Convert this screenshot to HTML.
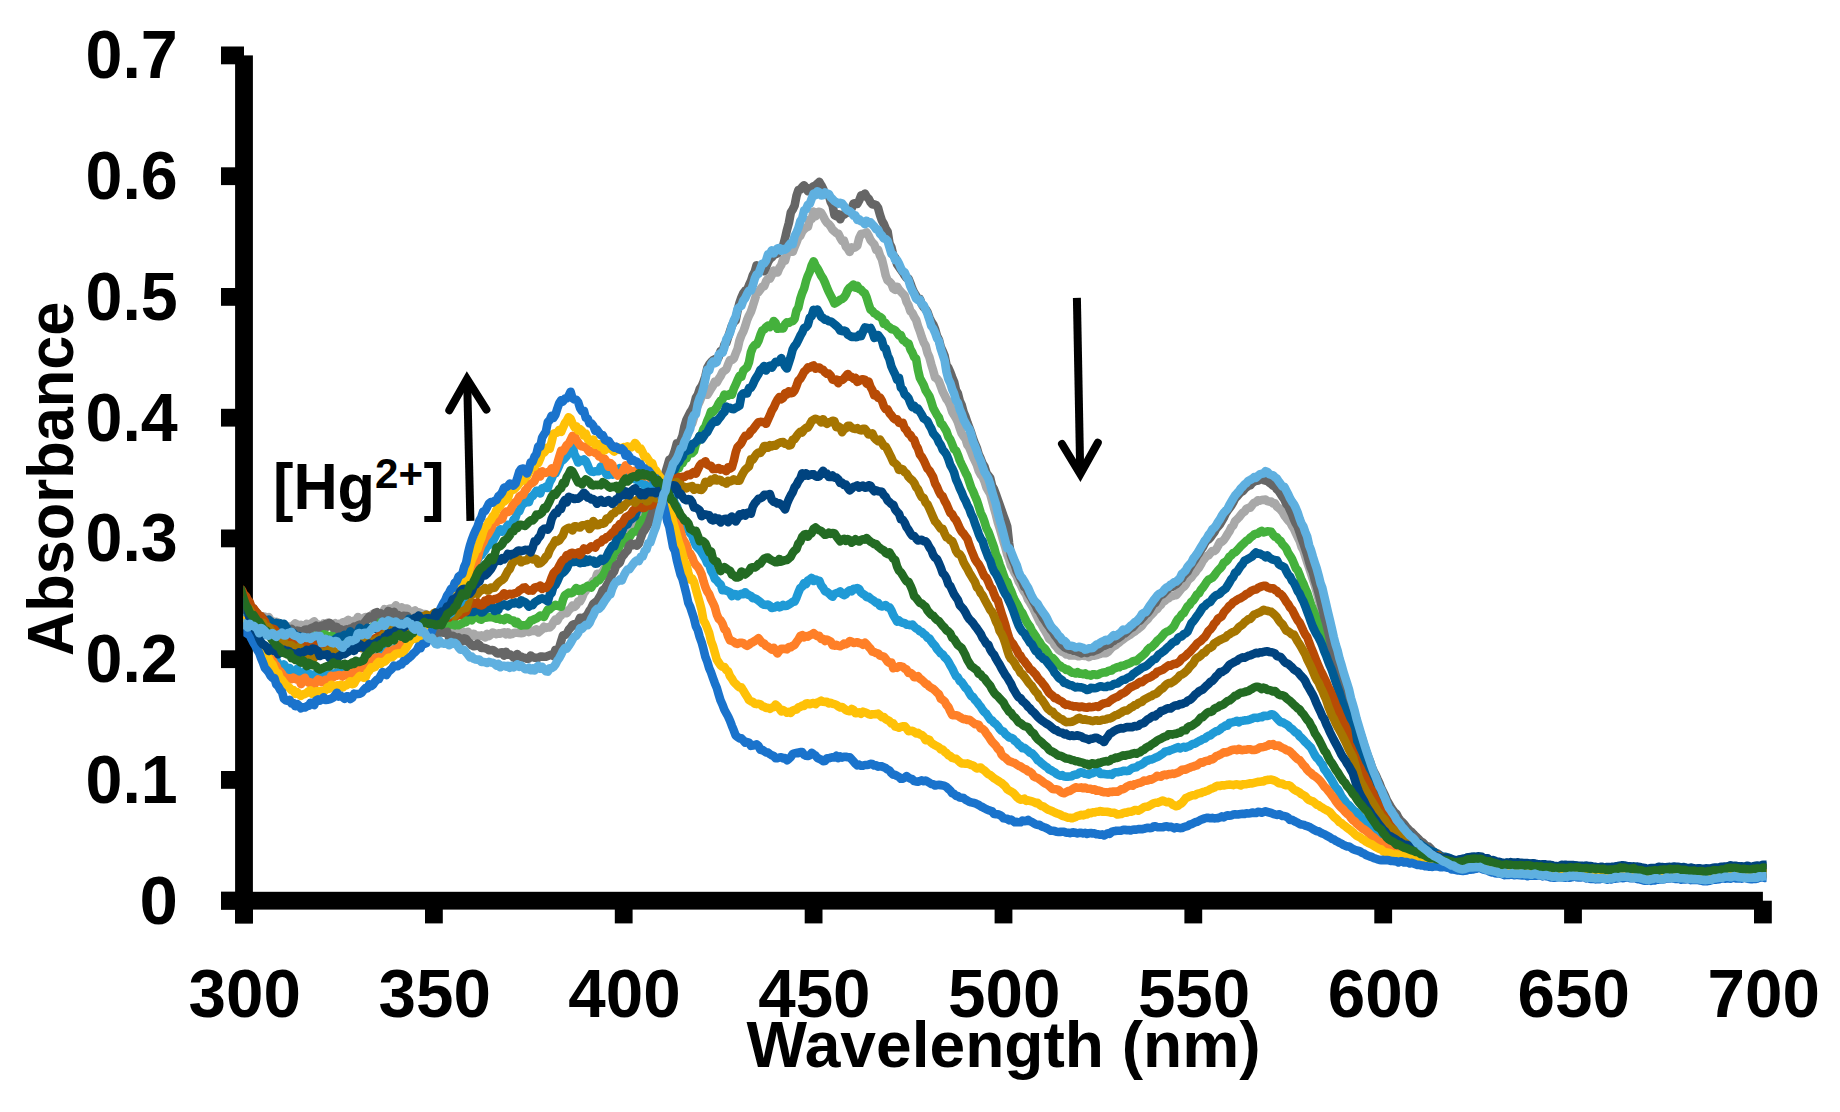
<!DOCTYPE html>
<html lang="en"><head><meta charset="utf-8"><title>UV-vis titration</title>
<style>html,body{margin:0;padding:0;background:#fff}svg{display:block}</style></head>
<body>
<svg width="1840" height="1112" viewBox="0 0 1840 1112">
<rect width="1840" height="1112" fill="#fff"/>
<g fill="#000">
<rect x="235.1" y="55.4" width="17.8" height="868.0"/>
<rect x="221.0" y="891.8" width="1541.9" height="17.8"/>
<rect x="221" y="891.8" width="23.0" height="17.8"/>
<rect x="221" y="771.0" width="23.0" height="17.8"/>
<rect x="221" y="650.3" width="23.0" height="17.8"/>
<rect x="221" y="529.5" width="23.0" height="17.8"/>
<rect x="221" y="408.8" width="23.0" height="17.8"/>
<rect x="221" y="288.0" width="23.0" height="17.8"/>
<rect x="221" y="167.3" width="23.0" height="17.8"/>
<rect x="221" y="46.5" width="23.0" height="17.8"/>
<rect x="235.1" y="900.7" width="17.8" height="22.7"/>
<rect x="425.0" y="900.7" width="17.8" height="22.7"/>
<rect x="614.8" y="900.7" width="17.8" height="22.7"/>
<rect x="804.7" y="900.7" width="17.8" height="22.7"/>
<rect x="994.6" y="900.7" width="17.8" height="22.7"/>
<rect x="1184.4" y="900.7" width="17.8" height="22.7"/>
<rect x="1374.3" y="900.7" width="17.8" height="22.7"/>
<rect x="1564.1" y="900.7" width="17.8" height="22.7"/>
<rect x="1754.0" y="900.7" width="17.8" height="22.7"/>
</g>
<clipPath id="plotclip"><rect x="243.3" y="0" width="1523.2" height="1112"/></clipPath>
<g clip-path="url(#plotclip)">
<polyline fill="none" stroke="#a8a8a8" stroke-width="8.6" stroke-linejoin="round" stroke-linecap="butt" points="240.2,614.8 242.1,614.4 244.0,620.3 245.9,617.7 247.8,616.7 249.7,617.0 251.6,615.9 253.5,615.5 255.4,617.6 257.3,616.9 259.2,619.2 261.1,618.6 263.0,616.4 264.9,616.8 266.8,618.1 268.7,617.1 270.6,620.2 272.5,621.1 274.4,623.6 276.3,621.8 278.2,622.5 280.1,624.5 282.0,626.1 283.9,624.5 285.8,628.7 287.7,626.4 289.6,628.2 291.5,626.2 293.4,625.2 295.3,623.4 297.2,624.5 299.1,628.5 301.0,624.8 302.9,626.7 304.8,626.7 306.7,623.7 308.6,624.9 310.5,625.4 312.4,622.5 314.2,621.3 316.1,624.2 318.0,624.4 319.9,627.6 321.8,626.4 323.7,623.5 325.6,624.3 327.5,622.8 329.4,625.4 331.3,626.1 333.2,624.5 335.1,623.3 337.0,625.7 338.9,623.9 340.8,625.6 342.7,622.3 344.6,622.1 346.5,621.2 348.4,619.9 350.3,625.1 352.2,624.7 354.1,620.6 356.0,621.3 357.9,617.0 359.8,620.3 361.7,620.6 363.6,618.1 365.5,617.1 367.4,617.2 369.3,617.2 371.2,615.5 373.1,613.9 375.0,613.9 376.9,613.2 378.8,614.6 380.7,613.4 382.6,612.8 384.5,609.2 386.4,609.6 388.3,609.3 390.2,608.5 392.1,608.5 394.0,607.7 395.9,605.4 397.8,608.6 399.7,609.4 401.6,607.2 403.5,609.6 405.4,608.6 407.3,608.6 409.2,610.9 411.1,614.4 413.0,612.9 414.9,610.4 416.8,612.7 418.7,612.3 420.6,613.0 422.5,615.7 424.4,614.1 426.3,614.3 428.2,615.8 430.1,621.1 432.0,621.7 433.9,621.4 435.8,621.9 437.7,624.8 439.6,627.3 441.5,625.6 443.4,627.3 445.3,631.7 447.2,630.6 449.1,629.2 451.0,630.2 452.8,630.5 454.7,631.9 456.6,632.2 458.5,631.4 460.4,632.0 462.3,633.2 464.2,632.2 466.1,633.3 468.0,631.8 469.9,634.9 471.8,636.6 473.7,633.7 475.6,635.7 477.5,635.6 479.4,635.7 481.3,635.4 483.2,636.4 485.1,637.3 487.0,633.9 488.9,636.0 490.8,634.5 492.7,632.5 494.6,633.2 496.5,634.2 498.4,633.3 500.3,633.7 502.2,632.8 504.1,632.3 506.0,634.4 507.9,632.2 509.8,634.4 511.7,634.1 513.6,633.1 515.5,632.8 517.4,632.7 519.3,633.0 521.2,633.1 523.1,633.0 525.0,630.3 526.9,629.1 528.8,632.0 530.7,631.2 532.6,630.8 534.5,631.0 536.4,629.4 538.3,632.5 540.2,630.9 542.1,629.4 544.0,626.8 545.9,628.0 547.8,627.3 549.7,627.4 551.6,625.8 553.5,622.1 555.4,619.4 557.3,620.8 559.2,617.0 561.1,615.4 563.0,613.5 564.9,613.3 566.8,613.1 568.7,610.1 570.6,608.6 572.5,605.5 574.4,606.9 576.3,605.3 578.2,601.2 580.1,601.4 582.0,597.9 583.9,593.2 585.8,590.6 587.7,587.4 589.5,585.3 591.4,583.8 593.3,580.9 595.2,580.2 597.1,573.9 599.0,573.7 600.9,573.5 602.8,571.5 604.7,568.2 606.6,562.1 608.5,557.1 610.4,555.5 612.3,556.8 614.2,551.8 616.1,546.0 618.0,540.2 619.9,538.8 621.8,535.8 623.7,534.5 625.6,531.9 627.5,526.5 629.4,527.2 631.3,527.7 633.2,523.7 635.1,519.7 637.0,516.7 638.9,513.9 640.8,516.9 642.7,515.0 644.6,509.8 646.5,509.6 648.4,504.3 650.3,501.7 652.2,498.7 654.1,496.7 656.0,494.7 657.9,491.8 659.8,488.1 661.7,485.6 663.6,484.6 665.5,483.1 667.4,479.5 669.3,473.0 671.2,469.5 673.1,465.6 675.0,462.9 676.9,456.7 678.8,454.3 680.7,450.1 682.6,443.4 684.5,436.1 686.4,432.6 688.3,430.5 690.2,424.7 692.1,423.8 694.0,417.5 695.9,410.0 697.8,405.3 699.7,401.3 701.6,396.7 703.5,390.9 705.4,391.1 707.3,394.8 709.2,391.9 711.1,388.6 713.0,385.6 714.9,381.5 716.8,382.4 718.7,378.9 720.6,376.1 722.5,372.1 724.4,370.8 726.3,369.4 728.1,364.4 730.0,360.1 731.9,360.0 733.8,358.6 735.7,353.4 737.6,348.9 739.5,340.4 741.4,335.2 743.3,331.6 745.2,326.2 747.1,319.9 749.0,315.6 750.9,311.8 752.8,306.1 754.7,299.9 756.6,293.5 758.5,292.0 760.4,289.4 762.3,286.7 764.2,286.3 766.1,281.2 768.0,278.7 769.9,278.8 771.8,275.1 773.7,270.6 775.6,271.1 777.5,272.5 779.4,267.9 781.3,265.0 783.2,259.1 785.1,260.7 787.0,253.7 788.9,251.8 790.8,250.3 792.7,251.8 794.6,247.0 796.5,242.3 798.4,237.3 800.3,235.8 802.2,231.5 804.1,229.2 806.0,227.6 807.9,226.8 809.8,219.5 811.7,219.2 813.6,211.6 815.5,216.3 817.4,212.3 819.3,211.7 821.2,212.8 823.1,216.1 825.0,219.8 826.9,222.7 828.8,224.1 830.7,226.5 832.6,229.8 834.5,231.4 836.4,233.1 838.3,233.6 840.2,237.6 842.1,241.0 844.0,240.7 845.9,246.6 847.8,248.8 849.7,251.9 851.6,247.3 853.5,247.8 855.4,247.3 857.3,245.7 859.2,238.0 861.1,234.0 863.0,233.6 864.9,233.2 866.7,232.4 868.6,235.6 870.5,240.0 872.4,242.4 874.3,244.4 876.2,249.7 878.1,249.7 880.0,255.6 881.9,259.3 883.8,267.1 885.7,275.5 887.6,280.4 889.5,281.8 891.4,283.7 893.3,288.6 895.2,289.7 897.1,286.7 899.0,289.6 900.9,291.8 902.8,293.7 904.7,295.7 906.6,302.0 908.5,305.4 910.4,311.2 912.3,312.9 914.2,316.9 916.1,319.8 918.0,326.2 919.9,331.3 921.8,337.3 923.7,342.3 925.6,345.6 927.5,353.0 929.4,357.3 931.3,364.4 933.2,370.6 935.1,377.5 937.0,378.6 938.9,381.3 940.8,386.3 942.7,391.6 944.6,395.2 946.5,399.2 948.4,401.6 950.3,405.7 952.2,411.8 954.1,415.1 956.0,418.2 957.9,422.3 959.8,428.3 961.7,433.4 963.6,436.3 965.5,438.8 967.4,445.0 969.3,447.5 971.2,452.1 973.1,456.9 975.0,460.9 976.9,465.0 978.8,471.0 980.7,474.5 982.6,476.9 984.5,481.3 986.4,487.3 988.3,490.7 990.2,493.8 992.1,500.8 994.0,508.0 995.9,514.7 997.8,522.2 999.7,528.3 1001.6,534.9 1003.5,541.6 1005.3,547.1 1007.2,554.4 1009.1,559.0 1011.0,565.8 1012.9,569.0 1014.8,573.2 1016.7,576.1 1018.6,581.4 1020.5,584.4 1022.4,588.5 1024.3,591.8 1026.2,594.6 1028.1,599.6 1030.0,602.5 1031.9,605.7 1033.8,609.4 1035.7,613.6 1037.6,617.4 1039.5,621.6 1041.4,624.2 1043.3,627.9 1045.2,631.0 1047.1,634.2 1049.0,638.5 1050.9,640.0 1052.8,641.5 1054.7,645.0 1056.6,646.9 1058.5,649.7 1060.4,651.0 1062.3,652.0 1064.2,652.7 1066.1,654.5 1068.0,654.1 1069.9,655.5 1071.8,655.2 1073.7,655.5 1075.6,655.3 1077.5,656.1 1079.4,656.2 1081.3,655.6 1083.2,655.7 1085.1,656.0 1087.0,655.8 1088.9,657.1 1090.8,656.2 1092.7,655.3 1094.6,655.7 1096.5,655.2 1098.4,654.5 1100.3,653.9 1102.2,652.6 1104.1,653.1 1106.0,653.3 1107.9,652.0 1109.8,649.9 1111.7,647.7 1113.6,646.3 1115.5,645.4 1117.4,643.8 1119.3,642.5 1121.2,640.7 1123.1,639.4 1125.0,637.9 1126.9,636.7 1128.8,635.4 1130.7,634.4 1132.6,632.7 1134.5,631.7 1136.4,630.0 1138.3,628.8 1140.2,627.2 1142.0,625.7 1143.9,622.9 1145.8,620.9 1147.7,619.1 1149.6,616.5 1151.5,614.7 1153.4,612.6 1155.3,610.0 1157.2,609.1 1159.1,606.4 1161.0,604.7 1162.9,601.6 1164.8,600.9 1166.7,599.1 1168.6,598.3 1170.5,596.2 1172.4,596.2 1174.3,595.3 1176.2,595.2 1178.1,593.0 1180.0,590.4 1181.9,588.1 1183.8,586.8 1185.7,584.7 1187.6,580.8 1189.5,578.8 1191.4,577.3 1193.3,574.6 1195.2,572.6 1197.1,569.6 1199.0,567.7 1200.9,564.4 1202.8,560.8 1204.7,558.5 1206.6,556.0 1208.5,555.4 1210.4,553.1 1212.3,551.0 1214.2,551.0 1216.1,549.5 1218.0,546.0 1219.9,542.1 1221.8,541.8 1223.7,540.1 1225.6,537.4 1227.5,534.2 1229.4,531.4 1231.3,527.3 1233.2,525.6 1235.1,521.1 1237.0,519.4 1238.9,517.4 1240.8,515.1 1242.7,512.7 1244.6,511.6 1246.5,508.7 1248.4,507.9 1250.3,507.7 1252.2,505.1 1254.1,502.8 1256.0,502.2 1257.9,500.2 1259.8,500.6 1261.7,500.0 1263.6,499.7 1265.5,499.6 1267.4,501.2 1269.3,501.7 1271.2,501.5 1273.1,503.4 1275.0,503.2 1276.9,506.7 1278.8,508.0 1280.6,509.7 1282.5,512.0 1284.4,515.5 1286.3,517.9 1288.2,520.5 1290.1,522.2 1292.0,525.8 1293.9,528.7 1295.8,532.9 1297.7,537.0 1299.6,540.8 1301.5,546.8 1303.4,550.2 1305.3,556.3 1307.2,562.1 1309.1,567.6 1311.0,573.3 1312.9,579.2 1314.8,585.1 1316.7,591.9 1318.6,599.0 1320.5,605.8 1322.4,612.4 1324.3,618.9 1326.2,629.4 1328.1,638.6 1330.0,649.3 1331.9,657.7 1333.8,661.5 1335.7,665.6 1337.6,668.5 1339.5,673.3 1341.4,677.4 1343.3,682.9 1345.2,685.9 1347.1,691.9 1349.0,698.2 1350.9,704.2 1352.8,712.9 1354.7,719.5 1356.6,725.8 1358.5,732.3 1360.4,737.3 1362.3,743.7 1364.2,749.8 1366.1,756.1 1368.0,761.3 1369.9,767.2 1371.8,771.2 1373.7,776.7 1375.6,781.0 1377.5,785.9 1379.4,790.6 1381.3,795.3 1383.2,799.0 1385.1,803.6 1387.0,807.0 1388.9,810.4 1390.8,813.1 1392.7,816.8 1394.6,819.0 1396.5,821.6 1398.4,824.7 1400.3,826.5 1402.2,829.1 1404.1,831.5 1406.0,832.9 1407.9,835.0 1409.8,837.0 1411.7,839.0 1413.6,840.4 1415.5,842.8 1417.4,844.2 1419.2,845.1 1421.1,846.6 1423.0,848.0 1424.9,848.6 1426.8,850.3 1428.7,852.0 1430.6,853.2 1432.5,853.7 1434.4,854.7 1436.3,856.1 1438.2,857.5 1440.1,858.9 1442.0,859.8 1443.9,861.1 1445.8,861.8 1447.7,863.5 1449.6,863.5 1451.5,863.6 1453.4,864.2 1455.3,864.3 1457.2,865.0 1459.1,865.2 1461.0,865.6 1462.9,865.9 1464.8,865.3 1466.7,865.2 1468.6,865.7 1470.5,865.9 1472.4,865.9 1474.3,865.7 1476.2,865.1 1478.1,865.2 1480.0,864.8 1481.9,865.5 1483.8,866.9 1485.7,867.8 1487.6,867.8 1489.5,868.5 1491.4,869.3 1493.3,869.0 1495.2,869.1 1497.1,869.7 1499.0,869.7 1500.9,871.1 1502.8,871.3 1504.7,871.3 1506.6,871.5 1508.5,871.7 1510.4,871.6 1512.3,871.2 1514.2,871.8 1516.1,871.7 1518.0,871.9 1519.9,871.7 1521.8,872.0 1523.7,871.5 1525.6,872.1 1527.5,872.1 1529.4,872.7 1531.3,872.2 1533.2,872.1 1535.1,872.7 1537.0,872.1 1538.9,873.0 1540.8,873.2 1542.7,873.2 1544.6,873.6 1546.5,873.7 1548.4,873.6 1550.3,874.3 1552.2,874.1 1554.1,874.5 1555.9,874.7 1557.8,874.4 1559.7,874.3 1561.6,874.5 1563.5,874.3 1565.4,874.8 1567.3,874.7 1569.2,874.2 1571.1,874.5 1573.0,873.3 1574.9,874.4 1576.8,873.8 1578.7,873.7 1580.6,874.7 1582.5,874.1 1584.4,874.3 1586.3,874.8 1588.2,874.2 1590.1,874.9 1592.0,875.6 1593.9,875.3 1595.8,876.1 1597.7,875.6 1599.6,876.4 1601.5,876.4 1603.4,876.4 1605.3,876.4 1607.2,876.1 1609.1,876.5 1611.0,875.6 1612.9,875.6 1614.8,875.7 1616.7,875.5 1618.6,875.3 1620.5,874.6 1622.4,874.1 1624.3,874.6 1626.2,874.7 1628.1,875.3 1630.0,874.4 1631.9,874.9 1633.8,875.4 1635.7,875.5 1637.6,875.3 1639.5,876.1 1641.4,876.9 1643.3,876.8 1645.2,876.9 1647.1,877.1 1649.0,876.9 1650.9,876.5 1652.8,878.0 1654.7,877.1 1656.6,877.3 1658.5,877.2 1660.4,876.5 1662.3,876.6 1664.2,877.0 1666.1,876.9 1668.0,876.6 1669.9,875.9 1671.8,875.6 1673.7,875.7 1675.6,876.2 1677.5,875.5 1679.4,876.1 1681.3,876.5 1683.2,876.7 1685.1,876.6 1687.0,876.5 1688.9,877.1 1690.8,877.0 1692.7,877.3 1694.5,877.2 1696.4,877.3 1698.3,877.4 1700.2,877.4 1702.1,878.2 1704.0,877.7 1705.9,878.0 1707.8,877.6 1709.7,877.6 1711.6,876.7 1713.5,876.8 1715.4,876.7 1717.3,877.0 1719.2,876.8 1721.1,876.3 1723.0,875.9 1724.9,875.7 1726.8,875.8 1728.7,875.8 1730.6,875.4 1732.5,875.4 1734.4,874.5 1736.3,875.2 1738.2,875.9 1740.1,875.5 1742.0,875.2 1743.9,875.9 1745.8,875.0 1747.7,875.9 1749.6,875.4 1751.5,875.7 1753.4,875.1 1755.3,875.7 1757.2,875.3 1759.1,874.8 1761.0,874.7 1762.9,875.0 1764.8,875.1 1766.7,874.5 1768.6,874.2 1770.5,874.8 1772.4,874.4"/>
<polyline fill="none" stroke="#44b13c" stroke-width="8.6" stroke-linejoin="round" stroke-linecap="butt" points="240.2,618.9 242.1,618.5 244.0,619.1 245.9,619.9 247.8,617.7 249.7,616.3 251.6,617.0 253.5,620.0 255.4,622.5 257.3,622.4 259.2,620.7 261.1,624.8 263.0,622.1 264.9,623.5 266.8,624.3 268.7,626.3 270.6,628.7 272.5,626.2 274.4,627.8 276.3,630.0 278.2,629.1 280.1,631.0 282.0,632.7 283.9,631.6 285.8,632.0 287.7,634.3 289.6,634.9 291.5,636.0 293.4,639.6 295.3,638.9 297.2,638.4 299.1,636.7 301.0,638.9 302.9,636.9 304.8,639.8 306.7,640.1 308.6,635.5 310.5,635.3 312.4,636.7 314.2,636.8 316.1,635.4 318.0,634.7 319.9,637.1 321.8,635.7 323.7,633.5 325.6,634.5 327.5,636.3 329.4,637.7 331.3,635.8 333.2,634.7 335.1,633.6 337.0,633.7 338.9,635.3 340.8,636.8 342.7,637.3 344.6,635.2 346.5,636.3 348.4,636.4 350.3,636.0 352.2,631.0 354.1,632.3 356.0,631.7 357.9,633.2 359.8,630.6 361.7,630.3 363.6,629.2 365.5,629.7 367.4,628.6 369.3,628.1 371.2,628.1 373.1,626.7 375.0,625.5 376.9,623.0 378.8,622.2 380.7,624.6 382.6,621.5 384.5,620.9 386.4,620.4 388.3,620.2 390.2,616.4 392.1,622.6 394.0,620.4 395.9,620.5 397.8,624.1 399.7,619.9 401.6,622.5 403.5,622.6 405.4,621.0 407.3,624.5 409.2,623.7 411.1,624.7 413.0,624.8 414.9,626.7 416.8,630.0 418.7,626.0 420.6,628.2 422.5,626.8 424.4,626.9 426.3,624.6 428.2,625.0 430.1,626.2 432.0,628.4 433.9,628.3 435.8,628.7 437.7,629.0 439.6,625.4 441.5,628.1 443.4,625.9 445.3,626.4 447.2,624.8 449.1,624.6 451.0,624.7 452.8,620.3 454.7,625.4 456.6,624.2 458.5,625.2 460.4,624.2 462.3,623.7 464.2,621.5 466.1,622.0 468.0,616.3 469.9,617.3 471.8,620.4 473.7,616.0 475.6,616.3 477.5,616.8 479.4,619.1 481.3,619.7 483.2,618.0 485.1,617.8 487.0,617.5 488.9,617.1 490.8,617.1 492.7,617.3 494.6,617.9 496.5,618.6 498.4,617.9 500.3,619.6 502.2,619.3 504.1,620.2 506.0,617.8 507.9,618.2 509.8,619.6 511.7,620.4 513.6,620.5 515.5,623.4 517.4,622.1 519.3,624.5 521.2,625.6 523.1,625.3 525.0,625.2 526.9,625.3 528.8,623.3 530.7,620.7 532.6,620.1 534.5,619.1 536.4,618.5 538.3,617.1 540.2,615.6 542.1,615.9 544.0,616.9 545.9,613.0 547.8,609.6 549.7,609.4 551.6,607.4 553.5,606.1 555.4,604.9 557.3,605.6 559.2,606.3 561.1,606.7 563.0,599.7 564.9,595.1 566.8,594.0 568.7,592.6 570.6,593.3 572.5,592.7 574.4,590.4 576.3,588.0 578.2,590.9 580.1,589.1 582.0,590.4 583.9,588.0 585.8,587.5 587.7,585.9 589.5,587.1 591.4,587.6 593.3,584.0 595.2,583.2 597.1,580.5 599.0,580.5 600.9,577.8 602.8,575.7 604.7,572.5 606.6,567.7 608.5,563.6 610.4,563.4 612.3,558.6 614.2,553.7 616.1,550.0 618.0,549.6 619.9,544.8 621.8,543.7 623.7,536.8 625.6,539.9 627.5,537.1 629.4,537.3 631.3,534.1 633.2,532.1 635.1,531.5 637.0,531.4 638.9,526.4 640.8,521.2 642.7,519.7 644.6,519.2 646.5,512.5 648.4,509.6 650.3,509.0 652.2,505.0 654.1,499.0 656.0,498.4 657.9,496.5 659.8,494.4 661.7,492.7 663.6,486.2 665.5,483.4 667.4,481.3 669.3,479.4 671.2,475.0 673.1,472.8 675.0,468.9 676.9,469.0 678.8,468.3 680.7,463.7 682.6,463.1 684.5,459.1 686.4,458.5 688.3,453.9 690.2,453.5 692.1,453.2 694.0,451.1 695.9,443.7 697.8,441.0 699.7,436.2 701.6,434.4 703.5,429.0 705.4,426.4 707.3,421.0 709.2,416.6 711.1,411.3 713.0,412.2 714.9,409.7 716.8,407.3 718.7,403.5 720.6,400.7 722.5,399.5 724.4,394.6 726.3,395.2 728.1,395.7 730.0,393.9 731.9,394.7 733.8,388.6 735.7,384.7 737.6,380.1 739.5,376.0 741.4,376.8 743.3,370.7 745.2,368.9 747.1,367.2 749.0,362.2 750.9,352.4 752.8,347.5 754.7,345.0 756.6,344.4 758.5,340.8 760.4,335.0 762.3,330.5 764.2,329.4 766.1,327.1 768.0,325.6 769.9,327.1 771.8,325.1 773.7,321.0 775.6,323.0 777.5,328.8 779.4,327.3 781.3,328.5 783.2,328.4 785.1,324.3 787.0,322.3 788.9,322.8 790.8,321.6 792.7,321.1 794.6,318.9 796.5,310.5 798.4,307.4 800.3,298.9 802.2,293.0 804.1,288.6 806.0,281.2 807.9,275.7 809.8,271.6 811.7,265.3 813.6,261.3 815.5,265.6 817.4,268.4 819.3,271.9 821.2,275.8 823.1,278.5 825.0,282.6 826.9,287.5 828.8,291.9 830.7,295.6 832.6,299.3 834.5,303.6 836.4,302.5 838.3,301.4 840.2,299.7 842.1,299.0 844.0,297.4 845.9,294.5 847.8,289.9 849.7,287.6 851.6,286.2 853.5,284.5 855.4,287.7 857.3,285.8 859.2,289.2 861.1,289.7 863.0,292.0 864.9,293.3 866.7,297.7 868.6,303.9 870.5,309.7 872.4,310.9 874.3,313.3 876.2,314.3 878.1,316.0 880.0,316.9 881.9,318.2 883.8,324.0 885.7,323.2 887.6,326.3 889.5,327.1 891.4,329.2 893.3,329.4 895.2,330.3 897.1,332.5 899.0,335.6 900.9,335.2 902.8,340.0 904.7,340.9 906.6,343.0 908.5,343.4 910.4,349.3 912.3,352.5 914.2,357.2 916.1,358.7 918.0,370.0 919.9,378.0 921.8,381.5 923.7,385.1 925.6,390.2 927.5,393.3 929.4,396.3 931.3,401.7 933.2,407.9 935.1,411.5 937.0,415.0 938.9,417.6 940.8,423.6 942.7,424.9 944.6,428.1 946.5,431.3 948.4,436.8 950.3,439.7 952.2,444.2 954.1,449.1 956.0,450.6 957.9,454.9 959.8,460.5 961.7,464.6 963.6,468.4 965.5,472.6 967.4,476.1 969.3,481.8 971.2,487.6 973.1,491.4 975.0,496.1 976.9,500.5 978.8,506.4 980.7,512.8 982.6,516.6 984.5,521.7 986.4,528.1 988.3,531.6 990.2,536.6 992.1,542.0 994.0,547.2 995.9,554.3 997.8,558.4 999.7,564.6 1001.6,569.3 1003.5,574.8 1005.3,579.7 1007.2,581.5 1009.1,586.8 1011.0,590.8 1012.9,595.8 1014.8,600.3 1016.7,603.4 1018.6,606.8 1020.5,610.8 1022.4,613.1 1024.3,617.2 1026.2,621.0 1028.1,624.2 1030.0,626.7 1031.9,630.7 1033.8,633.3 1035.7,636.1 1037.6,639.6 1039.5,641.9 1041.4,645.2 1043.3,647.3 1045.2,649.0 1047.1,651.9 1049.0,655.3 1050.9,657.4 1052.8,658.1 1054.7,660.2 1056.6,662.7 1058.5,664.7 1060.4,665.7 1062.3,667.6 1064.2,668.1 1066.1,669.9 1068.0,669.6 1069.9,671.1 1071.8,672.6 1073.7,672.8 1075.6,673.5 1077.5,672.1 1079.4,673.6 1081.3,673.6 1083.2,674.2 1085.1,673.4 1087.0,675.0 1088.9,674.7 1090.8,675.6 1092.7,674.4 1094.6,674.2 1096.5,675.0 1098.4,674.5 1100.3,673.3 1102.2,672.8 1104.1,672.4 1106.0,672.5 1107.9,671.2 1109.8,670.6 1111.7,670.4 1113.6,668.8 1115.5,668.0 1117.4,667.1 1119.3,667.3 1121.2,665.9 1123.1,665.8 1125.0,665.1 1126.9,664.2 1128.8,663.6 1130.7,662.8 1132.6,661.4 1134.5,660.9 1136.4,661.1 1138.3,659.1 1140.2,657.4 1142.0,656.1 1143.9,654.4 1145.8,652.5 1147.7,649.6 1149.6,647.9 1151.5,647.2 1153.4,645.3 1155.3,643.4 1157.2,640.9 1159.1,639.3 1161.0,637.6 1162.9,635.3 1164.8,633.0 1166.7,631.7 1168.6,631.0 1170.5,629.9 1172.4,628.0 1174.3,625.7 1176.2,621.8 1178.1,618.8 1180.0,617.3 1181.9,614.1 1183.8,613.0 1185.7,609.7 1187.6,606.3 1189.5,605.0 1191.4,601.8 1193.3,600.3 1195.2,597.5 1197.1,594.3 1199.0,593.4 1200.9,589.8 1202.8,587.6 1204.7,585.0 1206.6,582.0 1208.5,579.7 1210.4,578.8 1212.3,577.8 1214.2,575.7 1216.1,573.0 1218.0,570.5 1219.9,568.7 1221.8,566.4 1223.7,562.8 1225.6,561.7 1227.5,560.0 1229.4,556.8 1231.3,555.4 1233.2,553.0 1235.1,552.2 1237.0,550.5 1238.9,548.3 1240.8,546.2 1242.7,544.4 1244.6,542.6 1246.5,540.6 1248.4,539.8 1250.3,537.6 1252.2,536.3 1254.1,534.5 1256.0,533.7 1257.9,533.6 1259.8,531.8 1261.7,530.9 1263.6,532.4 1265.5,531.8 1267.4,531.3 1269.3,531.5 1271.2,531.8 1273.1,534.7 1275.0,536.7 1276.9,537.4 1278.8,539.9 1280.6,541.0 1282.5,544.3 1284.4,546.2 1286.3,548.6 1288.2,552.9 1290.1,555.8 1292.0,559.0 1293.9,563.4 1295.8,568.2 1297.7,570.2 1299.6,574.8 1301.5,579.9 1303.4,583.7 1305.3,588.5 1307.2,592.6 1309.1,598.5 1311.0,604.6 1312.9,609.4 1314.8,614.2 1316.7,619.0 1318.6,624.5 1320.5,627.4 1322.4,631.2 1324.3,633.4 1326.2,636.2 1328.1,639.8 1330.0,643.3 1331.9,647.7 1333.8,653.3 1335.7,658.6 1337.6,663.7 1339.5,669.3 1341.4,675.8 1343.3,682.0 1345.2,687.8 1347.1,694.1 1349.0,700.8 1350.9,706.8 1352.8,712.1 1354.7,719.0 1356.6,724.0 1358.5,730.5 1360.4,736.6 1362.3,743.3 1364.2,750.1 1366.1,756.6 1368.0,763.3 1369.9,767.8 1371.8,773.8 1373.7,778.3 1375.6,783.4 1377.5,788.4 1379.4,792.1 1381.3,796.1 1383.2,799.9 1385.1,804.4 1387.0,807.4 1388.9,810.5 1390.8,813.7 1392.7,816.3 1394.6,818.3 1396.5,820.5 1398.4,823.6 1400.3,826.3 1402.2,828.2 1404.1,830.8 1406.0,832.4 1407.9,834.3 1409.8,836.7 1411.7,837.0 1413.6,839.8 1415.5,842.0 1417.4,842.9 1419.2,845.2 1421.1,846.0 1423.0,848.4 1424.9,849.9 1426.8,850.8 1428.7,852.5 1430.6,853.9 1432.5,855.2 1434.4,856.2 1436.3,857.3 1438.2,858.9 1440.1,858.9 1442.0,860.7 1443.9,860.9 1445.8,861.6 1447.7,862.3 1449.6,862.8 1451.5,864.0 1453.4,864.3 1455.3,865.0 1457.2,865.2 1459.1,865.0 1461.0,865.4 1462.9,865.1 1464.8,864.8 1466.7,864.2 1468.6,863.8 1470.5,863.5 1472.4,862.9 1474.3,863.4 1476.2,863.1 1478.1,863.1 1480.0,862.8 1481.9,863.8 1483.8,864.7 1485.7,865.5 1487.6,865.9 1489.5,866.4 1491.4,866.5 1493.3,867.4 1495.2,867.3 1497.1,868.3 1499.0,868.6 1500.9,869.7 1502.8,869.4 1504.7,869.7 1506.6,869.6 1508.5,869.8 1510.4,869.9 1512.3,868.9 1514.2,869.0 1516.1,869.8 1518.0,869.7 1519.9,869.5 1521.8,869.7 1523.7,870.3 1525.6,870.3 1527.5,869.9 1529.4,870.2 1531.3,870.3 1533.2,870.2 1535.1,871.3 1537.0,870.9 1538.9,871.0 1540.8,871.4 1542.7,871.5 1544.6,872.0 1546.5,871.5 1548.4,872.0 1550.3,871.7 1552.2,871.9 1554.1,872.6 1555.9,872.8 1557.8,872.3 1559.7,872.7 1561.6,872.6 1563.5,871.9 1565.4,871.8 1567.3,872.5 1569.2,872.2 1571.1,872.5 1573.0,872.5 1574.9,871.7 1576.8,872.7 1578.7,872.5 1580.6,871.8 1582.5,872.1 1584.4,872.6 1586.3,872.8 1588.2,872.7 1590.1,874.0 1592.0,873.3 1593.9,873.9 1595.8,873.9 1597.7,874.3 1599.6,874.2 1601.5,873.9 1603.4,874.7 1605.3,874.8 1607.2,874.7 1609.1,874.4 1611.0,874.2 1612.9,874.1 1614.8,874.1 1616.7,874.2 1618.6,873.1 1620.5,872.2 1622.4,872.3 1624.3,872.4 1626.2,872.8 1628.1,872.9 1630.0,873.3 1631.9,873.5 1633.8,872.8 1635.7,873.4 1637.6,874.5 1639.5,874.2 1641.4,874.2 1643.3,874.5 1645.2,876.0 1647.1,875.6 1649.0,875.0 1650.9,874.8 1652.8,875.4 1654.7,874.4 1656.6,874.2 1658.5,874.4 1660.4,874.7 1662.3,874.4 1664.2,873.6 1666.1,875.0 1668.0,873.8 1669.9,873.9 1671.8,873.8 1673.7,873.8 1675.6,873.1 1677.5,873.2 1679.4,873.5 1681.3,874.0 1683.2,874.4 1685.1,874.6 1687.0,875.0 1688.9,874.6 1690.8,875.2 1692.7,874.6 1694.5,875.6 1696.4,875.7 1698.3,875.9 1700.2,876.1 1702.1,876.3 1704.0,876.6 1705.9,876.1 1707.8,875.9 1709.7,875.8 1711.6,874.7 1713.5,874.1 1715.4,874.3 1717.3,874.1 1719.2,874.1 1721.1,874.2 1723.0,873.5 1724.9,873.4 1726.8,873.5 1728.7,873.4 1730.6,872.8 1732.5,873.0 1734.4,872.9 1736.3,872.9 1738.2,873.6 1740.1,873.1 1742.0,872.5 1743.9,873.2 1745.8,873.6 1747.7,873.8 1749.6,873.5 1751.5,873.8 1753.4,873.7 1755.3,873.3 1757.2,873.2 1759.1,873.6 1761.0,872.9 1762.9,872.2 1764.8,872.1 1766.7,872.6 1768.6,872.4 1770.5,871.9 1772.4,872.7"/>
<polyline fill="none" stroke="#666666" stroke-width="8.6" stroke-linejoin="round" stroke-linecap="butt" points="240.2,598.6 242.1,602.0 244.0,600.9 245.9,606.4 247.8,611.7 249.7,610.3 251.6,609.7 253.5,608.7 255.4,612.5 257.3,613.3 259.2,616.9 261.1,616.4 263.0,621.4 264.9,624.7 266.8,621.3 268.7,623.9 270.6,626.3 272.5,626.7 274.4,626.8 276.3,626.8 278.2,627.7 280.1,628.2 282.0,627.4 283.9,627.8 285.8,629.6 287.7,632.1 289.6,630.7 291.5,628.9 293.4,630.7 295.3,633.3 297.2,630.6 299.1,631.0 301.0,631.2 302.9,632.3 304.8,629.8 306.7,629.5 308.6,630.5 310.5,628.6 312.4,627.6 314.2,627.1 316.1,625.8 318.0,628.0 319.9,626.5 321.8,625.5 323.7,625.8 325.6,624.1 327.5,626.6 329.4,622.8 331.3,624.2 333.2,627.9 335.1,626.5 337.0,627.1 338.9,630.5 340.8,629.3 342.7,630.9 344.6,630.2 346.5,629.3 348.4,632.0 350.3,628.5 352.2,628.8 354.1,626.5 356.0,628.5 357.9,625.5 359.8,624.6 361.7,625.2 363.6,624.0 365.5,621.4 367.4,619.1 369.3,616.6 371.2,618.3 373.1,618.8 375.0,613.0 376.9,612.2 378.8,614.2 380.7,613.3 382.6,615.1 384.5,616.1 386.4,614.2 388.3,611.0 390.2,612.1 392.1,614.8 394.0,611.9 395.9,616.1 397.8,614.9 399.7,616.2 401.6,616.6 403.5,615.9 405.4,616.1 407.3,616.1 409.2,618.6 411.1,620.0 413.0,621.0 414.9,619.1 416.8,617.3 418.7,619.4 420.6,619.9 422.5,624.4 424.4,628.0 426.3,626.1 428.2,623.5 430.1,623.6 432.0,626.4 433.9,628.6 435.8,629.3 437.7,633.8 439.6,632.0 441.5,629.9 443.4,632.8 445.3,632.7 447.2,631.7 449.1,637.8 451.0,635.6 452.8,635.8 454.7,636.9 456.6,638.3 458.5,637.3 460.4,641.6 462.3,641.4 464.2,638.4 466.1,638.9 468.0,641.7 469.9,643.3 471.8,645.4 473.7,646.2 475.6,645.9 477.5,643.6 479.4,644.8 481.3,648.0 483.2,647.8 485.1,648.2 487.0,648.8 488.9,650.1 490.8,650.3 492.7,650.0 494.6,651.2 496.5,653.0 498.4,653.5 500.3,652.5 502.2,652.3 504.1,655.6 506.0,651.9 507.9,654.7 509.8,654.3 511.7,655.6 513.6,657.6 515.5,655.7 517.4,654.0 519.3,656.7 521.2,656.6 523.1,657.9 525.0,657.9 526.9,658.7 528.8,658.6 530.7,655.5 532.6,657.1 534.5,657.7 536.4,657.7 538.3,657.7 540.2,656.6 542.1,656.6 544.0,656.7 545.9,656.7 547.8,656.0 549.7,655.3 551.6,654.6 553.5,656.0 555.4,649.9 557.3,650.9 559.2,647.6 561.1,641.2 563.0,635.3 564.9,635.1 566.8,633.6 568.7,629.8 570.6,627.8 572.5,624.8 574.4,624.2 576.3,625.8 578.2,621.8 580.1,617.7 582.0,618.8 583.9,617.4 585.8,616.7 587.7,614.2 589.5,610.6 591.4,607.9 593.3,603.9 595.2,602.4 597.1,601.1 599.0,597.8 600.9,594.6 602.8,590.0 604.7,589.0 606.6,585.7 608.5,582.3 610.4,578.7 612.3,573.8 614.2,571.3 616.1,565.4 618.0,564.3 619.9,562.4 621.8,557.0 623.7,554.9 625.6,552.3 627.5,550.5 629.4,545.3 631.3,543.7 633.2,545.2 635.1,544.0 637.0,545.7 638.9,543.6 640.8,537.6 642.7,532.6 644.6,530.1 646.5,527.0 648.4,523.4 650.3,518.1 652.2,512.7 654.1,508.9 656.0,503.3 657.9,496.8 659.8,494.2 661.7,487.6 663.6,481.7 665.5,472.5 667.4,466.3 669.3,459.6 671.2,458.8 673.1,455.7 675.0,450.2 676.9,443.2 678.8,443.3 680.7,440.5 682.6,435.6 684.5,426.2 686.4,419.9 688.3,416.2 690.2,412.4 692.1,409.5 694.0,405.2 695.9,397.8 697.8,394.8 699.7,389.0 701.6,386.3 703.5,381.8 705.4,376.3 707.3,367.9 709.2,364.5 711.1,362.1 713.0,360.2 714.9,359.1 716.8,360.3 718.7,357.0 720.6,351.0 722.5,351.7 724.4,344.7 726.3,342.9 728.1,337.2 730.0,331.3 731.9,325.7 733.8,322.1 735.7,320.3 737.6,310.6 739.5,302.9 741.4,297.5 743.3,293.3 745.2,290.7 747.1,290.1 749.0,285.2 750.9,281.2 752.8,275.3 754.7,271.9 756.6,265.3 758.5,267.3 760.4,267.4 762.3,269.6 764.2,271.2 766.1,266.9 768.0,262.1 769.9,259.0 771.8,257.5 773.7,255.3 775.6,254.3 777.5,253.2 779.4,248.4 781.3,249.0 783.2,245.3 785.1,238.1 787.0,229.8 788.9,222.9 790.8,212.6 792.7,209.5 794.6,205.6 796.5,195.9 798.4,190.0 800.3,189.6 802.2,187.0 804.1,185.3 806.0,188.2 807.9,191.2 809.8,189.0 811.7,187.7 813.6,186.2 815.5,185.5 817.4,183.6 819.3,181.9 821.2,185.1 823.1,188.7 825.0,194.0 826.9,193.7 828.8,195.1 830.7,201.8 832.6,205.5 834.5,215.1 836.4,216.1 838.3,214.3 840.2,219.2 842.1,214.8 844.0,214.6 845.9,213.3 847.8,212.4 849.7,210.8 851.6,208.5 853.5,203.6 855.4,203.0 857.3,203.9 859.2,200.5 861.1,195.4 863.0,196.4 864.9,193.6 866.7,196.9 868.6,198.6 870.5,202.2 872.4,204.4 874.3,204.3 876.2,205.2 878.1,208.0 880.0,214.8 881.9,220.5 883.8,223.9 885.7,228.6 887.6,231.5 889.5,243.4 891.4,247.1 893.3,255.3 895.2,257.7 897.1,264.3 899.0,267.0 900.9,269.8 902.8,272.4 904.7,275.6 906.6,277.9 908.5,278.5 910.4,283.3 912.3,288.6 914.2,292.7 916.1,295.6 918.0,299.4 919.9,298.9 921.8,304.2 923.7,307.4 925.6,309.1 927.5,312.1 929.4,317.5 931.3,321.5 933.2,324.5 935.1,329.1 937.0,335.8 938.9,339.6 940.8,347.0 942.7,351.0 944.6,355.9 946.5,365.0 948.4,367.9 950.3,372.2 952.2,377.3 954.1,381.8 956.0,390.3 957.9,393.5 959.8,401.0 961.7,405.1 963.6,412.2 965.5,416.7 967.4,422.6 969.3,427.6 971.2,432.8 973.1,438.7 975.0,443.7 976.9,448.2 978.8,454.7 980.7,458.7 982.6,463.6 984.5,466.6 986.4,472.8 988.3,475.6 990.2,477.9 992.1,485.8 994.0,489.2 995.9,494.3 997.8,499.7 999.7,504.9 1001.6,510.4 1003.5,515.9 1005.3,520.8 1007.2,526.3 1009.1,543.3 1011.0,555.3 1012.9,560.5 1014.8,564.7 1016.7,570.9 1018.6,574.4 1020.5,578.6 1022.4,582.0 1024.3,587.1 1026.2,587.9 1028.1,592.3 1030.0,595.7 1031.9,598.5 1033.8,602.4 1035.7,605.6 1037.6,609.5 1039.5,611.5 1041.4,615.2 1043.3,618.5 1045.2,621.1 1047.1,624.1 1049.0,626.6 1050.9,629.7 1052.8,631.8 1054.7,635.3 1056.6,637.6 1058.5,640.3 1060.4,643.3 1062.3,645.2 1064.2,647.0 1066.1,648.2 1068.0,648.6 1069.9,649.6 1071.8,649.4 1073.7,650.8 1075.6,650.7 1077.5,651.7 1079.4,652.3 1081.3,653.3 1083.2,652.1 1085.1,652.3 1087.0,653.0 1088.9,652.0 1090.8,651.0 1092.7,651.5 1094.6,650.6 1096.5,650.1 1098.4,649.3 1100.3,648.0 1102.2,646.0 1104.1,646.0 1106.0,645.0 1107.9,644.1 1109.8,643.8 1111.7,641.7 1113.6,641.0 1115.5,639.3 1117.4,638.6 1119.3,637.4 1121.2,636.0 1123.1,632.9 1125.0,633.5 1126.9,631.7 1128.8,629.9 1130.7,628.2 1132.6,627.4 1134.5,625.3 1136.4,623.0 1138.3,621.2 1140.2,620.6 1142.0,618.4 1143.9,616.5 1145.8,614.0 1147.7,612.8 1149.6,610.2 1151.5,607.1 1153.4,604.0 1155.3,603.0 1157.2,599.4 1159.1,596.6 1161.0,594.9 1162.9,594.2 1164.8,592.1 1166.7,590.0 1168.6,588.5 1170.5,587.2 1172.4,586.8 1174.3,585.4 1176.2,584.3 1178.1,582.3 1180.0,579.1 1181.9,578.5 1183.8,575.2 1185.7,573.5 1187.6,571.7 1189.5,567.8 1191.4,565.0 1193.3,562.0 1195.2,559.3 1197.1,555.7 1199.0,553.1 1200.9,549.9 1202.8,547.3 1204.7,543.4 1206.6,540.4 1208.5,539.6 1210.4,537.6 1212.3,534.8 1214.2,532.4 1216.1,528.8 1218.0,526.5 1219.9,524.4 1221.8,521.1 1223.7,517.9 1225.6,513.7 1227.5,510.8 1229.4,508.2 1231.3,505.7 1233.2,502.4 1235.1,498.4 1237.0,496.5 1238.9,494.2 1240.8,492.3 1242.7,491.3 1244.6,489.0 1246.5,487.2 1248.4,485.8 1250.3,485.4 1252.2,482.9 1254.1,481.6 1256.0,480.8 1257.9,480.8 1259.8,479.8 1261.7,479.0 1263.6,480.1 1265.5,480.6 1267.4,480.8 1269.3,482.6 1271.2,483.9 1273.1,485.8 1275.0,486.8 1276.9,489.4 1278.8,491.1 1280.6,493.9 1282.5,496.8 1284.4,499.6 1286.3,503.9 1288.2,506.0 1290.1,510.1 1292.0,514.3 1293.9,519.2 1295.8,523.4 1297.7,526.6 1299.6,532.2 1301.5,538.0 1303.4,543.2 1305.3,548.9 1307.2,554.7 1309.1,561.7 1311.0,567.9 1312.9,572.3 1314.8,579.9 1316.7,586.0 1318.6,593.1 1320.5,600.8 1322.4,608.6 1324.3,616.7 1326.2,623.0 1328.1,630.9 1330.0,639.4 1331.9,648.7 1333.8,656.9 1335.7,662.1 1337.6,667.1 1339.5,672.1 1341.4,676.7 1343.3,681.1 1345.2,685.4 1347.1,690.8 1349.0,697.4 1350.9,703.7 1352.8,710.3 1354.7,716.2 1356.6,722.1 1358.5,728.4 1360.4,733.3 1362.3,739.4 1364.2,745.5 1366.1,751.2 1368.0,756.3 1369.9,761.0 1371.8,766.9 1373.7,771.3 1375.6,774.8 1377.5,779.1 1379.4,783.1 1381.3,788.3 1383.2,792.0 1385.1,795.9 1387.0,800.4 1388.9,803.7 1390.8,807.0 1392.7,809.8 1394.6,812.3 1396.5,813.8 1398.4,817.6 1400.3,820.3 1402.2,822.1 1404.1,824.0 1406.0,826.6 1407.9,828.8 1409.8,830.8 1411.7,832.1 1413.6,834.2 1415.5,836.0 1417.4,837.9 1419.2,839.6 1421.1,841.6 1423.0,842.6 1424.9,844.7 1426.8,846.1 1428.7,846.7 1430.6,848.4 1432.5,850.7 1434.4,852.2 1436.3,853.1 1438.2,853.8 1440.1,855.6 1442.0,856.8 1443.9,857.6 1445.8,858.0 1447.7,859.1 1449.6,859.8 1451.5,860.0 1453.4,861.4 1455.3,862.5 1457.2,863.1 1459.1,862.9 1461.0,864.2 1462.9,864.2 1464.8,864.6 1466.7,864.4 1468.6,864.3 1470.5,864.8 1472.4,864.9 1474.3,864.8 1476.2,864.7 1478.1,863.9 1480.0,864.7 1481.9,864.4 1483.8,865.2 1485.7,866.0 1487.6,866.2 1489.5,867.4 1491.4,866.4 1493.3,867.9 1495.2,868.6 1497.1,869.5 1499.0,869.5 1500.9,870.3 1502.8,870.0 1504.7,870.7 1506.6,871.0 1508.5,870.6 1510.4,870.1 1512.3,870.7 1514.2,870.8 1516.1,870.3 1518.0,870.9 1519.9,871.1 1521.8,870.7 1523.7,871.0 1525.6,871.5 1527.5,871.8 1529.4,871.8 1531.3,871.9 1533.2,871.9 1535.1,871.3 1537.0,871.9 1538.9,871.8 1540.8,871.7 1542.7,871.6 1544.6,871.7 1546.5,872.4 1548.4,873.1 1550.3,873.7 1552.2,873.3 1554.1,873.6 1555.9,873.9 1557.8,873.8 1559.7,873.4 1561.6,873.5 1563.5,874.0 1565.4,873.3 1567.3,873.2 1569.2,873.2 1571.1,872.5 1573.0,872.4 1574.9,872.7 1576.8,872.7 1578.7,873.3 1580.6,873.1 1582.5,872.9 1584.4,873.0 1586.3,873.5 1588.2,874.1 1590.1,873.9 1592.0,874.6 1593.9,874.4 1595.8,874.6 1597.7,875.0 1599.6,875.3 1601.5,875.0 1603.4,875.2 1605.3,874.5 1607.2,875.3 1609.1,875.2 1611.0,875.0 1612.9,874.4 1614.8,875.2 1616.7,874.6 1618.6,873.6 1620.5,872.8 1622.4,872.5 1624.3,873.9 1626.2,873.4 1628.1,873.5 1630.0,874.2 1631.9,874.8 1633.8,874.5 1635.7,874.6 1637.6,874.9 1639.5,875.3 1641.4,875.6 1643.3,876.6 1645.2,876.8 1647.1,876.6 1649.0,875.8 1650.9,876.2 1652.8,876.2 1654.7,875.6 1656.6,876.3 1658.5,875.3 1660.4,875.3 1662.3,875.5 1664.2,875.6 1666.1,875.4 1668.0,875.5 1669.9,875.1 1671.8,875.1 1673.7,875.2 1675.6,875.2 1677.5,875.0 1679.4,874.9 1681.3,875.5 1683.2,875.4 1685.1,875.8 1687.0,876.1 1688.9,876.3 1690.8,875.6 1692.7,876.1 1694.5,876.5 1696.4,875.9 1698.3,876.2 1700.2,876.3 1702.1,876.8 1704.0,877.9 1705.9,877.0 1707.8,877.1 1709.7,876.9 1711.6,876.0 1713.5,875.9 1715.4,876.0 1717.3,875.3 1719.2,874.7 1721.1,875.6 1723.0,875.1 1724.9,874.8 1726.8,874.6 1728.7,874.0 1730.6,874.5 1732.5,874.3 1734.4,874.4 1736.3,873.6 1738.2,874.4 1740.1,873.7 1742.0,874.4 1743.9,873.6 1745.8,875.2 1747.7,873.8 1749.6,874.6 1751.5,875.2 1753.4,874.7 1755.3,874.1 1757.2,874.0 1759.1,873.6 1761.0,874.1 1762.9,873.4 1764.8,873.9 1766.7,873.4 1768.6,873.4 1770.5,872.6 1772.4,872.6"/>
<polyline fill="none" stroke="#005b94" stroke-width="8.6" stroke-linejoin="round" stroke-linecap="butt" points="240.2,600.5 242.1,601.5 244.0,606.4 245.9,606.4 247.8,609.4 249.7,613.8 251.6,615.3 253.5,615.7 255.4,614.9 257.3,614.9 259.2,618.1 261.1,620.6 263.0,618.2 264.9,620.5 266.8,620.8 268.7,619.7 270.6,621.4 272.5,623.0 274.4,624.0 276.3,622.9 278.2,623.7 280.1,623.4 282.0,625.2 283.9,623.7 285.8,626.5 287.7,629.7 289.6,631.5 291.5,632.6 293.4,632.8 295.3,636.1 297.2,636.8 299.1,636.2 301.0,638.5 302.9,638.9 304.8,637.7 306.7,640.7 308.6,645.0 310.5,642.6 312.4,645.1 314.2,644.4 316.1,644.2 318.0,643.7 319.9,642.0 321.8,643.0 323.7,642.0 325.6,642.3 327.5,639.9 329.4,641.9 331.3,640.8 333.2,640.0 335.1,639.8 337.0,637.8 338.9,636.8 340.8,637.0 342.7,636.2 344.6,634.8 346.5,635.9 348.4,635.1 350.3,631.4 352.2,635.9 354.1,635.0 356.0,633.7 357.9,632.0 359.8,627.8 361.7,631.1 363.6,631.3 365.5,629.9 367.4,628.0 369.3,629.4 371.2,628.5 373.1,629.0 375.0,629.0 376.9,627.0 378.8,627.6 380.7,626.4 382.6,626.4 384.5,625.0 386.4,625.0 388.3,625.7 390.2,626.4 392.1,625.2 394.0,626.3 395.9,627.5 397.8,625.3 399.7,625.8 401.6,623.4 403.5,625.5 405.4,625.2 407.3,623.5 409.2,618.7 411.1,621.8 413.0,622.1 414.9,622.2 416.8,620.8 418.7,621.9 420.6,621.6 422.5,621.9 424.4,619.5 426.3,622.7 428.2,620.0 430.1,618.9 432.0,619.8 433.9,619.1 435.8,619.9 437.7,620.5 439.6,618.4 441.5,616.6 443.4,617.6 445.3,614.5 447.2,615.1 449.1,614.7 451.0,613.8 452.8,613.4 454.7,611.7 456.6,611.7 458.5,611.5 460.4,612.4 462.3,612.6 464.2,610.1 466.1,608.1 468.0,612.2 469.9,611.7 471.8,611.9 473.7,611.9 475.6,609.9 477.5,609.7 479.4,610.2 481.3,612.5 483.2,612.0 485.1,609.8 487.0,608.8 488.9,608.0 490.8,607.1 492.7,606.7 494.6,611.0 496.5,608.6 498.4,609.9 500.3,604.3 502.2,605.6 504.1,604.4 506.0,605.0 507.9,606.3 509.8,604.4 511.7,603.4 513.6,603.5 515.5,602.3 517.4,603.2 519.3,604.2 521.2,600.3 523.1,601.4 525.0,602.0 526.9,603.9 528.8,606.5 530.7,605.3 532.6,605.1 534.5,602.5 536.4,601.2 538.3,600.2 540.2,598.8 542.1,598.3 544.0,599.2 545.9,599.9 547.8,601.5 549.7,594.9 551.6,593.0 553.5,586.1 555.4,585.1 557.3,581.4 559.2,576.8 561.1,573.6 563.0,572.8 564.9,570.9 566.8,568.4 568.7,564.2 570.6,560.6 572.5,561.1 574.4,562.0 576.3,560.4 578.2,561.9 580.1,563.2 582.0,562.6 583.9,562.8 585.8,559.4 587.7,561.9 589.5,559.8 591.4,561.3 593.3,560.6 595.2,563.7 597.1,563.5 599.0,560.9 600.9,559.1 602.8,560.7 604.7,559.1 606.6,556.5 608.5,552.3 610.4,549.1 612.3,545.9 614.2,546.2 616.1,540.9 618.0,536.3 619.9,535.8 621.8,531.7 623.7,527.0 625.6,525.0 627.5,524.4 629.4,520.5 631.3,519.3 633.2,517.9 635.1,516.2 637.0,510.3 638.9,508.5 640.8,507.6 642.7,507.9 644.6,505.2 646.5,503.3 648.4,501.6 650.3,500.9 652.2,495.1 654.1,495.4 656.0,494.4 657.9,495.9 659.8,491.1 661.7,488.1 663.6,485.8 665.5,484.6 667.4,483.6 669.3,478.4 671.2,474.9 673.1,471.9 675.0,468.6 676.9,463.7 678.8,462.3 680.7,458.5 682.6,456.7 684.5,450.8 686.4,451.3 688.3,450.0 690.2,449.5 692.1,444.0 694.0,443.6 695.9,441.8 697.8,439.9 699.7,436.0 701.6,439.5 703.5,436.6 705.4,433.6 707.3,432.1 709.2,428.3 711.1,424.9 713.0,422.6 714.9,420.9 716.8,421.6 718.7,419.0 720.6,416.8 722.5,413.8 724.4,412.0 726.3,406.6 728.1,407.5 730.0,407.7 731.9,409.0 733.8,409.1 735.7,407.7 737.6,406.9 739.5,405.7 741.4,395.5 743.3,393.2 745.2,393.4 747.1,393.4 749.0,388.1 750.9,387.9 752.8,384.6 754.7,380.2 756.6,377.0 758.5,374.0 760.4,369.9 762.3,368.4 764.2,366.0 766.1,370.5 768.0,366.4 769.9,365.6 771.8,367.6 773.7,364.6 775.6,361.9 777.5,362.3 779.4,361.1 781.3,358.1 783.2,362.6 785.1,366.4 787.0,368.5 788.9,362.7 790.8,356.6 792.7,349.3 794.6,346.0 796.5,343.7 798.4,339.8 800.3,335.8 802.2,332.6 804.1,327.9 806.0,327.4 807.9,324.7 809.8,317.6 811.7,316.1 813.6,309.8 815.5,311.1 817.4,309.5 819.3,313.0 821.2,316.8 823.1,318.0 825.0,319.7 826.9,319.9 828.8,321.3 830.7,321.5 832.6,322.7 834.5,324.3 836.4,325.9 838.3,327.7 840.2,330.6 842.1,331.1 844.0,330.5 845.9,331.2 847.8,334.7 849.7,335.7 851.6,337.0 853.5,336.8 855.4,337.1 857.3,336.9 859.2,334.7 861.1,336.1 863.0,331.6 864.9,327.4 866.7,327.7 868.6,328.6 870.5,328.0 872.4,331.8 874.3,337.8 876.2,337.3 878.1,335.0 880.0,337.6 881.9,340.3 883.8,347.5 885.7,348.4 887.6,355.2 889.5,359.3 891.4,366.6 893.3,370.8 895.2,374.5 897.1,379.8 899.0,377.7 900.9,387.6 902.8,389.5 904.7,394.5 906.6,395.9 908.5,398.2 910.4,403.1 912.3,407.1 914.2,405.7 916.1,409.3 918.0,408.6 919.9,411.8 921.8,414.8 923.7,418.4 925.6,419.6 927.5,421.3 929.4,425.4 931.3,428.7 933.2,433.3 935.1,435.7 937.0,437.8 938.9,442.4 940.8,445.0 942.7,449.7 944.6,451.9 946.5,454.7 948.4,459.2 950.3,465.0 952.2,468.3 954.1,472.5 956.0,479.4 957.9,483.5 959.8,488.3 961.7,492.3 963.6,497.2 965.5,500.7 967.4,505.2 969.3,508.8 971.2,514.2 973.1,517.9 975.0,523.6 976.9,528.6 978.8,534.2 980.7,538.5 982.6,541.1 984.5,547.3 986.4,552.3 988.3,557.3 990.2,560.8 992.1,566.9 994.0,571.4 995.9,574.0 997.8,577.5 999.7,581.7 1001.6,586.2 1003.5,590.6 1005.3,594.1 1007.2,596.8 1009.1,601.2 1011.0,605.2 1012.9,609.9 1014.8,615.2 1016.7,620.7 1018.6,625.4 1020.5,629.0 1022.4,631.7 1024.3,633.1 1026.2,636.9 1028.1,639.6 1030.0,642.7 1031.9,644.1 1033.8,647.8 1035.7,651.1 1037.6,652.0 1039.5,655.5 1041.4,656.8 1043.3,659.0 1045.2,659.7 1047.1,662.2 1049.0,664.6 1050.9,666.8 1052.8,669.3 1054.7,672.9 1056.6,674.9 1058.5,677.5 1060.4,679.0 1062.3,680.3 1064.2,683.0 1066.1,683.1 1068.0,684.3 1069.9,685.1 1071.8,685.2 1073.7,686.5 1075.6,687.5 1077.5,686.9 1079.4,687.2 1081.3,687.4 1083.2,687.9 1085.1,688.9 1087.0,690.0 1088.9,689.6 1090.8,687.9 1092.7,688.0 1094.6,688.2 1096.5,688.0 1098.4,687.0 1100.3,686.3 1102.2,686.6 1104.1,687.0 1106.0,687.0 1107.9,685.8 1109.8,686.3 1111.7,685.6 1113.6,684.2 1115.5,683.7 1117.4,683.5 1119.3,682.0 1121.2,680.8 1123.1,679.7 1125.0,679.6 1126.9,678.3 1128.8,677.3 1130.7,676.7 1132.6,674.4 1134.5,673.1 1136.4,671.7 1138.3,670.5 1140.2,669.2 1142.0,667.7 1143.9,667.0 1145.8,666.2 1147.7,664.9 1149.6,663.0 1151.5,661.4 1153.4,659.4 1155.3,659.1 1157.2,656.7 1159.1,654.2 1161.0,653.2 1162.9,651.7 1164.8,650.3 1166.7,648.2 1168.6,646.6 1170.5,644.9 1172.4,642.7 1174.3,641.7 1176.2,641.1 1178.1,637.9 1180.0,636.9 1181.9,636.3 1183.8,634.0 1185.7,633.4 1187.6,631.6 1189.5,627.5 1191.4,623.3 1193.3,621.3 1195.2,618.7 1197.1,615.8 1199.0,613.4 1200.9,610.4 1202.8,607.4 1204.7,606.2 1206.6,604.0 1208.5,602.6 1210.4,601.9 1212.3,599.0 1214.2,596.9 1216.1,595.3 1218.0,594.6 1219.9,593.6 1221.8,591.4 1223.7,590.0 1225.6,588.6 1227.5,585.6 1229.4,582.6 1231.3,579.2 1233.2,577.1 1235.1,572.7 1237.0,571.8 1238.9,568.9 1240.8,566.0 1242.7,564.0 1244.6,560.5 1246.5,559.9 1248.4,558.7 1250.3,557.6 1252.2,556.5 1254.1,554.2 1256.0,552.5 1257.9,553.8 1259.8,553.5 1261.7,554.8 1263.6,555.3 1265.5,557.2 1267.4,555.5 1269.3,557.5 1271.2,558.9 1273.1,559.6 1275.0,560.2 1276.9,560.2 1278.8,564.2 1280.6,565.4 1282.5,566.2 1284.4,567.2 1286.3,571.3 1288.2,574.8 1290.1,576.6 1292.0,580.6 1293.9,582.8 1295.8,586.7 1297.7,591.2 1299.6,593.7 1301.5,598.2 1303.4,601.5 1305.3,606.3 1307.2,611.5 1309.1,616.6 1311.0,622.0 1312.9,627.0 1314.8,630.9 1316.7,634.5 1318.6,637.5 1320.5,641.4 1322.4,645.8 1324.3,651.4 1326.2,655.8 1328.1,661.1 1330.0,665.9 1331.9,670.4 1333.8,676.1 1335.7,681.8 1337.6,687.3 1339.5,692.5 1341.4,699.3 1343.3,704.4 1345.2,709.9 1347.1,713.7 1349.0,718.5 1350.9,724.0 1352.8,730.0 1354.7,737.2 1356.6,744.5 1358.5,747.9 1360.4,752.1 1362.3,757.2 1364.2,761.2 1366.1,764.8 1368.0,768.9 1369.9,772.0 1371.8,776.4 1373.7,781.8 1375.6,784.7 1377.5,788.4 1379.4,790.9 1381.3,794.2 1383.2,798.9 1385.1,802.0 1387.0,804.8 1388.9,808.2 1390.8,811.5 1392.7,814.3 1394.6,817.0 1396.5,820.1 1398.4,822.9 1400.3,824.6 1402.2,826.4 1404.1,829.4 1406.0,831.6 1407.9,833.5 1409.8,834.8 1411.7,837.2 1413.6,839.2 1415.5,841.3 1417.4,842.8 1419.2,843.2 1421.1,844.8 1423.0,846.1 1424.9,847.2 1426.8,848.8 1428.7,849.9 1430.6,850.7 1432.5,851.7 1434.4,852.2 1436.3,853.7 1438.2,855.0 1440.1,855.4 1442.0,856.6 1443.9,856.9 1445.8,856.9 1447.7,857.4 1449.6,858.0 1451.5,859.2 1453.4,859.8 1455.3,860.6 1457.2,860.9 1459.1,860.0 1461.0,859.8 1462.9,859.1 1464.8,858.5 1466.7,857.9 1468.6,858.3 1470.5,857.5 1472.4,857.0 1474.3,856.9 1476.2,857.5 1478.1,857.6 1480.0,857.7 1481.9,858.1 1483.8,858.6 1485.7,859.5 1487.6,859.7 1489.5,859.7 1491.4,860.8 1493.3,861.4 1495.2,862.2 1497.1,862.5 1499.0,862.5 1500.9,863.0 1502.8,863.9 1504.7,863.7 1506.6,862.7 1508.5,863.4 1510.4,863.2 1512.3,863.4 1514.2,863.3 1516.1,864.2 1518.0,864.0 1519.9,864.8 1521.8,863.6 1523.7,864.1 1525.6,865.0 1527.5,863.9 1529.4,863.7 1531.3,864.1 1533.2,864.2 1535.1,864.5 1537.0,864.3 1538.9,865.6 1540.8,865.6 1542.7,865.6 1544.6,865.3 1546.5,866.2 1548.4,865.6 1550.3,865.7 1552.2,865.9 1554.1,866.4 1555.9,866.8 1557.8,866.8 1559.7,867.3 1561.6,866.8 1563.5,866.4 1565.4,866.0 1567.3,866.3 1569.2,866.1 1571.1,865.7 1573.0,865.4 1574.9,865.7 1576.8,866.0 1578.7,866.3 1580.6,866.4 1582.5,866.6 1584.4,866.8 1586.3,867.1 1588.2,867.1 1590.1,867.6 1592.0,867.7 1593.9,867.4 1595.8,867.9 1597.7,868.2 1599.6,868.4 1601.5,868.4 1603.4,868.3 1605.3,868.3 1607.2,869.6 1609.1,868.7 1611.0,868.3 1612.9,868.2 1614.8,867.8 1616.7,866.9 1618.6,866.0 1620.5,866.3 1622.4,866.2 1624.3,866.3 1626.2,867.5 1628.1,866.9 1630.0,866.9 1631.9,866.9 1633.8,868.4 1635.7,867.7 1637.6,868.1 1639.5,868.0 1641.4,868.1 1643.3,869.2 1645.2,869.5 1647.1,869.7 1649.0,869.0 1650.9,868.8 1652.8,868.7 1654.7,868.9 1656.6,868.7 1658.5,868.6 1660.4,868.2 1662.3,868.2 1664.2,867.6 1666.1,867.8 1668.0,867.4 1669.9,867.4 1671.8,868.0 1673.7,867.9 1675.6,867.9 1677.5,867.5 1679.4,867.9 1681.3,867.9 1683.2,867.7 1685.1,868.6 1687.0,869.4 1688.9,869.3 1690.8,869.3 1692.7,869.0 1694.5,869.1 1696.4,869.5 1698.3,869.6 1700.2,869.8 1702.1,869.9 1704.0,870.5 1705.9,870.1 1707.8,869.1 1709.7,869.3 1711.6,869.9 1713.5,870.1 1715.4,869.4 1717.3,868.1 1719.2,868.0 1721.1,867.9 1723.0,868.6 1724.9,867.9 1726.8,868.6 1728.7,867.7 1730.6,867.0 1732.5,866.6 1734.4,867.0 1736.3,866.4 1738.2,866.6 1740.1,866.9 1742.0,867.8 1743.9,868.0 1745.8,867.5 1747.7,867.8 1749.6,867.3 1751.5,867.9 1753.4,866.6 1755.3,866.9 1757.2,866.8 1759.1,867.0 1761.0,866.9 1762.9,867.0 1764.8,866.1 1766.7,866.0 1768.6,866.1 1770.5,866.4 1772.4,866.6"/>
<polyline fill="none" stroke="#b84b05" stroke-width="8.6" stroke-linejoin="round" stroke-linecap="butt" points="240.2,588.0 242.1,590.3 244.0,594.4 245.9,596.0 247.8,599.9 249.7,602.1 251.6,607.2 253.5,608.3 255.4,611.0 257.3,613.1 259.2,615.6 261.1,616.3 263.0,618.8 264.9,621.4 266.8,626.8 268.7,627.3 270.6,628.8 272.5,628.6 274.4,629.1 276.3,632.1 278.2,633.4 280.1,635.0 282.0,639.0 283.9,641.1 285.8,642.1 287.7,643.7 289.6,641.1 291.5,644.4 293.4,643.8 295.3,644.2 297.2,644.3 299.1,645.5 301.0,649.0 302.9,646.5 304.8,645.1 306.7,645.9 308.6,643.4 310.5,645.1 312.4,642.2 314.2,646.4 316.1,648.2 318.0,648.4 319.9,648.1 321.8,648.9 323.7,647.8 325.6,650.1 327.5,649.2 329.4,655.3 331.3,652.3 333.2,653.7 335.1,652.5 337.0,652.6 338.9,651.4 340.8,651.3 342.7,652.6 344.6,651.0 346.5,648.9 348.4,648.6 350.3,647.0 352.2,647.5 354.1,647.0 356.0,646.8 357.9,643.7 359.8,639.1 361.7,642.2 363.6,641.7 365.5,639.4 367.4,637.0 369.3,638.4 371.2,641.2 373.1,640.4 375.0,638.3 376.9,637.6 378.8,636.0 380.7,634.5 382.6,632.3 384.5,635.6 386.4,631.1 388.3,629.7 390.2,631.3 392.1,630.3 394.0,631.0 395.9,628.0 397.8,630.5 399.7,627.4 401.6,629.8 403.5,629.0 405.4,628.3 407.3,628.1 409.2,626.3 411.1,627.3 413.0,627.6 414.9,624.8 416.8,620.2 418.7,621.9 420.6,620.8 422.5,618.6 424.4,618.3 426.3,618.5 428.2,620.3 430.1,617.4 432.0,618.2 433.9,615.6 435.8,617.3 437.7,617.3 439.6,618.4 441.5,615.1 443.4,616.0 445.3,613.3 447.2,615.0 449.1,617.5 451.0,614.3 452.8,613.2 454.7,613.4 456.6,616.0 458.5,615.4 460.4,614.8 462.3,613.2 464.2,612.2 466.1,611.6 468.0,606.9 469.9,603.7 471.8,603.9 473.7,602.6 475.6,603.5 477.5,602.3 479.4,604.8 481.3,605.4 483.2,604.7 485.1,600.6 487.0,601.9 488.9,598.6 490.8,599.7 492.7,600.0 494.6,599.1 496.5,598.8 498.4,598.0 500.3,596.9 502.2,595.7 504.1,593.2 506.0,595.7 507.9,594.5 509.8,593.8 511.7,594.6 513.6,593.7 515.5,593.1 517.4,592.5 519.3,590.5 521.2,589.3 523.1,587.8 525.0,587.4 526.9,589.4 528.8,590.6 530.7,590.3 532.6,590.6 534.5,587.7 536.4,587.1 538.3,587.1 540.2,585.6 542.1,589.0 544.0,587.2 545.9,588.0 547.8,585.9 549.7,583.2 551.6,577.6 553.5,573.2 555.4,571.2 557.3,569.7 559.2,566.0 561.1,562.4 563.0,559.8 564.9,558.7 566.8,555.1 568.7,556.3 570.6,553.1 572.5,552.7 574.4,554.2 576.3,553.6 578.2,552.5 580.1,555.1 582.0,552.2 583.9,548.4 585.8,549.2 587.7,549.8 589.5,548.0 591.4,546.3 593.3,546.8 595.2,547.7 597.1,543.6 599.0,542.8 600.9,542.3 602.8,539.4 604.7,539.6 606.6,537.0 608.5,536.9 610.4,534.6 612.3,532.6 614.2,531.4 616.1,527.8 618.0,527.2 619.9,524.0 621.8,523.9 623.7,520.6 625.6,517.3 627.5,516.4 629.4,515.3 631.3,513.7 633.2,510.3 635.1,509.1 637.0,506.5 638.9,506.9 640.8,507.3 642.7,507.9 644.6,507.9 646.5,505.9 648.4,504.1 650.3,505.7 652.2,504.9 654.1,502.5 656.0,497.9 657.9,496.9 659.8,495.0 661.7,493.1 663.6,486.1 665.5,486.9 667.4,484.9 669.3,484.7 671.2,485.1 673.1,482.1 675.0,478.6 676.9,479.9 678.8,477.0 680.7,478.9 682.6,476.7 684.5,476.9 686.4,475.7 688.3,474.5 690.2,475.2 692.1,473.2 694.0,472.0 695.9,473.7 697.8,469.5 699.7,465.6 701.6,463.5 703.5,463.3 705.4,461.2 707.3,464.7 709.2,465.6 711.1,465.8 713.0,469.1 714.9,468.7 716.8,468.9 718.7,468.0 720.6,469.6 722.5,469.3 724.4,469.8 726.3,471.1 728.1,467.3 730.0,468.6 731.9,467.4 733.8,460.7 735.7,452.4 737.6,447.0 739.5,445.2 741.4,442.9 743.3,439.0 745.2,435.9 747.1,435.7 749.0,434.3 750.9,431.0 752.8,429.7 754.7,426.9 756.6,424.6 758.5,422.2 760.4,421.9 762.3,422.0 764.2,422.3 766.1,423.8 768.0,419.5 769.9,415.3 771.8,410.6 773.7,407.7 775.6,403.3 777.5,399.6 779.4,397.1 781.3,399.3 783.2,398.0 785.1,393.1 787.0,394.4 788.9,391.2 790.8,393.2 792.7,392.8 794.6,390.5 796.5,385.8 798.4,380.6 800.3,378.7 802.2,375.5 804.1,371.8 806.0,370.1 807.9,367.4 809.8,367.7 811.7,366.2 813.6,365.4 815.5,368.5 817.4,367.6 819.3,367.5 821.2,369.2 823.1,369.9 825.0,372.4 826.9,373.8 828.8,373.6 830.7,375.7 832.6,379.6 834.5,380.1 836.4,379.6 838.3,383.2 840.2,380.3 842.1,380.0 844.0,378.5 845.9,376.1 847.8,374.0 849.7,376.7 851.6,376.9 853.5,378.9 855.4,377.7 857.3,381.9 859.2,380.9 861.1,379.7 863.0,379.2 864.9,379.9 866.7,383.8 868.6,381.5 870.5,386.9 872.4,390.2 874.3,395.4 876.2,394.0 878.1,397.9 880.0,397.6 881.9,400.7 883.8,406.2 885.7,409.3 887.6,409.3 889.5,413.2 891.4,415.2 893.3,417.9 895.2,419.5 897.1,419.2 899.0,422.9 900.9,423.3 902.8,422.9 904.7,428.4 906.6,430.2 908.5,433.9 910.4,435.0 912.3,438.3 914.2,439.9 916.1,445.3 918.0,448.7 919.9,454.6 921.8,457.0 923.7,460.3 925.6,464.5 927.5,468.7 929.4,470.5 931.3,473.8 933.2,477.2 935.1,483.5 937.0,486.8 938.9,491.5 940.8,494.9 942.7,496.3 944.6,500.8 946.5,504.2 948.4,508.7 950.3,513.0 952.2,514.2 954.1,517.9 956.0,520.0 957.9,523.8 959.8,528.3 961.7,531.7 963.6,533.6 965.5,536.4 967.4,538.8 969.3,544.7 971.2,549.8 973.1,554.4 975.0,559.2 976.9,562.1 978.8,564.5 980.7,568.0 982.6,572.3 984.5,576.3 986.4,577.9 988.3,581.9 990.2,586.7 992.1,588.7 994.0,593.9 995.9,598.5 997.8,600.5 999.7,607.2 1001.6,613.4 1003.5,619.2 1005.3,624.9 1007.2,631.9 1009.1,637.9 1011.0,641.6 1012.9,643.6 1014.8,647.0 1016.7,649.9 1018.6,653.9 1020.5,655.7 1022.4,659.2 1024.3,661.0 1026.2,663.8 1028.1,666.1 1030.0,669.3 1031.9,670.3 1033.8,672.6 1035.7,674.4 1037.6,677.4 1039.5,679.7 1041.4,681.6 1043.3,684.3 1045.2,686.6 1047.1,689.6 1049.0,692.8 1050.9,694.4 1052.8,695.7 1054.7,698.3 1056.6,698.0 1058.5,699.9 1060.4,700.7 1062.3,701.7 1064.2,703.9 1066.1,704.9 1068.0,704.5 1069.9,705.5 1071.8,705.8 1073.7,706.6 1075.6,706.3 1077.5,706.5 1079.4,707.3 1081.3,706.5 1083.2,707.0 1085.1,707.5 1087.0,707.8 1088.9,706.7 1090.8,707.3 1092.7,707.0 1094.6,706.6 1096.5,706.2 1098.4,707.0 1100.3,705.4 1102.2,704.1 1104.1,703.4 1106.0,703.1 1107.9,702.8 1109.8,701.1 1111.7,699.7 1113.6,698.5 1115.5,697.5 1117.4,696.9 1119.3,695.7 1121.2,693.9 1123.1,693.3 1125.0,692.2 1126.9,690.6 1128.8,688.7 1130.7,687.3 1132.6,686.5 1134.5,685.5 1136.4,684.7 1138.3,683.1 1140.2,681.8 1142.0,682.1 1143.9,680.5 1145.8,679.0 1147.7,678.1 1149.6,677.6 1151.5,676.5 1153.4,675.0 1155.3,674.2 1157.2,671.7 1159.1,671.3 1161.0,670.3 1162.9,669.7 1164.8,668.1 1166.7,666.8 1168.6,665.4 1170.5,665.7 1172.4,664.6 1174.3,663.9 1176.2,663.9 1178.1,662.5 1180.0,661.0 1181.9,658.4 1183.8,657.4 1185.7,655.9 1187.6,653.8 1189.5,652.4 1191.4,650.2 1193.3,648.0 1195.2,646.1 1197.1,643.5 1199.0,642.1 1200.9,640.9 1202.8,638.7 1204.7,637.1 1206.6,634.3 1208.5,631.0 1210.4,629.4 1212.3,627.1 1214.2,623.6 1216.1,621.9 1218.0,618.6 1219.9,617.6 1221.8,616.4 1223.7,612.7 1225.6,610.3 1227.5,608.5 1229.4,605.8 1231.3,604.6 1233.2,602.2 1235.1,601.2 1237.0,599.9 1238.9,598.8 1240.8,598.1 1242.7,596.7 1244.6,595.7 1246.5,593.9 1248.4,593.4 1250.3,591.7 1252.2,590.5 1254.1,589.8 1256.0,589.5 1257.9,588.0 1259.8,587.1 1261.7,586.4 1263.6,585.8 1265.5,585.7 1267.4,587.4 1269.3,588.0 1271.2,588.5 1273.1,588.2 1275.0,590.0 1276.9,590.9 1278.8,593.3 1280.6,594.0 1282.5,595.8 1284.4,598.6 1286.3,601.8 1288.2,604.2 1290.1,607.6 1292.0,609.6 1293.9,613.2 1295.8,617.0 1297.7,620.4 1299.6,622.6 1301.5,626.6 1303.4,630.8 1305.3,634.6 1307.2,637.1 1309.1,642.4 1311.0,647.3 1312.9,651.8 1314.8,656.8 1316.7,661.7 1318.6,666.2 1320.5,670.5 1322.4,674.0 1324.3,678.0 1326.2,681.9 1328.1,686.7 1330.0,690.3 1331.9,694.9 1333.8,699.6 1335.7,704.8 1337.6,708.9 1339.5,713.7 1341.4,718.1 1343.3,722.7 1345.2,725.6 1347.1,730.3 1349.0,743.7 1350.9,747.1 1352.8,751.6 1354.7,755.6 1356.6,760.6 1358.5,764.8 1360.4,768.1 1362.3,772.5 1364.2,775.6 1366.1,779.8 1368.0,782.9 1369.9,787.8 1371.8,790.2 1373.7,794.6 1375.6,798.9 1377.5,802.9 1379.4,806.5 1381.3,809.1 1383.2,811.5 1385.1,814.4 1387.0,817.9 1388.9,819.6 1390.8,822.2 1392.7,823.8 1394.6,825.7 1396.5,828.5 1398.4,830.1 1400.3,831.7 1402.2,833.6 1404.1,835.7 1406.0,836.9 1407.9,839.0 1409.8,841.3 1411.7,843.0 1413.6,843.5 1415.5,845.3 1417.4,847.2 1419.2,848.2 1421.1,849.8 1423.0,850.7 1424.9,850.9 1426.8,852.5 1428.7,852.6 1430.6,853.7 1432.5,854.8 1434.4,855.8 1436.3,855.7 1438.2,855.4 1440.1,857.0 1442.0,858.0 1443.9,858.4 1445.8,858.3 1447.7,859.3 1449.6,860.2 1451.5,860.7 1453.4,860.8 1455.3,861.9 1457.2,862.2 1459.1,861.3 1461.0,861.6 1462.9,861.7 1464.8,861.5 1466.7,860.4 1468.6,859.3 1470.5,859.7 1472.4,859.1 1474.3,859.3 1476.2,859.4 1478.1,859.8 1480.0,859.7 1481.9,860.0 1483.8,860.9 1485.7,861.5 1487.6,861.9 1489.5,862.1 1491.4,862.9 1493.3,863.4 1495.2,864.0 1497.1,863.7 1499.0,864.5 1500.9,865.1 1502.8,865.2 1504.7,865.7 1506.6,865.3 1508.5,865.1 1510.4,865.6 1512.3,865.3 1514.2,865.3 1516.1,865.7 1518.0,866.1 1519.9,866.6 1521.8,865.8 1523.7,866.2 1525.6,865.7 1527.5,866.6 1529.4,866.4 1531.3,866.4 1533.2,866.2 1535.1,866.8 1537.0,866.3 1538.9,866.8 1540.8,867.1 1542.7,867.2 1544.6,867.3 1546.5,867.2 1548.4,867.6 1550.3,867.8 1552.2,868.3 1554.1,868.5 1555.9,869.0 1557.8,868.4 1559.7,868.3 1561.6,867.9 1563.5,868.2 1565.4,868.1 1567.3,868.9 1569.2,868.0 1571.1,867.7 1573.0,867.3 1574.9,868.0 1576.8,868.6 1578.7,868.7 1580.6,868.1 1582.5,868.1 1584.4,869.4 1586.3,869.5 1588.2,869.7 1590.1,868.9 1592.0,869.8 1593.9,869.1 1595.8,870.0 1597.7,870.6 1599.6,870.5 1601.5,870.1 1603.4,870.1 1605.3,870.1 1607.2,870.2 1609.1,869.9 1611.0,869.8 1612.9,869.0 1614.8,869.3 1616.7,869.1 1618.6,869.4 1620.5,869.9 1622.4,868.9 1624.3,869.5 1626.2,868.7 1628.1,869.1 1630.0,868.7 1631.9,868.3 1633.8,869.3 1635.7,869.5 1637.6,869.6 1639.5,869.8 1641.4,870.6 1643.3,870.1 1645.2,871.1 1647.1,871.7 1649.0,871.6 1650.9,871.1 1652.8,871.1 1654.7,871.1 1656.6,870.7 1658.5,870.9 1660.4,871.3 1662.3,870.5 1664.2,870.2 1666.1,870.3 1668.0,870.0 1669.9,870.0 1671.8,870.2 1673.7,869.7 1675.6,869.5 1677.5,870.0 1679.4,870.0 1681.3,870.0 1683.2,870.4 1685.1,870.8 1687.0,871.2 1688.9,871.4 1690.8,871.3 1692.7,871.2 1694.5,872.5 1696.4,871.4 1698.3,871.3 1700.2,871.3 1702.1,871.2 1704.0,871.8 1705.9,871.7 1707.8,871.9 1709.7,871.1 1711.6,870.6 1713.5,871.0 1715.4,870.8 1717.3,870.6 1719.2,870.8 1721.1,870.1 1723.0,869.9 1724.9,869.6 1726.8,869.8 1728.7,870.2 1730.6,869.6 1732.5,869.2 1734.4,868.8 1736.3,868.5 1738.2,868.7 1740.1,869.3 1742.0,869.2 1743.9,869.2 1745.8,869.5 1747.7,869.4 1749.6,869.4 1751.5,869.9 1753.4,869.9 1755.3,869.0 1757.2,868.2 1759.1,868.1 1761.0,868.6 1762.9,869.0 1764.8,869.2 1766.7,868.4 1768.6,868.3 1770.5,868.0 1772.4,868.4"/>
<polyline fill="none" stroke="#a67500" stroke-width="8.6" stroke-linejoin="round" stroke-linecap="butt" points="240.2,604.1 242.1,608.2 244.0,613.1 245.9,611.6 247.8,614.6 249.7,609.1 251.6,613.7 253.5,617.4 255.4,619.6 257.3,620.8 259.2,624.1 261.1,624.0 263.0,622.7 264.9,627.2 266.8,627.5 268.7,627.0 270.6,629.9 272.5,632.3 274.4,635.4 276.3,636.0 278.2,637.4 280.1,639.6 282.0,642.0 283.9,641.8 285.8,648.0 287.7,645.1 289.6,645.2 291.5,645.3 293.4,647.3 295.3,648.6 297.2,648.3 299.1,647.0 301.0,648.8 302.9,651.1 304.8,651.8 306.7,655.2 308.6,657.2 310.5,658.4 312.4,657.0 314.2,657.7 316.1,654.0 318.0,654.2 319.9,654.3 321.8,652.0 323.7,652.7 325.6,652.0 327.5,650.8 329.4,651.4 331.3,649.4 333.2,650.8 335.1,653.6 337.0,654.4 338.9,652.4 340.8,651.4 342.7,651.1 344.6,648.5 346.5,650.9 348.4,650.5 350.3,647.4 352.2,648.6 354.1,646.2 356.0,646.7 357.9,646.0 359.8,646.6 361.7,648.2 363.6,642.2 365.5,641.2 367.4,642.1 369.3,643.1 371.2,643.0 373.1,641.5 375.0,642.0 376.9,639.3 378.8,639.9 380.7,638.7 382.6,635.8 384.5,634.0 386.4,633.8 388.3,630.3 390.2,631.9 392.1,627.6 394.0,629.7 395.9,628.2 397.8,629.5 399.7,627.4 401.6,625.9 403.5,625.8 405.4,624.7 407.3,626.5 409.2,625.0 411.1,624.8 413.0,623.4 414.9,620.0 416.8,618.9 418.7,621.2 420.6,618.0 422.5,616.3 424.4,616.2 426.3,614.9 428.2,615.4 430.1,616.4 432.0,615.8 433.9,613.1 435.8,612.3 437.7,613.2 439.6,612.0 441.5,612.5 443.4,616.8 445.3,616.4 447.2,614.7 449.1,612.6 451.0,614.6 452.8,612.7 454.7,616.1 456.6,613.8 458.5,612.3 460.4,607.9 462.3,608.9 464.2,608.2 466.1,608.0 468.0,602.6 469.9,596.1 471.8,593.8 473.7,593.7 475.6,593.0 477.5,594.0 479.4,591.4 481.3,590.4 483.2,589.6 485.1,588.0 487.0,590.5 488.9,590.1 490.8,587.6 492.7,587.9 494.6,587.8 496.5,584.7 498.4,582.8 500.3,581.1 502.2,580.0 504.1,578.3 506.0,574.6 507.9,571.0 509.8,569.0 511.7,564.1 513.6,561.9 515.5,558.2 517.4,559.2 519.3,559.4 521.2,562.3 523.1,561.0 525.0,560.5 526.9,560.2 528.8,557.9 530.7,556.9 532.6,559.4 534.5,558.7 536.4,559.2 538.3,563.6 540.2,563.2 542.1,561.6 544.0,559.9 545.9,556.7 547.8,555.3 549.7,550.1 551.6,546.9 553.5,544.0 555.4,540.4 557.3,541.4 559.2,540.4 561.1,537.8 563.0,535.3 564.9,530.1 566.8,528.8 568.7,527.8 570.6,528.2 572.5,530.5 574.4,526.4 576.3,526.3 578.2,527.2 580.1,527.5 582.0,525.2 583.9,525.2 585.8,525.1 587.7,524.1 589.5,529.0 591.4,526.9 593.3,521.0 595.2,523.2 597.1,525.1 599.0,524.9 600.9,523.2 602.8,523.6 604.7,522.9 606.6,518.5 608.5,519.3 610.4,516.4 612.3,514.0 614.2,513.3 616.1,510.8 618.0,510.4 619.9,509.9 621.8,505.6 623.7,507.0 625.6,504.3 627.5,502.6 629.4,500.8 631.3,500.1 633.2,501.7 635.1,502.7 637.0,500.2 638.9,498.4 640.8,498.6 642.7,496.8 644.6,499.4 646.5,501.4 648.4,500.8 650.3,497.6 652.2,495.8 654.1,497.3 656.0,498.3 657.9,495.5 659.8,494.0 661.7,492.8 663.6,489.8 665.5,489.4 667.4,486.5 669.3,485.1 671.2,484.8 673.1,486.1 675.0,482.7 676.9,482.2 678.8,484.3 680.7,484.3 682.6,489.3 684.5,486.7 686.4,488.3 688.3,487.1 690.2,486.8 692.1,486.2 694.0,489.8 695.9,488.0 697.8,488.1 699.7,489.8 701.6,489.9 703.5,487.5 705.4,481.8 707.3,482.6 709.2,482.8 711.1,479.7 713.0,480.4 714.9,478.4 716.8,480.5 718.7,479.7 720.6,480.2 722.5,481.9 724.4,482.2 726.3,483.6 728.1,480.8 730.0,481.4 731.9,480.7 733.8,479.3 735.7,480.2 737.6,480.8 739.5,480.7 741.4,476.1 743.3,472.6 745.2,469.7 747.1,468.0 749.0,466.4 750.9,459.4 752.8,459.6 754.7,456.6 756.6,453.9 758.5,452.5 760.4,453.0 762.3,450.5 764.2,446.0 766.1,446.0 768.0,447.8 769.9,445.2 771.8,446.4 773.7,445.0 775.6,445.7 777.5,443.8 779.4,442.8 781.3,442.2 783.2,442.0 785.1,443.8 787.0,444.1 788.9,445.5 790.8,445.1 792.7,439.7 794.6,439.2 796.5,436.3 798.4,433.7 800.3,431.8 802.2,432.5 804.1,429.6 806.0,428.0 807.9,427.5 809.8,424.4 811.7,421.0 813.6,419.6 815.5,418.8 817.4,419.5 819.3,420.1 821.2,422.4 823.1,419.2 825.0,422.5 826.9,423.8 828.8,422.3 830.7,422.2 832.6,420.7 834.5,421.2 836.4,427.2 838.3,426.4 840.2,427.6 842.1,432.2 844.0,429.4 845.9,428.3 847.8,425.7 849.7,425.9 851.6,427.7 853.5,428.6 855.4,428.9 857.3,428.2 859.2,429.9 861.1,430.4 863.0,428.8 864.9,428.9 866.7,431.2 868.6,434.5 870.5,434.5 872.4,433.4 874.3,437.8 876.2,439.8 878.1,441.1 880.0,439.6 881.9,442.8 883.8,445.9 885.7,446.5 887.6,450.0 889.5,453.8 891.4,457.7 893.3,462.0 895.2,463.4 897.1,465.1 899.0,469.9 900.9,468.6 902.8,469.5 904.7,472.2 906.6,473.5 908.5,476.9 910.4,478.9 912.3,480.4 914.2,482.8 916.1,487.1 918.0,489.3 919.9,493.7 921.8,497.3 923.7,497.9 925.6,502.6 927.5,504.4 929.4,508.5 931.3,512.9 933.2,517.2 935.1,521.4 937.0,523.4 938.9,526.1 940.8,528.7 942.7,528.9 944.6,533.5 946.5,537.3 948.4,538.2 950.3,540.3 952.2,541.0 954.1,545.4 956.0,550.7 957.9,553.8 959.8,554.2 961.7,557.2 963.6,562.2 965.5,565.7 967.4,568.9 969.3,572.7 971.2,575.8 973.1,578.9 975.0,582.0 976.9,587.4 978.8,589.0 980.7,593.1 982.6,595.3 984.5,599.2 986.4,602.7 988.3,606.1 990.2,609.9 992.1,612.0 994.0,616.1 995.9,621.4 997.8,624.8 999.7,631.2 1001.6,634.0 1003.5,638.1 1005.3,643.4 1007.2,649.9 1009.1,655.8 1011.0,658.9 1012.9,660.6 1014.8,663.4 1016.7,667.1 1018.6,669.1 1020.5,672.9 1022.4,674.1 1024.3,676.7 1026.2,679.1 1028.1,681.9 1030.0,684.2 1031.9,686.1 1033.8,689.4 1035.7,691.9 1037.6,693.6 1039.5,697.7 1041.4,699.1 1043.3,701.9 1045.2,704.6 1047.1,708.0 1049.0,709.7 1050.9,711.5 1052.8,711.8 1054.7,714.6 1056.6,715.8 1058.5,717.4 1060.4,718.7 1062.3,719.4 1064.2,721.0 1066.1,722.1 1068.0,722.0 1069.9,722.0 1071.8,721.8 1073.7,721.0 1075.6,720.0 1077.5,718.5 1079.4,717.9 1081.3,719.1 1083.2,719.8 1085.1,719.2 1087.0,720.0 1088.9,720.2 1090.8,720.7 1092.7,721.1 1094.6,720.6 1096.5,720.3 1098.4,720.7 1100.3,720.7 1102.2,719.8 1104.1,719.8 1106.0,719.4 1107.9,718.5 1109.8,718.4 1111.7,717.7 1113.6,716.4 1115.5,715.3 1117.4,714.9 1119.3,713.6 1121.2,712.7 1123.1,711.3 1125.0,710.6 1126.9,710.5 1128.8,709.4 1130.7,707.7 1132.6,706.9 1134.5,705.3 1136.4,704.9 1138.3,703.2 1140.2,702.3 1142.0,701.8 1143.9,699.7 1145.8,698.7 1147.7,697.7 1149.6,696.7 1151.5,696.2 1153.4,694.7 1155.3,694.2 1157.2,693.0 1159.1,691.0 1161.0,689.3 1162.9,688.2 1164.8,685.9 1166.7,684.2 1168.6,683.1 1170.5,683.2 1172.4,682.1 1174.3,680.9 1176.2,679.3 1178.1,677.6 1180.0,675.2 1181.9,674.5 1183.8,673.4 1185.7,671.6 1187.6,669.9 1189.5,667.3 1191.4,665.1 1193.3,663.3 1195.2,659.7 1197.1,657.9 1199.0,657.0 1200.9,655.4 1202.8,653.2 1204.7,652.6 1206.6,650.4 1208.5,648.4 1210.4,647.8 1212.3,646.5 1214.2,643.3 1216.1,642.4 1218.0,641.1 1219.9,640.0 1221.8,639.1 1223.7,638.3 1225.6,637.5 1227.5,635.2 1229.4,634.4 1231.3,632.9 1233.2,632.0 1235.1,631.3 1237.0,629.6 1238.9,627.1 1240.8,625.9 1242.7,624.5 1244.6,622.3 1246.5,620.9 1248.4,619.2 1250.3,618.9 1252.2,616.8 1254.1,614.6 1256.0,614.0 1257.9,613.0 1259.8,612.3 1261.7,611.1 1263.6,609.8 1265.5,610.5 1267.4,610.8 1269.3,611.4 1271.2,611.8 1273.1,613.3 1275.0,615.1 1276.9,617.2 1278.8,620.3 1280.6,622.6 1282.5,624.2 1284.4,627.6 1286.3,630.7 1288.2,631.4 1290.1,632.8 1292.0,634.5 1293.9,634.5 1295.8,638.2 1297.7,641.5 1299.6,644.4 1301.5,647.7 1303.4,651.0 1305.3,654.4 1307.2,659.3 1309.1,663.0 1311.0,666.9 1312.9,671.3 1314.8,676.0 1316.7,679.8 1318.6,682.6 1320.5,687.2 1322.4,690.9 1324.3,695.5 1326.2,699.9 1328.1,705.8 1330.0,710.6 1331.9,715.6 1333.8,718.7 1335.7,723.0 1337.6,726.8 1339.5,730.2 1341.4,733.7 1343.3,737.5 1345.2,741.3 1347.1,745.4 1349.0,749.7 1350.9,753.1 1352.8,756.6 1354.7,762.9 1356.6,769.7 1358.5,776.2 1360.4,781.3 1362.3,784.5 1364.2,787.8 1366.1,791.6 1368.0,794.7 1369.9,798.2 1371.8,801.2 1373.7,804.4 1375.6,807.6 1377.5,811.1 1379.4,813.1 1381.3,816.5 1383.2,818.1 1385.1,820.2 1387.0,823.8 1388.9,826.4 1390.8,828.0 1392.7,829.3 1394.6,830.7 1396.5,831.7 1398.4,834.1 1400.3,835.1 1402.2,837.0 1404.1,838.5 1406.0,839.7 1407.9,841.2 1409.8,842.0 1411.7,842.7 1413.6,844.7 1415.5,846.4 1417.4,847.2 1419.2,847.6 1421.1,848.5 1423.0,850.0 1424.9,851.7 1426.8,852.1 1428.7,852.8 1430.6,854.3 1432.5,855.0 1434.4,856.1 1436.3,856.2 1438.2,855.9 1440.1,857.0 1442.0,857.5 1443.9,857.9 1445.8,858.3 1447.7,859.1 1449.6,859.6 1451.5,860.9 1453.4,861.1 1455.3,862.0 1457.2,862.3 1459.1,861.9 1461.0,861.3 1462.9,861.8 1464.8,861.1 1466.7,860.8 1468.6,861.6 1470.5,860.8 1472.4,861.1 1474.3,860.7 1476.2,859.2 1478.1,859.7 1480.0,860.7 1481.9,861.1 1483.8,861.4 1485.7,862.2 1487.6,862.6 1489.5,863.8 1491.4,863.4 1493.3,863.5 1495.2,864.4 1497.1,865.2 1499.0,865.7 1500.9,866.0 1502.8,866.6 1504.7,865.6 1506.6,866.4 1508.5,866.1 1510.4,866.1 1512.3,866.5 1514.2,866.6 1516.1,866.4 1518.0,866.6 1519.9,866.7 1521.8,867.2 1523.7,866.8 1525.6,867.4 1527.5,867.2 1529.4,867.3 1531.3,867.9 1533.2,868.0 1535.1,867.4 1537.0,868.3 1538.9,868.0 1540.8,868.5 1542.7,868.4 1544.6,868.3 1546.5,867.8 1548.4,868.2 1550.3,869.5 1552.2,869.7 1554.1,869.8 1555.9,868.9 1557.8,869.8 1559.7,869.6 1561.6,869.3 1563.5,869.7 1565.4,869.3 1567.3,869.1 1569.2,869.1 1571.1,869.5 1573.0,868.9 1574.9,869.4 1576.8,868.7 1578.7,869.3 1580.6,869.6 1582.5,869.1 1584.4,869.6 1586.3,869.7 1588.2,870.0 1590.1,869.8 1592.0,869.7 1593.9,870.2 1595.8,870.3 1597.7,870.7 1599.6,870.7 1601.5,870.9 1603.4,870.9 1605.3,871.7 1607.2,871.3 1609.1,871.2 1611.0,870.9 1612.9,870.8 1614.8,869.8 1616.7,870.5 1618.6,870.0 1620.5,869.5 1622.4,869.1 1624.3,869.3 1626.2,869.5 1628.1,869.4 1630.0,870.4 1631.9,870.7 1633.8,870.7 1635.7,870.6 1637.6,870.9 1639.5,871.2 1641.4,872.0 1643.3,872.5 1645.2,872.2 1647.1,872.1 1649.0,871.4 1650.9,872.3 1652.8,872.4 1654.7,872.1 1656.6,871.5 1658.5,871.6 1660.4,871.6 1662.3,872.2 1664.2,871.7 1666.1,871.3 1668.0,870.6 1669.9,871.6 1671.8,871.5 1673.7,870.7 1675.6,870.0 1677.5,870.4 1679.4,871.0 1681.3,870.6 1683.2,871.7 1685.1,870.8 1687.0,871.6 1688.9,872.0 1690.8,871.8 1692.7,871.9 1694.5,872.3 1696.4,871.8 1698.3,872.5 1700.2,873.0 1702.1,873.0 1704.0,873.3 1705.9,873.0 1707.8,872.3 1709.7,871.4 1711.6,871.7 1713.5,872.0 1715.4,872.6 1717.3,871.8 1719.2,871.0 1721.1,871.3 1723.0,872.0 1724.9,871.2 1726.8,870.5 1728.7,870.2 1730.6,869.6 1732.5,869.2 1734.4,869.4 1736.3,870.0 1738.2,870.0 1740.1,870.2 1742.0,870.1 1743.9,870.4 1745.8,870.7 1747.7,871.0 1749.6,871.1 1751.5,870.3 1753.4,870.1 1755.3,869.9 1757.2,870.4 1759.1,870.4 1761.0,869.6 1762.9,869.4 1764.8,869.4 1766.7,869.5 1768.6,870.1 1770.5,869.2 1772.4,868.8"/>
<polyline fill="none" stroke="#1f9ad6" stroke-width="8.6" stroke-linejoin="round" stroke-linecap="butt" points="240.2,614.2 242.1,622.1 244.0,625.6 245.9,624.1 247.8,626.9 249.7,625.6 251.6,632.3 253.5,634.4 255.4,637.2 257.3,642.6 259.2,641.2 261.1,644.6 263.0,644.3 264.9,646.9 266.8,651.4 268.7,648.5 270.6,651.2 272.5,657.0 274.4,659.4 276.3,659.7 278.2,663.5 280.1,665.6 282.0,665.6 283.9,664.4 285.8,667.4 287.7,670.0 289.6,668.1 291.5,672.2 293.4,672.4 295.3,673.2 297.2,668.7 299.1,673.3 301.0,674.0 302.9,674.7 304.8,671.6 306.7,672.7 308.6,673.1 310.5,675.1 312.4,679.6 314.2,674.3 316.1,677.4 318.0,676.3 319.9,676.2 321.8,677.3 323.7,675.0 325.6,673.7 327.5,674.5 329.4,673.8 331.3,673.4 333.2,673.9 335.1,673.1 337.0,672.8 338.9,672.1 340.8,672.9 342.7,673.2 344.6,670.4 346.5,668.6 348.4,667.4 350.3,668.2 352.2,668.5 354.1,666.2 356.0,664.3 357.9,663.1 359.8,662.0 361.7,661.5 363.6,660.0 365.5,660.8 367.4,660.6 369.3,659.9 371.2,656.9 373.1,659.9 375.0,659.2 376.9,656.7 378.8,656.7 380.7,656.3 382.6,654.4 384.5,650.4 386.4,650.4 388.3,650.4 390.2,651.9 392.1,652.0 394.0,650.5 395.9,647.8 397.8,648.2 399.7,645.9 401.6,647.6 403.5,645.5 405.4,643.4 407.3,641.5 409.2,641.1 411.1,640.2 413.0,636.0 414.9,638.8 416.8,638.9 418.7,635.8 420.6,636.0 422.5,632.3 424.4,630.9 426.3,629.4 428.2,627.7 430.1,626.0 432.0,626.0 433.9,624.3 435.8,623.9 437.7,622.1 439.6,621.6 441.5,618.8 443.4,617.1 445.3,613.8 447.2,615.7 449.1,614.4 451.0,613.2 452.8,608.3 454.7,605.8 456.6,605.2 458.5,602.2 460.4,602.8 462.3,597.9 464.2,597.4 466.1,594.0 468.0,582.3 469.9,577.0 471.8,573.7 473.7,568.1 475.6,565.0 477.5,560.2 479.4,556.6 481.3,555.3 483.2,552.3 485.1,550.2 487.0,546.4 488.9,545.2 490.8,541.5 492.7,541.5 494.6,537.9 496.5,534.1 498.4,531.1 500.3,529.2 502.2,531.8 504.1,529.7 506.0,528.2 507.9,524.7 509.8,526.1 511.7,524.6 513.6,519.6 515.5,517.8 517.4,511.9 519.3,511.3 521.2,506.6 523.1,503.6 525.0,502.9 526.9,500.7 528.8,502.3 530.7,497.0 532.6,496.1 534.5,493.6 536.4,490.9 538.3,490.7 540.2,493.4 542.1,488.3 544.0,488.0 545.9,486.6 547.8,488.0 549.7,482.2 551.6,478.8 553.5,474.2 555.4,473.4 557.3,469.8 559.2,465.5 561.1,460.8 563.0,460.3 564.9,458.1 566.8,455.9 568.7,451.6 570.6,449.0 572.5,445.7 574.4,454.2 576.3,457.9 578.2,462.5 580.1,459.9 582.0,460.8 583.9,459.4 585.8,461.2 587.7,465.2 589.5,469.8 591.4,471.5 593.3,471.9 595.2,471.2 597.1,471.3 599.0,471.1 600.9,466.4 602.8,468.9 604.7,470.8 606.6,474.7 608.5,474.9 610.4,474.2 612.3,474.6 614.2,473.9 616.1,473.0 618.0,472.7 619.9,468.1 621.8,468.8 623.7,472.5 625.6,470.7 627.5,473.3 629.4,474.1 631.3,474.9 633.2,478.0 635.1,479.5 637.0,479.1 638.9,482.0 640.8,483.3 642.7,482.7 644.6,486.1 646.5,485.1 648.4,486.4 650.3,485.0 652.2,483.7 654.1,486.2 656.0,486.0 657.9,488.3 659.8,488.4 661.7,486.0 663.6,483.9 665.5,482.2 667.4,488.1 669.3,492.5 671.2,495.7 673.1,497.3 675.0,504.1 676.9,506.0 678.8,512.9 680.7,518.7 682.6,522.5 684.5,524.2 686.4,525.8 688.3,529.6 690.2,533.3 692.1,535.3 694.0,540.8 695.9,545.5 697.8,547.8 699.7,549.7 701.6,552.4 703.5,555.7 705.4,558.9 707.3,563.3 709.2,564.4 711.1,570.8 713.0,574.0 714.9,578.9 716.8,580.5 718.7,583.0 720.6,584.4 722.5,590.2 724.4,589.9 726.3,590.6 728.1,591.4 730.0,592.3 731.9,596.2 733.8,594.1 735.7,594.3 737.6,596.1 739.5,594.5 741.4,593.9 743.3,594.2 745.2,592.2 747.1,594.1 749.0,595.1 750.9,595.9 752.8,598.1 754.7,598.3 756.6,599.2 758.5,600.6 760.4,602.1 762.3,603.9 764.2,604.8 766.1,604.9 768.0,604.6 769.9,605.9 771.8,608.0 773.7,607.6 775.6,606.9 777.5,605.7 779.4,607.4 781.3,606.5 783.2,604.9 785.1,606.0 787.0,605.7 788.9,604.5 790.8,603.3 792.7,601.8 794.6,601.7 796.5,597.6 798.4,592.5 800.3,588.0 802.2,586.7 804.1,583.1 806.0,584.3 807.9,580.5 809.8,579.4 811.7,577.9 813.6,581.0 815.5,579.5 817.4,580.4 819.3,580.7 821.2,585.5 823.1,587.8 825.0,591.3 826.9,591.8 828.8,593.4 830.7,595.4 832.6,596.7 834.5,593.9 836.4,593.1 838.3,592.6 840.2,591.4 842.1,594.0 844.0,595.1 845.9,594.1 847.8,591.7 849.7,590.3 851.6,591.3 853.5,588.8 855.4,589.1 857.3,588.1 859.2,589.1 861.1,592.6 863.0,594.0 864.9,595.2 866.7,597.2 868.6,596.7 870.5,598.6 872.4,599.8 874.3,601.1 876.2,602.8 878.1,602.9 880.0,605.9 881.9,606.5 883.8,605.7 885.7,605.0 887.6,607.3 889.5,607.3 891.4,610.5 893.3,615.0 895.2,618.2 897.1,621.6 899.0,620.5 900.9,622.2 902.8,622.8 904.7,623.2 906.6,624.7 908.5,624.8 910.4,625.2 912.3,624.5 914.2,626.6 916.1,628.5 918.0,629.2 919.9,631.4 921.8,631.9 923.7,634.0 925.6,635.1 927.5,637.8 929.4,638.4 931.3,641.4 933.2,643.9 935.1,645.8 937.0,649.0 938.9,651.1 940.8,653.4 942.7,654.3 944.6,657.3 946.5,658.9 948.4,661.6 950.3,665.3 952.2,668.4 954.1,672.4 956.0,676.1 957.9,677.4 959.8,681.0 961.7,682.2 963.6,685.0 965.5,687.8 967.4,689.5 969.3,693.0 971.2,696.1 973.1,697.0 975.0,700.0 976.9,701.8 978.8,704.5 980.7,706.7 982.6,709.9 984.5,712.1 986.4,713.8 988.3,716.6 990.2,719.5 992.1,720.4 994.0,722.8 995.9,724.1 997.8,726.1 999.7,729.0 1001.6,730.8 1003.5,731.5 1005.3,734.0 1007.2,735.5 1009.1,737.4 1011.0,737.7 1012.9,738.6 1014.8,740.9 1016.7,742.3 1018.6,744.6 1020.5,745.9 1022.4,748.1 1024.3,747.8 1026.2,749.4 1028.1,750.8 1030.0,752.8 1031.9,753.2 1033.8,755.2 1035.7,757.3 1037.6,760.3 1039.5,761.2 1041.4,763.2 1043.3,764.7 1045.2,766.2 1047.1,767.2 1049.0,769.4 1050.9,770.1 1052.8,771.4 1054.7,772.3 1056.6,774.0 1058.5,775.0 1060.4,775.7 1062.3,775.1 1064.2,776.5 1066.1,776.6 1068.0,776.6 1069.9,776.5 1071.8,776.2 1073.7,774.9 1075.6,774.6 1077.5,774.4 1079.4,772.7 1081.3,772.3 1083.2,772.9 1085.1,773.8 1087.0,774.1 1088.9,774.6 1090.8,773.5 1092.7,773.2 1094.6,772.3 1096.5,771.6 1098.4,771.1 1100.3,774.0 1102.2,773.8 1104.1,773.9 1106.0,774.2 1107.9,774.5 1109.8,774.1 1111.7,774.8 1113.6,773.0 1115.5,772.3 1117.4,772.3 1119.3,771.8 1121.2,771.7 1123.1,770.8 1125.0,770.7 1126.9,771.1 1128.8,770.8 1130.7,769.1 1132.6,768.0 1134.5,767.6 1136.4,767.3 1138.3,765.7 1140.2,765.1 1142.0,764.3 1143.9,763.0 1145.8,761.0 1147.7,760.5 1149.6,759.6 1151.5,759.5 1153.4,758.8 1155.3,757.8 1157.2,757.0 1159.1,756.1 1161.0,754.7 1162.9,753.6 1164.8,751.9 1166.7,751.2 1168.6,751.0 1170.5,750.1 1172.4,749.5 1174.3,748.8 1176.2,748.0 1178.1,747.2 1180.0,748.5 1181.9,747.5 1183.8,746.9 1185.7,747.6 1187.6,746.7 1189.5,746.1 1191.4,744.8 1193.3,743.7 1195.2,743.6 1197.1,742.2 1199.0,741.1 1200.9,740.4 1202.8,739.2 1204.7,738.7 1206.6,737.0 1208.5,735.8 1210.4,735.5 1212.3,733.6 1214.2,732.5 1216.1,731.2 1218.0,730.9 1219.9,729.7 1221.8,727.7 1223.7,726.8 1225.6,725.4 1227.5,725.7 1229.4,722.7 1231.3,722.7 1233.2,722.2 1235.1,721.6 1237.0,720.9 1238.9,722.4 1240.8,721.0 1242.7,720.8 1244.6,720.4 1246.5,720.2 1248.4,719.9 1250.3,719.3 1252.2,718.6 1254.1,717.8 1256.0,717.8 1257.9,717.9 1259.8,717.1 1261.7,717.3 1263.6,715.8 1265.5,715.9 1267.4,716.0 1269.3,715.4 1271.2,714.2 1273.1,714.7 1275.0,716.2 1276.9,718.3 1278.8,720.4 1280.6,722.1 1282.5,722.2 1284.4,723.4 1286.3,724.3 1288.2,725.6 1290.1,727.8 1292.0,728.9 1293.9,730.8 1295.8,732.6 1297.7,733.4 1299.6,736.3 1301.5,737.8 1303.4,739.9 1305.3,742.1 1307.2,743.8 1309.1,745.9 1311.0,747.7 1312.9,751.4 1314.8,755.0 1316.7,757.8 1318.6,759.5 1320.5,762.6 1322.4,764.6 1324.3,769.3 1326.2,771.7 1328.1,774.6 1330.0,777.5 1331.9,780.4 1333.8,784.0 1335.7,787.3 1337.6,789.1 1339.5,792.2 1341.4,796.3 1343.3,798.9 1345.2,801.2 1347.1,804.3 1349.0,805.2 1350.9,807.4 1352.8,809.4 1354.7,811.4 1356.6,812.4 1358.5,814.7 1360.4,816.9 1362.3,818.9 1364.2,821.6 1366.1,823.0 1368.0,825.1 1369.9,826.0 1371.8,828.3 1373.7,829.7 1375.6,831.8 1377.5,834.2 1379.4,836.2 1381.3,837.4 1383.2,839.5 1385.1,840.6 1387.0,842.7 1388.9,843.8 1390.8,844.0 1392.7,845.3 1394.6,846.2 1396.5,847.2 1398.4,848.0 1400.3,849.2 1402.2,850.0 1404.1,849.9 1406.0,851.4 1407.9,851.9 1409.8,852.7 1411.7,853.1 1413.6,853.3 1415.5,853.8 1417.4,854.5 1419.2,854.7 1421.1,854.8 1423.0,855.3 1424.9,856.3 1426.8,856.8 1428.7,857.2 1430.6,857.8 1432.5,857.9 1434.4,858.0 1436.3,858.3 1438.2,859.2 1440.1,859.7 1442.0,859.5 1443.9,860.6 1445.8,860.1 1447.7,860.5 1449.6,861.1 1451.5,860.8 1453.4,861.2 1455.3,861.8 1457.2,862.7 1459.1,863.3 1461.0,862.1 1462.9,862.4 1464.8,862.6 1466.7,862.1 1468.6,862.6 1470.5,862.4 1472.4,862.0 1474.3,861.6 1476.2,862.4 1478.1,862.9 1480.0,862.8 1481.9,863.2 1483.8,864.0 1485.7,864.7 1487.6,864.8 1489.5,865.8 1491.4,866.1 1493.3,866.4 1495.2,867.4 1497.1,867.4 1499.0,868.1 1500.9,868.2 1502.8,868.2 1504.7,868.1 1506.6,868.2 1508.5,868.3 1510.4,868.1 1512.3,868.1 1514.2,868.4 1516.1,867.7 1518.0,868.3 1519.9,869.2 1521.8,869.7 1523.7,869.2 1525.6,869.5 1527.5,868.9 1529.4,869.1 1531.3,869.6 1533.2,869.6 1535.1,869.4 1537.0,869.7 1538.9,870.0 1540.8,870.1 1542.7,869.7 1544.6,869.8 1546.5,871.0 1548.4,870.5 1550.3,870.8 1552.2,871.2 1554.1,872.0 1555.9,871.6 1557.8,871.8 1559.7,871.7 1561.6,871.5 1563.5,871.5 1565.4,871.3 1567.3,871.5 1569.2,871.6 1571.1,871.3 1573.0,871.3 1574.9,871.0 1576.8,871.7 1578.7,871.2 1580.6,871.2 1582.5,871.3 1584.4,871.9 1586.3,872.2 1588.2,872.8 1590.1,872.4 1592.0,872.6 1593.9,872.7 1595.8,872.7 1597.7,872.8 1599.6,873.0 1601.5,872.8 1603.4,873.4 1605.3,873.6 1607.2,873.3 1609.1,872.4 1611.0,872.4 1612.9,872.9 1614.8,873.1 1616.7,872.8 1618.6,872.0 1620.5,871.9 1622.4,872.2 1624.3,872.1 1626.2,872.2 1628.1,872.4 1630.0,871.0 1631.9,871.9 1633.8,872.6 1635.7,872.6 1637.6,872.6 1639.5,872.6 1641.4,873.2 1643.3,873.6 1645.2,874.2 1647.1,875.2 1649.0,874.7 1650.9,874.3 1652.8,873.8 1654.7,873.5 1656.6,873.2 1658.5,873.3 1660.4,873.3 1662.3,873.4 1664.2,873.3 1666.1,873.4 1668.0,873.6 1669.9,873.2 1671.8,872.9 1673.7,873.0 1675.6,873.2 1677.5,872.7 1679.4,872.6 1681.3,873.4 1683.2,873.5 1685.1,874.3 1687.0,874.4 1688.9,873.8 1690.8,873.9 1692.7,874.9 1694.5,874.2 1696.4,874.1 1698.3,875.4 1700.2,875.0 1702.1,874.5 1704.0,875.1 1705.9,875.1 1707.8,875.0 1709.7,874.4 1711.6,874.6 1713.5,874.0 1715.4,873.8 1717.3,873.5 1719.2,873.7 1721.1,873.3 1723.0,873.2 1724.9,872.9 1726.8,872.3 1728.7,872.4 1730.6,872.2 1732.5,871.9 1734.4,871.9 1736.3,872.6 1738.2,872.1 1740.1,871.8 1742.0,872.1 1743.9,872.3 1745.8,872.5 1747.7,873.1 1749.6,872.1 1751.5,872.2 1753.4,872.5 1755.3,872.4 1757.2,872.1 1759.1,872.1 1761.0,871.7 1762.9,871.2 1764.8,871.4 1766.7,871.2 1768.6,871.0 1770.5,871.3 1772.4,871.0"/>
<polyline fill="none" stroke="#ff7f27" stroke-width="8.6" stroke-linejoin="round" stroke-linecap="butt" points="240.2,618.2 242.1,620.5 244.0,622.9 245.9,624.8 247.8,628.3 249.7,631.0 251.6,635.0 253.5,634.6 255.4,641.5 257.3,636.5 259.2,641.5 261.1,645.8 263.0,647.1 264.9,648.3 266.8,652.0 268.7,656.4 270.6,660.6 272.5,659.8 274.4,663.9 276.3,665.7 278.2,670.6 280.1,671.3 282.0,673.7 283.9,677.1 285.8,677.4 287.7,678.8 289.6,678.2 291.5,679.2 293.4,677.6 295.3,678.7 297.2,679.7 299.1,679.8 301.0,684.1 302.9,679.1 304.8,677.8 306.7,681.2 308.6,682.7 310.5,682.3 312.4,683.5 314.2,685.1 316.1,681.7 318.0,679.3 319.9,680.2 321.8,682.2 323.7,681.4 325.6,679.8 327.5,679.6 329.4,679.1 331.3,675.7 333.2,677.4 335.1,675.7 337.0,675.6 338.9,675.0 340.8,675.4 342.7,676.5 344.6,674.9 346.5,674.7 348.4,675.5 350.3,674.8 352.2,672.1 354.1,672.4 356.0,669.8 357.9,668.3 359.8,667.6 361.7,668.4 363.6,664.2 365.5,662.7 367.4,662.7 369.3,660.7 371.2,661.0 373.1,662.3 375.0,657.5 376.9,658.3 378.8,656.9 380.7,659.9 382.6,657.8 384.5,656.4 386.4,654.1 388.3,651.2 390.2,651.2 392.1,650.8 394.0,649.5 395.9,650.9 397.8,649.0 399.7,645.1 401.6,643.9 403.5,643.8 405.4,640.7 407.3,640.5 409.2,638.9 411.1,638.5 413.0,637.2 414.9,634.6 416.8,635.7 418.7,632.1 420.6,631.9 422.5,628.1 424.4,625.8 426.3,624.2 428.2,622.8 430.1,622.9 432.0,618.0 433.9,620.2 435.8,615.0 437.7,616.3 439.6,613.2 441.5,609.7 443.4,609.3 445.3,605.6 447.2,603.8 449.1,601.9 451.0,604.4 452.8,597.6 454.7,598.8 456.6,594.3 458.5,590.9 460.4,588.9 462.3,589.7 464.2,586.3 466.1,582.8 468.0,580.5 469.9,576.3 471.8,572.7 473.7,564.6 475.6,563.0 477.5,558.6 479.4,550.6 481.3,545.4 483.2,542.5 485.1,537.9 487.0,535.6 488.9,532.6 490.8,529.4 492.7,524.9 494.6,520.6 496.5,522.0 498.4,518.4 500.3,519.8 502.2,518.9 504.1,513.8 506.0,511.5 507.9,512.0 509.8,511.1 511.7,507.3 513.6,504.0 515.5,502.0 517.4,500.5 519.3,496.6 521.2,495.3 523.1,495.0 525.0,490.6 526.9,488.7 528.8,485.1 530.7,483.7 532.6,482.8 534.5,481.2 536.4,476.7 538.3,471.7 540.2,476.5 542.1,471.4 544.0,473.1 545.9,472.8 547.8,472.1 549.7,471.6 551.6,468.4 553.5,473.0 555.4,469.1 557.3,463.5 559.2,457.0 561.1,450.9 563.0,451.4 564.9,448.6 566.8,445.0 568.7,443.7 570.6,440.1 572.5,435.9 574.4,436.0 576.3,439.7 578.2,442.8 580.1,445.4 582.0,446.4 583.9,446.8 585.8,446.7 587.7,449.8 589.5,452.0 591.4,451.2 593.3,451.2 595.2,453.0 597.1,453.4 599.0,456.4 600.9,455.8 602.8,459.0 604.7,458.8 606.6,461.8 608.5,466.7 610.4,463.0 612.3,464.8 614.2,470.9 616.1,473.4 618.0,475.6 619.9,475.3 621.8,472.7 623.7,469.1 625.6,465.4 627.5,468.2 629.4,469.6 631.3,473.2 633.2,473.3 635.1,470.7 637.0,473.5 638.9,471.9 640.8,475.7 642.7,473.6 644.6,476.3 646.5,476.2 648.4,475.4 650.3,478.0 652.2,476.9 654.1,473.3 656.0,477.2 657.9,476.9 659.8,478.2 661.7,480.2 663.6,482.2 665.5,486.8 667.4,490.4 669.3,496.0 671.2,501.0 673.1,507.9 675.0,513.3 676.9,521.1 678.8,525.2 680.7,532.1 682.6,538.4 684.5,541.6 686.4,545.0 688.3,551.4 690.2,553.6 692.1,557.1 694.0,562.3 695.9,565.0 697.8,567.0 699.7,570.1 701.6,574.2 703.5,581.3 705.4,587.2 707.3,591.5 709.2,594.2 711.1,599.3 713.0,602.9 714.9,607.3 716.8,614.5 718.7,618.9 720.6,620.4 722.5,623.6 724.4,629.2 726.3,630.8 728.1,636.4 730.0,640.3 731.9,640.9 733.8,641.8 735.7,643.3 737.6,643.9 739.5,642.8 741.4,642.8 743.3,643.2 745.2,644.8 747.1,645.9 749.0,644.7 750.9,643.0 752.8,642.2 754.7,641.0 756.6,639.6 758.5,638.2 760.4,640.6 762.3,642.9 764.2,643.6 766.1,645.9 768.0,646.5 769.9,648.0 771.8,649.5 773.7,647.7 775.6,651.1 777.5,653.4 779.4,650.7 781.3,648.7 783.2,648.7 785.1,649.0 787.0,649.4 788.9,647.0 790.8,647.3 792.7,645.9 794.6,644.9 796.5,642.0 798.4,639.5 800.3,636.0 802.2,635.2 804.1,637.3 806.0,636.1 807.9,636.6 809.8,635.2 811.7,634.5 813.6,633.1 815.5,634.9 817.4,636.2 819.3,635.9 821.2,639.0 823.1,638.7 825.0,640.9 826.9,639.6 828.8,640.6 830.7,641.6 832.6,645.2 834.5,645.6 836.4,644.9 838.3,645.9 840.2,646.3 842.1,645.3 844.0,643.5 845.9,644.2 847.8,643.2 849.7,641.0 851.6,641.8 853.5,642.9 855.4,642.7 857.3,642.2 859.2,643.1 861.1,643.4 863.0,644.7 864.9,642.6 866.7,644.3 868.6,646.7 870.5,648.7 872.4,651.7 874.3,652.2 876.2,653.1 878.1,653.4 880.0,655.6 881.9,656.1 883.8,656.6 885.7,658.8 887.6,661.7 889.5,663.0 891.4,662.7 893.3,668.3 895.2,667.0 897.1,667.8 899.0,666.2 900.9,666.4 902.8,666.9 904.7,668.6 906.6,669.5 908.5,672.9 910.4,672.7 912.3,674.1 914.2,677.3 916.1,677.1 918.0,676.2 919.9,678.6 921.8,679.9 923.7,681.6 925.6,683.8 927.5,684.4 929.4,686.7 931.3,687.9 933.2,688.8 935.1,690.6 937.0,692.6 938.9,694.3 940.8,698.7 942.7,699.8 944.6,701.3 946.5,704.9 948.4,707.1 950.3,711.4 952.2,715.1 954.1,715.1 956.0,715.3 957.9,715.7 959.8,717.0 961.7,718.2 963.6,719.2 965.5,719.1 967.4,720.0 969.3,719.7 971.2,721.2 973.1,722.7 975.0,724.2 976.9,724.3 978.8,724.9 980.7,728.3 982.6,728.9 984.5,730.7 986.4,733.6 988.3,736.0 990.2,739.0 992.1,741.8 994.0,743.8 995.9,745.8 997.8,748.8 999.7,750.0 1001.6,754.6 1003.5,756.6 1005.3,757.5 1007.2,759.5 1009.1,761.1 1011.0,761.8 1012.9,762.5 1014.8,763.1 1016.7,764.5 1018.6,765.8 1020.5,766.4 1022.4,767.7 1024.3,769.0 1026.2,769.5 1028.1,771.5 1030.0,771.8 1031.9,773.3 1033.8,776.4 1035.7,777.4 1037.6,778.0 1039.5,779.4 1041.4,780.6 1043.3,782.2 1045.2,783.6 1047.1,784.4 1049.0,785.8 1050.9,787.5 1052.8,789.0 1054.7,789.3 1056.6,789.3 1058.5,789.8 1060.4,791.6 1062.3,792.8 1064.2,793.2 1066.1,792.2 1068.0,791.1 1069.9,790.9 1071.8,789.7 1073.7,788.5 1075.6,787.3 1077.5,787.7 1079.4,787.8 1081.3,787.4 1083.2,788.3 1085.1,787.5 1087.0,788.6 1088.9,788.8 1090.8,788.9 1092.7,789.7 1094.6,789.3 1096.5,790.7 1098.4,790.6 1100.3,790.9 1102.2,791.8 1104.1,792.2 1106.0,792.2 1107.9,792.7 1109.8,791.9 1111.7,792.0 1113.6,791.5 1115.5,791.6 1117.4,791.8 1119.3,790.7 1121.2,789.4 1123.1,789.2 1125.0,788.2 1126.9,786.7 1128.8,785.8 1130.7,785.0 1132.6,785.7 1134.5,784.3 1136.4,783.9 1138.3,783.1 1140.2,782.7 1142.0,782.0 1143.9,780.5 1145.8,780.7 1147.7,780.5 1149.6,779.4 1151.5,779.6 1153.4,778.5 1155.3,777.5 1157.2,775.8 1159.1,776.5 1161.0,776.6 1162.9,775.1 1164.8,774.5 1166.7,775.1 1168.6,774.0 1170.5,774.1 1172.4,773.6 1174.3,773.9 1176.2,773.1 1178.1,772.5 1180.0,771.4 1181.9,769.8 1183.8,769.6 1185.7,769.7 1187.6,768.5 1189.5,767.8 1191.4,766.9 1193.3,766.5 1195.2,765.7 1197.1,765.3 1199.0,763.6 1200.9,762.2 1202.8,762.6 1204.7,761.4 1206.6,760.8 1208.5,760.8 1210.4,759.3 1212.3,759.4 1214.2,758.1 1216.1,756.1 1218.0,755.6 1219.9,754.7 1221.8,753.6 1223.7,752.4 1225.6,752.5 1227.5,752.0 1229.4,751.3 1231.3,750.2 1233.2,749.8 1235.1,749.6 1237.0,750.2 1238.9,748.9 1240.8,749.9 1242.7,750.1 1244.6,749.8 1246.5,749.7 1248.4,749.2 1250.3,749.3 1252.2,750.0 1254.1,749.9 1256.0,749.7 1257.9,748.8 1259.8,747.5 1261.7,747.2 1263.6,746.9 1265.5,746.5 1267.4,745.8 1269.3,744.3 1271.2,744.8 1273.1,744.1 1275.0,745.9 1276.9,745.5 1278.8,745.5 1280.6,747.0 1282.5,747.9 1284.4,748.7 1286.3,750.2 1288.2,750.5 1290.1,751.7 1292.0,753.5 1293.9,755.5 1295.8,757.4 1297.7,759.3 1299.6,760.0 1301.5,762.5 1303.4,765.1 1305.3,766.9 1307.2,769.8 1309.1,771.7 1311.0,773.0 1312.9,775.1 1314.8,776.1 1316.7,777.6 1318.6,779.3 1320.5,781.2 1322.4,783.8 1324.3,786.5 1326.2,788.2 1328.1,790.7 1330.0,792.9 1331.9,795.6 1333.8,797.9 1335.7,801.1 1337.6,803.5 1339.5,806.0 1341.4,807.8 1343.3,809.5 1345.2,811.9 1347.1,813.7 1349.0,815.1 1350.9,817.8 1352.8,820.2 1354.7,821.3 1356.6,823.6 1358.5,825.0 1360.4,826.7 1362.3,828.5 1364.2,829.4 1366.1,830.7 1368.0,832.4 1369.9,834.3 1371.8,836.1 1373.7,837.2 1375.6,838.9 1377.5,841.1 1379.4,842.0 1381.3,842.3 1383.2,844.0 1385.1,844.6 1387.0,845.8 1388.9,846.8 1390.8,848.2 1392.7,849.6 1394.6,850.2 1396.5,850.9 1398.4,850.9 1400.3,852.1 1402.2,852.8 1404.1,852.5 1406.0,853.9 1407.9,854.1 1409.8,854.4 1411.7,855.1 1413.6,856.0 1415.5,855.9 1417.4,856.6 1419.2,857.4 1421.1,857.3 1423.0,858.2 1424.9,858.3 1426.8,858.5 1428.7,858.9 1430.6,859.4 1432.5,860.1 1434.4,860.6 1436.3,860.7 1438.2,860.7 1440.1,860.9 1442.0,861.1 1443.9,860.7 1445.8,861.7 1447.7,862.6 1449.6,862.2 1451.5,862.7 1453.4,863.0 1455.3,863.3 1457.2,863.1 1459.1,862.8 1461.0,863.4 1462.9,863.6 1464.8,863.2 1466.7,863.7 1468.6,863.5 1470.5,863.6 1472.4,863.4 1474.3,864.0 1476.2,863.8 1478.1,863.6 1480.0,863.0 1481.9,864.6 1483.8,865.1 1485.7,866.0 1487.6,865.6 1489.5,866.2 1491.4,866.7 1493.3,867.0 1495.2,867.7 1497.1,868.2 1499.0,869.0 1500.9,869.5 1502.8,869.1 1504.7,869.7 1506.6,869.5 1508.5,870.1 1510.4,870.1 1512.3,870.2 1514.2,869.6 1516.1,869.8 1518.0,870.4 1519.9,870.1 1521.8,870.5 1523.7,869.8 1525.6,869.8 1527.5,870.2 1529.4,870.2 1531.3,870.0 1533.2,870.7 1535.1,870.6 1537.0,870.9 1538.9,871.0 1540.8,871.6 1542.7,870.8 1544.6,870.7 1546.5,871.7 1548.4,872.4 1550.3,872.4 1552.2,872.6 1554.1,872.6 1555.9,873.2 1557.8,873.0 1559.7,872.5 1561.6,873.1 1563.5,872.4 1565.4,871.8 1567.3,872.6 1569.2,872.3 1571.1,872.2 1573.0,871.6 1574.9,872.0 1576.8,872.2 1578.7,872.3 1580.6,873.0 1582.5,872.8 1584.4,873.2 1586.3,872.8 1588.2,873.0 1590.1,873.0 1592.0,873.5 1593.9,873.9 1595.8,874.0 1597.7,873.9 1599.6,873.5 1601.5,873.9 1603.4,874.9 1605.3,874.8 1607.2,874.8 1609.1,875.0 1611.0,874.1 1612.9,873.7 1614.8,873.6 1616.7,873.7 1618.6,873.7 1620.5,873.2 1622.4,872.6 1624.3,872.8 1626.2,873.0 1628.1,873.5 1630.0,872.8 1631.9,873.3 1633.8,873.5 1635.7,874.0 1637.6,874.1 1639.5,874.8 1641.4,874.8 1643.3,875.1 1645.2,876.3 1647.1,875.6 1649.0,876.2 1650.9,875.7 1652.8,875.1 1654.7,875.4 1656.6,874.8 1658.5,874.7 1660.4,874.3 1662.3,874.6 1664.2,873.9 1666.1,873.9 1668.0,873.7 1669.9,874.2 1671.8,874.4 1673.7,874.3 1675.6,873.6 1677.5,873.5 1679.4,873.4 1681.3,874.0 1683.2,874.0 1685.1,874.4 1687.0,874.2 1688.9,874.8 1690.8,875.7 1692.7,875.4 1694.5,875.4 1696.4,875.2 1698.3,875.3 1700.2,875.7 1702.1,875.4 1704.0,875.6 1705.9,876.1 1707.8,874.9 1709.7,875.3 1711.6,874.6 1713.5,874.6 1715.4,874.7 1717.3,874.2 1719.2,874.5 1721.1,873.7 1723.0,873.8 1724.9,874.6 1726.8,873.8 1728.7,873.1 1730.6,873.2 1732.5,873.1 1734.4,872.7 1736.3,873.0 1738.2,872.9 1740.1,873.1 1742.0,873.3 1743.9,872.8 1745.8,873.3 1747.7,873.5 1749.6,874.3 1751.5,873.8 1753.4,873.1 1755.3,873.4 1757.2,873.7 1759.1,873.7 1761.0,872.3 1762.9,873.2 1764.8,872.5 1766.7,871.8 1768.6,872.6 1770.5,872.4 1772.4,871.9"/>
<polyline fill="none" stroke="#ffc107" stroke-width="8.6" stroke-linejoin="round" stroke-linecap="butt" points="240.2,618.4 242.1,621.2 244.0,624.6 245.9,625.1 247.8,626.3 249.7,629.2 251.6,628.6 253.5,635.8 255.4,639.1 257.3,641.6 259.2,644.1 261.1,648.4 263.0,652.1 264.9,654.2 266.8,655.7 268.7,658.5 270.6,662.3 272.5,664.2 274.4,669.1 276.3,673.3 278.2,673.3 280.1,678.7 282.0,679.9 283.9,682.6 285.8,685.1 287.7,686.4 289.6,687.9 291.5,690.3 293.4,690.1 295.3,693.9 297.2,692.1 299.1,694.3 301.0,695.9 302.9,694.5 304.8,694.0 306.7,693.0 308.6,691.3 310.5,690.3 312.4,694.0 314.2,694.0 316.1,691.3 318.0,691.2 319.9,691.1 321.8,691.0 323.7,690.9 325.6,690.0 327.5,687.1 329.4,688.7 331.3,684.7 333.2,687.1 335.1,686.3 337.0,685.4 338.9,687.4 340.8,684.8 342.7,687.5 344.6,685.4 346.5,685.4 348.4,683.3 350.3,681.3 352.2,684.2 354.1,683.6 356.0,679.8 357.9,678.0 359.8,675.9 361.7,677.0 363.6,677.6 365.5,677.4 367.4,672.8 369.3,670.8 371.2,667.3 373.1,667.6 375.0,667.0 376.9,663.7 378.8,661.7 380.7,664.0 382.6,661.7 384.5,661.7 386.4,660.0 388.3,657.7 390.2,657.5 392.1,657.3 394.0,655.6 395.9,653.7 397.8,653.4 399.7,653.5 401.6,652.8 403.5,652.5 405.4,648.8 407.3,646.3 409.2,642.7 411.1,639.7 413.0,637.5 414.9,638.3 416.8,638.8 418.7,638.5 420.6,633.2 422.5,629.9 424.4,627.5 426.3,625.9 428.2,624.6 430.1,622.2 432.0,618.5 433.9,619.5 435.8,617.4 437.7,613.8 439.6,615.1 441.5,610.3 443.4,610.0 445.3,604.7 447.2,603.3 449.1,597.3 451.0,597.1 452.8,594.4 454.7,591.5 456.6,590.8 458.5,589.0 460.4,583.3 462.3,582.3 464.2,581.1 466.1,577.3 468.0,574.9 469.9,566.0 471.8,559.8 473.7,555.7 475.6,550.7 477.5,549.1 479.4,542.6 481.3,538.2 483.2,531.6 485.1,526.8 487.0,525.8 488.9,521.5 490.8,520.0 492.7,516.4 494.6,514.6 496.5,510.0 498.4,507.1 500.3,505.6 502.2,502.3 504.1,501.5 506.0,500.1 507.9,498.1 509.8,492.1 511.7,489.4 513.6,489.6 515.5,488.0 517.4,485.7 519.3,483.3 521.2,479.0 523.1,480.7 525.0,477.6 526.9,476.3 528.8,472.4 530.7,469.4 532.6,466.9 534.5,466.7 536.4,462.7 538.3,462.9 540.2,458.6 542.1,452.9 544.0,452.9 545.9,450.2 547.8,447.4 549.7,448.7 551.6,442.1 553.5,433.7 555.4,433.2 557.3,432.7 559.2,429.9 561.1,431.9 563.0,427.6 564.9,423.3 566.8,420.6 568.7,417.2 570.6,418.8 572.5,423.4 574.4,427.1 576.3,426.2 578.2,430.4 580.1,429.2 582.0,430.9 583.9,435.6 585.8,433.6 587.7,439.0 589.5,440.6 591.4,442.0 593.3,439.5 595.2,444.7 597.1,444.6 599.0,444.1 600.9,447.1 602.8,447.4 604.7,450.4 606.6,448.3 608.5,448.4 610.4,448.1 612.3,449.9 614.2,451.6 616.1,447.4 618.0,447.3 619.9,450.0 621.8,448.5 623.7,447.1 625.6,449.0 627.5,446.4 629.4,447.3 631.3,447.3 633.2,445.8 635.1,443.0 637.0,445.4 638.9,449.2 640.8,448.6 642.7,452.4 644.6,457.2 646.5,456.7 648.4,459.7 650.3,462.6 652.2,463.2 654.1,469.0 656.0,470.4 657.9,474.0 659.8,476.9 661.7,479.0 663.6,483.8 665.5,491.6 667.4,498.8 669.3,505.9 671.2,512.8 673.1,521.8 675.0,528.5 676.9,535.5 678.8,542.1 680.7,547.4 682.6,554.8 684.5,561.6 686.4,564.9 688.3,572.6 690.2,579.6 692.1,578.5 694.0,582.0 695.9,589.4 697.8,596.2 699.7,602.6 701.6,609.9 703.5,620.4 705.4,623.7 707.3,628.2 709.2,633.1 711.1,641.3 713.0,646.1 714.9,652.9 716.8,659.7 718.7,662.5 720.6,665.3 722.5,666.8 724.4,667.0 726.3,670.1 728.1,671.2 730.0,676.1 731.9,678.6 733.8,682.0 735.7,683.8 737.6,685.8 739.5,687.3 741.4,687.3 743.3,690.6 745.2,693.7 747.1,696.7 749.0,700.0 750.9,701.3 752.8,701.9 754.7,703.8 756.6,704.1 758.5,703.8 760.4,704.4 762.3,706.3 764.2,706.7 766.1,708.0 768.0,707.8 769.9,708.8 771.8,707.6 773.7,707.1 775.6,704.6 777.5,706.2 779.4,708.6 781.3,711.3 783.2,710.1 785.1,711.3 787.0,712.7 788.9,711.9 790.8,712.9 792.7,710.5 794.6,709.9 796.5,709.5 798.4,707.4 800.3,706.8 802.2,705.6 804.1,705.9 806.0,703.5 807.9,703.4 809.8,704.3 811.7,703.5 813.6,703.0 815.5,704.2 817.4,702.5 819.3,701.8 821.2,700.7 823.1,701.8 825.0,701.9 826.9,701.9 828.8,703.5 830.7,702.7 832.6,703.7 834.5,704.1 836.4,704.9 838.3,706.4 840.2,707.4 842.1,707.0 844.0,708.4 845.9,710.2 847.8,710.8 849.7,711.2 851.6,709.0 853.5,709.9 855.4,713.2 857.3,712.9 859.2,712.3 861.1,713.8 863.0,711.6 864.9,712.4 866.7,713.0 868.6,714.1 870.5,714.7 872.4,714.3 874.3,714.3 876.2,714.1 878.1,713.6 880.0,715.3 881.9,717.1 883.8,717.0 885.7,719.1 887.6,720.1 889.5,721.1 891.4,723.5 893.3,723.3 895.2,726.6 897.1,726.9 899.0,727.7 900.9,726.9 902.8,726.3 904.7,726.2 906.6,728.3 908.5,731.1 910.4,731.0 912.3,730.9 914.2,731.9 916.1,733.4 918.0,732.9 919.9,734.4 921.8,735.0 923.7,736.7 925.6,740.2 927.5,739.1 929.4,740.0 931.3,742.8 933.2,744.1 935.1,745.2 937.0,746.2 938.9,747.2 940.8,749.4 942.7,749.6 944.6,751.8 946.5,753.0 948.4,755.2 950.3,756.0 952.2,757.9 954.1,758.4 956.0,758.7 957.9,760.4 959.8,762.1 961.7,763.4 963.6,763.5 965.5,763.7 967.4,763.4 969.3,764.2 971.2,765.1 973.1,765.4 975.0,767.2 976.9,768.5 978.8,767.8 980.7,767.5 982.6,769.4 984.5,770.5 986.4,772.4 988.3,774.3 990.2,775.0 992.1,776.6 994.0,778.3 995.9,779.4 997.8,780.6 999.7,781.9 1001.6,783.0 1003.5,784.7 1005.3,786.3 1007.2,789.2 1009.1,790.5 1011.0,791.5 1012.9,792.6 1014.8,794.5 1016.7,796.9 1018.6,798.5 1020.5,799.7 1022.4,799.5 1024.3,798.7 1026.2,800.8 1028.1,800.3 1030.0,800.8 1031.9,801.4 1033.8,802.0 1035.7,803.1 1037.6,802.9 1039.5,804.7 1041.4,806.0 1043.3,806.4 1045.2,807.7 1047.1,809.1 1049.0,810.0 1050.9,810.6 1052.8,811.5 1054.7,812.5 1056.6,813.3 1058.5,813.8 1060.4,814.7 1062.3,815.8 1064.2,816.3 1066.1,817.0 1068.0,817.7 1069.9,817.7 1071.8,818.3 1073.7,817.7 1075.6,817.0 1077.5,815.9 1079.4,815.6 1081.3,814.9 1083.2,815.4 1085.1,814.5 1087.0,814.5 1088.9,812.9 1090.8,813.2 1092.7,812.4 1094.6,812.5 1096.5,811.8 1098.4,811.8 1100.3,811.0 1102.2,811.6 1104.1,811.8 1106.0,811.8 1107.9,811.9 1109.8,812.3 1111.7,812.8 1113.6,812.7 1115.5,813.3 1117.4,814.5 1119.3,814.2 1121.2,814.0 1123.1,813.1 1125.0,812.5 1126.9,812.6 1128.8,811.7 1130.7,811.8 1132.6,811.2 1134.5,810.1 1136.4,810.1 1138.3,810.8 1140.2,809.8 1142.0,808.5 1143.9,807.2 1145.8,806.8 1147.7,806.6 1149.6,805.6 1151.5,804.5 1153.4,803.3 1155.3,802.8 1157.2,802.8 1159.1,802.2 1161.0,801.3 1162.9,800.5 1164.8,801.5 1166.7,802.2 1168.6,801.9 1170.5,802.7 1172.4,804.5 1174.3,805.4 1176.2,806.3 1178.1,805.6 1180.0,804.1 1181.9,803.1 1183.8,800.8 1185.7,798.2 1187.6,797.3 1189.5,796.4 1191.4,795.7 1193.3,795.2 1195.2,795.1 1197.1,793.9 1199.0,793.4 1200.9,793.0 1202.8,792.1 1204.7,791.8 1206.6,790.8 1208.5,790.3 1210.4,789.0 1212.3,788.4 1214.2,787.6 1216.1,786.3 1218.0,785.7 1219.9,785.9 1221.8,785.2 1223.7,785.5 1225.6,785.1 1227.5,784.7 1229.4,784.6 1231.3,784.8 1233.2,785.1 1235.1,784.5 1237.0,784.4 1238.9,784.8 1240.8,785.4 1242.7,784.4 1244.6,784.2 1246.5,784.2 1248.4,783.7 1250.3,783.3 1252.2,783.4 1254.1,782.9 1256.0,782.4 1257.9,781.9 1259.8,781.7 1261.7,781.4 1263.6,781.4 1265.5,780.2 1267.4,779.9 1269.3,779.7 1271.2,779.5 1273.1,780.1 1275.0,780.8 1276.9,781.9 1278.8,783.2 1280.6,783.4 1282.5,783.8 1284.4,784.9 1286.3,785.3 1288.2,785.2 1290.1,785.8 1292.0,787.7 1293.9,789.5 1295.8,790.5 1297.7,791.4 1299.6,792.5 1301.5,794.2 1303.4,795.1 1305.3,796.2 1307.2,798.5 1309.1,800.0 1311.0,800.8 1312.9,801.4 1314.8,802.9 1316.7,804.7 1318.6,805.1 1320.5,806.8 1322.4,807.7 1324.3,809.0 1326.2,810.0 1328.1,810.9 1330.0,812.3 1331.9,814.6 1333.8,816.8 1335.7,818.2 1337.6,819.9 1339.5,822.2 1341.4,823.1 1343.3,824.9 1345.2,826.1 1347.1,827.8 1349.0,829.1 1350.9,830.5 1352.8,832.0 1354.7,834.0 1356.6,835.6 1358.5,836.6 1360.4,837.5 1362.3,839.1 1364.2,840.1 1366.1,841.8 1368.0,842.8 1369.9,843.7 1371.8,844.4 1373.7,845.7 1375.6,847.0 1377.5,848.0 1379.4,849.0 1381.3,849.3 1383.2,851.4 1385.1,852.1 1387.0,852.6 1388.9,852.8 1390.8,853.4 1392.7,854.3 1394.6,854.6 1396.5,854.4 1398.4,854.7 1400.3,855.2 1402.2,856.1 1404.1,856.5 1406.0,856.4 1407.9,856.7 1409.8,856.9 1411.7,857.9 1413.6,857.7 1415.5,858.7 1417.4,858.7 1419.2,858.8 1421.1,860.3 1423.0,860.4 1424.9,860.8 1426.8,860.6 1428.7,860.0 1430.6,860.7 1432.5,861.0 1434.4,861.6 1436.3,861.8 1438.2,861.6 1440.1,862.2 1442.0,862.7 1443.9,863.0 1445.8,862.6 1447.7,863.2 1449.6,863.9 1451.5,864.1 1453.4,864.2 1455.3,863.8 1457.2,864.7 1459.1,864.6 1461.0,863.7 1462.9,863.8 1464.8,864.4 1466.7,865.0 1468.6,864.3 1470.5,864.4 1472.4,864.9 1474.3,864.4 1476.2,865.0 1478.1,864.8 1480.0,864.5 1481.9,865.2 1483.8,865.4 1485.7,866.4 1487.6,866.7 1489.5,866.8 1491.4,867.4 1493.3,867.9 1495.2,867.8 1497.1,868.9 1499.0,868.8 1500.9,870.1 1502.8,870.8 1504.7,870.4 1506.6,870.6 1508.5,871.5 1510.4,870.9 1512.3,871.2 1514.2,871.3 1516.1,871.6 1518.0,870.9 1519.9,871.1 1521.8,871.7 1523.7,871.6 1525.6,871.6 1527.5,871.5 1529.4,871.5 1531.3,872.1 1533.2,871.9 1535.1,872.1 1537.0,872.2 1538.9,871.9 1540.8,871.6 1542.7,872.4 1544.6,872.6 1546.5,873.2 1548.4,873.2 1550.3,873.5 1552.2,873.3 1554.1,874.0 1555.9,873.7 1557.8,873.3 1559.7,873.5 1561.6,873.8 1563.5,873.5 1565.4,873.4 1567.3,873.4 1569.2,873.1 1571.1,873.5 1573.0,872.3 1574.9,872.4 1576.8,872.8 1578.7,873.2 1580.6,873.4 1582.5,872.9 1584.4,873.6 1586.3,873.3 1588.2,874.1 1590.1,874.1 1592.0,874.2 1593.9,873.7 1595.8,874.3 1597.7,874.2 1599.6,874.9 1601.5,875.5 1603.4,876.0 1605.3,875.9 1607.2,875.6 1609.1,875.3 1611.0,875.6 1612.9,875.8 1614.8,874.2 1616.7,873.5 1618.6,874.1 1620.5,873.9 1622.4,874.0 1624.3,874.4 1626.2,874.2 1628.1,874.4 1630.0,873.8 1631.9,874.1 1633.8,873.7 1635.7,874.8 1637.6,875.2 1639.5,875.7 1641.4,875.2 1643.3,875.8 1645.2,876.7 1647.1,876.7 1649.0,877.0 1650.9,876.1 1652.8,876.2 1654.7,875.8 1656.6,875.2 1658.5,875.3 1660.4,875.8 1662.3,874.9 1664.2,875.1 1666.1,874.8 1668.0,874.9 1669.9,874.9 1671.8,874.8 1673.7,874.8 1675.6,874.3 1677.5,874.6 1679.4,874.7 1681.3,874.9 1683.2,874.9 1685.1,874.8 1687.0,875.9 1688.9,876.4 1690.8,875.3 1692.7,876.2 1694.5,876.5 1696.4,877.3 1698.3,876.9 1700.2,876.8 1702.1,876.6 1704.0,877.8 1705.9,877.5 1707.8,876.6 1709.7,876.6 1711.6,876.3 1713.5,876.1 1715.4,876.1 1717.3,875.8 1719.2,875.6 1721.1,874.6 1723.0,874.6 1724.9,874.4 1726.8,874.4 1728.7,874.4 1730.6,873.5 1732.5,874.1 1734.4,874.0 1736.3,873.7 1738.2,873.9 1740.1,873.9 1742.0,873.9 1743.9,874.1 1745.8,874.3 1747.7,874.6 1749.6,874.7 1751.5,874.4 1753.4,874.3 1755.3,874.1 1757.2,874.0 1759.1,874.5 1761.0,874.2 1762.9,873.7 1764.8,873.7 1766.7,873.2 1768.6,873.7 1770.5,873.7 1772.4,873.4"/>
<polyline fill="none" stroke="#1a73cc" stroke-width="8.6" stroke-linejoin="round" stroke-linecap="butt" points="240.2,623.1 242.1,629.8 244.0,631.3 245.9,632.9 247.8,634.0 249.7,635.2 251.6,639.1 253.5,642.7 255.4,645.9 257.3,649.9 259.2,652.9 261.1,658.3 263.0,662.7 264.9,668.0 266.8,670.0 268.7,672.4 270.6,675.8 272.5,677.9 274.4,678.1 276.3,684.4 278.2,686.3 280.1,689.8 282.0,691.9 283.9,698.9 285.8,700.3 287.7,700.8 289.6,699.8 291.5,703.4 293.4,703.0 295.3,706.2 297.2,704.0 299.1,705.9 301.0,708.4 302.9,707.3 304.8,707.5 306.7,706.3 308.6,705.9 310.5,702.8 312.4,703.2 314.2,705.1 316.1,700.3 318.0,699.4 319.9,700.6 321.8,699.1 323.7,697.2 325.6,700.0 327.5,699.7 329.4,699.3 331.3,698.7 333.2,697.5 335.1,695.2 337.0,692.7 338.9,696.5 340.8,695.7 342.7,697.3 344.6,698.7 346.5,696.4 348.4,696.4 350.3,699.0 352.2,697.9 354.1,693.7 356.0,694.1 357.9,694.0 359.8,693.7 361.7,692.7 363.6,690.2 365.5,688.1 367.4,688.4 369.3,684.4 371.2,686.1 373.1,684.6 375.0,681.7 376.9,679.7 378.8,679.2 380.7,675.5 382.6,672.0 384.5,673.9 386.4,675.0 388.3,671.9 390.2,670.2 392.1,668.5 394.0,665.5 395.9,666.1 397.8,666.2 399.7,664.4 401.6,664.5 403.5,661.0 405.4,661.2 407.3,659.1 409.2,657.7 411.1,656.2 413.0,653.8 414.9,652.2 416.8,650.3 418.7,646.4 420.6,648.2 422.5,643.7 424.4,643.8 426.3,643.2 428.2,638.8 430.1,635.5 432.0,630.9 433.9,625.0 435.8,622.7 437.7,617.1 439.6,610.6 441.5,606.7 443.4,603.1 445.3,600.2 447.2,595.4 449.1,592.7 451.0,588.8 452.8,588.3 454.7,582.8 456.6,581.5 458.5,576.8 460.4,575.1 462.3,574.0 464.2,566.8 466.1,562.8 468.0,553.4 469.9,545.7 471.8,539.7 473.7,534.8 475.6,530.4 477.5,526.7 479.4,520.7 481.3,517.3 483.2,511.4 485.1,511.1 487.0,507.5 488.9,503.5 490.8,502.0 492.7,502.7 494.6,500.9 496.5,500.1 498.4,496.4 500.3,494.8 502.2,492.2 504.1,487.7 506.0,487.2 507.9,486.1 509.8,483.6 511.7,484.3 513.6,485.6 515.5,483.6 517.4,477.7 519.3,471.5 521.2,468.9 523.1,468.6 525.0,470.6 526.9,473.5 528.8,469.2 530.7,462.2 532.6,461.9 534.5,456.6 536.4,454.1 538.3,446.3 540.2,446.8 542.1,437.6 544.0,434.4 545.9,431.7 547.8,422.0 549.7,420.1 551.6,415.7 553.5,417.9 555.4,414.7 557.3,408.6 559.2,403.3 561.1,400.2 563.0,401.4 564.9,398.5 566.8,398.5 568.7,395.6 570.6,391.7 572.5,398.2 574.4,399.5 576.3,399.7 578.2,402.3 580.1,408.2 582.0,411.2 583.9,410.7 585.8,417.8 587.7,418.6 589.5,423.4 591.4,423.2 593.3,425.8 595.2,430.8 597.1,429.8 599.0,432.7 600.9,435.2 602.8,435.1 604.7,439.7 606.6,440.8 608.5,440.7 610.4,443.6 612.3,446.1 614.2,447.6 616.1,446.6 618.0,448.8 619.9,449.7 621.8,448.5 623.7,450.3 625.6,455.7 627.5,454.0 629.4,456.7 631.3,460.7 633.2,459.8 635.1,461.3 637.0,461.7 638.9,465.0 640.8,464.4 642.7,468.1 644.6,468.3 646.5,471.4 648.4,470.6 650.3,472.9 652.2,478.3 654.1,480.9 656.0,478.3 657.9,488.1 659.8,490.5 661.7,496.9 663.6,504.8 665.5,512.8 667.4,521.5 669.3,526.7 671.2,536.9 673.1,547.3 675.0,551.0 676.9,560.5 678.8,567.8 680.7,575.1 682.6,579.3 684.5,586.6 686.4,594.1 688.3,602.9 690.2,606.9 692.1,612.7 694.0,618.4 695.9,626.3 697.8,630.0 699.7,637.0 701.6,642.2 703.5,649.2 705.4,656.9 707.3,661.8 709.2,668.3 711.1,672.6 713.0,678.1 714.9,683.3 716.8,687.9 718.7,694.5 720.6,700.6 722.5,704.8 724.4,709.8 726.3,713.3 728.1,716.5 730.0,720.7 731.9,725.8 733.8,730.4 735.7,735.6 737.6,737.0 739.5,738.4 741.4,738.3 743.3,740.4 745.2,742.6 747.1,742.1 749.0,742.6 750.9,745.9 752.8,745.5 754.7,745.0 756.6,744.4 758.5,745.9 760.4,749.9 762.3,749.8 764.2,751.2 766.1,752.4 768.0,752.6 769.9,754.1 771.8,755.2 773.7,756.0 775.6,758.3 777.5,758.1 779.4,757.5 781.3,757.2 783.2,758.5 785.1,758.0 787.0,760.3 788.9,758.8 790.8,757.1 792.7,754.0 794.6,753.3 796.5,752.8 798.4,753.2 800.3,752.0 802.2,752.1 804.1,754.9 806.0,755.7 807.9,756.0 809.8,755.2 811.7,752.8 813.6,754.4 815.5,755.5 817.4,758.0 819.3,758.8 821.2,759.7 823.1,761.1 825.0,760.9 826.9,758.3 828.8,758.3 830.7,757.7 832.6,757.3 834.5,757.5 836.4,755.9 838.3,758.0 840.2,756.5 842.1,757.6 844.0,756.8 845.9,756.8 847.8,757.2 849.7,757.2 851.6,759.2 853.5,761.4 855.4,763.6 857.3,765.4 859.2,764.6 861.1,765.7 863.0,765.6 864.9,765.0 866.7,765.0 868.6,764.7 870.5,763.8 872.4,764.0 874.3,765.5 876.2,765.4 878.1,766.7 880.0,766.2 881.9,766.4 883.8,767.3 885.7,768.0 887.6,769.5 889.5,770.5 891.4,773.1 893.3,774.8 895.2,774.8 897.1,776.0 899.0,777.0 900.9,778.8 902.8,778.6 904.7,777.7 906.6,776.2 908.5,777.7 910.4,778.6 912.3,779.2 914.2,781.1 916.1,781.4 918.0,781.7 919.9,781.0 921.8,780.4 923.7,781.2 925.6,780.6 927.5,781.6 929.4,782.7 931.3,784.0 933.2,784.3 935.1,785.5 937.0,785.0 938.9,784.9 940.8,785.1 942.7,785.4 944.6,785.9 946.5,787.0 948.4,788.9 950.3,790.5 952.2,793.2 954.1,793.9 956.0,795.9 957.9,796.0 959.8,797.5 961.7,797.8 963.6,798.1 965.5,799.6 967.4,800.6 969.3,801.7 971.2,802.4 973.1,802.8 975.0,803.2 976.9,804.1 978.8,805.0 980.7,806.4 982.6,807.1 984.5,808.3 986.4,809.3 988.3,810.1 990.2,810.7 992.1,811.4 994.0,814.0 995.9,814.1 997.8,814.2 999.7,815.0 1001.6,816.2 1003.5,818.3 1005.3,818.6 1007.2,818.7 1009.1,820.4 1011.0,819.6 1012.9,820.9 1014.8,822.3 1016.7,821.8 1018.6,822.3 1020.5,822.3 1022.4,820.5 1024.3,821.3 1026.2,821.0 1028.1,819.8 1030.0,821.3 1031.9,822.0 1033.8,823.3 1035.7,824.4 1037.6,824.9 1039.5,824.9 1041.4,826.2 1043.3,827.0 1045.2,827.6 1047.1,828.5 1049.0,829.6 1050.9,830.8 1052.8,830.8 1054.7,831.1 1056.6,831.8 1058.5,832.0 1060.4,831.9 1062.3,831.8 1064.2,831.7 1066.1,832.7 1068.0,832.7 1069.9,833.2 1071.8,832.6 1073.7,832.4 1075.6,832.8 1077.5,833.4 1079.4,832.9 1081.3,832.8 1083.2,833.4 1085.1,832.9 1087.0,833.9 1088.9,833.3 1090.8,833.0 1092.7,833.5 1094.6,833.4 1096.5,834.2 1098.4,834.3 1100.3,834.8 1102.2,834.4 1104.1,835.4 1106.0,834.4 1107.9,833.2 1109.8,833.8 1111.7,831.9 1113.6,831.2 1115.5,830.9 1117.4,830.7 1119.3,830.8 1121.2,830.7 1123.1,829.7 1125.0,829.9 1126.9,830.1 1128.8,830.0 1130.7,830.5 1132.6,829.8 1134.5,829.6 1136.4,829.6 1138.3,829.1 1140.2,829.0 1142.0,829.2 1143.9,828.8 1145.8,828.2 1147.7,827.8 1149.6,828.1 1151.5,828.0 1153.4,826.6 1155.3,826.3 1157.2,827.1 1159.1,827.2 1161.0,827.2 1162.9,827.3 1164.8,826.5 1166.7,826.3 1168.6,827.1 1170.5,826.7 1172.4,827.3 1174.3,828.4 1176.2,827.3 1178.1,827.7 1180.0,828.1 1181.9,828.0 1183.8,827.1 1185.7,826.5 1187.6,826.1 1189.5,824.7 1191.4,824.2 1193.3,823.2 1195.2,822.2 1197.1,821.8 1199.0,820.9 1200.9,819.8 1202.8,819.1 1204.7,818.4 1206.6,817.9 1208.5,817.8 1210.4,818.3 1212.3,817.9 1214.2,818.4 1216.1,818.3 1218.0,818.1 1219.9,817.5 1221.8,816.4 1223.7,817.3 1225.6,816.1 1227.5,815.4 1229.4,815.6 1231.3,815.5 1233.2,814.5 1235.1,814.3 1237.0,814.5 1238.9,814.4 1240.8,814.0 1242.7,813.8 1244.6,814.0 1246.5,813.3 1248.4,813.5 1250.3,813.2 1252.2,812.5 1254.1,813.0 1256.0,813.0 1257.9,811.8 1259.8,812.0 1261.7,812.7 1263.6,812.0 1265.5,811.3 1267.4,812.0 1269.3,812.5 1271.2,813.0 1273.1,813.8 1275.0,814.4 1276.9,814.9 1278.8,814.2 1280.6,814.8 1282.5,816.0 1284.4,816.0 1286.3,816.6 1288.2,817.9 1290.1,820.0 1292.0,819.8 1293.9,820.9 1295.8,821.9 1297.7,822.7 1299.6,824.0 1301.5,824.5 1303.4,824.7 1305.3,825.6 1307.2,826.2 1309.1,826.8 1311.0,827.9 1312.9,829.1 1314.8,830.1 1316.7,831.1 1318.6,831.3 1320.5,832.6 1322.4,833.5 1324.3,834.2 1326.2,835.4 1328.1,836.4 1330.0,837.4 1331.9,838.8 1333.8,839.3 1335.7,840.8 1337.6,841.7 1339.5,842.8 1341.4,843.6 1343.3,844.8 1345.2,845.7 1347.1,846.4 1349.0,846.5 1350.9,847.6 1352.8,849.0 1354.7,849.8 1356.6,850.3 1358.5,850.9 1360.4,851.6 1362.3,853.0 1364.2,853.6 1366.1,855.0 1368.0,855.8 1369.9,856.5 1371.8,857.0 1373.7,858.1 1375.6,858.6 1377.5,859.4 1379.4,859.9 1381.3,860.1 1383.2,859.9 1385.1,860.3 1387.0,860.0 1388.9,860.3 1390.8,860.9 1392.7,861.0 1394.6,861.2 1396.5,861.4 1398.4,862.4 1400.3,861.4 1402.2,861.4 1404.1,862.5 1406.0,862.0 1407.9,862.5 1409.8,863.5 1411.7,862.8 1413.6,863.5 1415.5,864.3 1417.4,865.0 1419.2,864.8 1421.1,865.4 1423.0,865.5 1424.9,866.1 1426.8,866.2 1428.7,866.6 1430.6,866.8 1432.5,866.9 1434.4,866.4 1436.3,866.2 1438.2,866.6 1440.1,867.1 1442.0,867.3 1443.9,866.9 1445.8,867.3 1447.7,867.7 1449.6,867.9 1451.5,869.5 1453.4,869.5 1455.3,869.9 1457.2,870.4 1459.1,870.3 1461.0,870.8 1462.9,871.0 1464.8,870.6 1466.7,870.4 1468.6,869.1 1470.5,869.7 1472.4,869.5 1474.3,869.0 1476.2,868.7 1478.1,867.9 1480.0,868.0 1481.9,868.9 1483.8,869.6 1485.7,870.1 1487.6,870.5 1489.5,871.6 1491.4,872.4 1493.3,871.9 1495.2,873.2 1497.1,873.5 1499.0,873.2 1500.9,873.9 1502.8,874.4 1504.7,875.1 1506.6,874.6 1508.5,875.0 1510.4,874.5 1512.3,874.6 1514.2,875.2 1516.1,874.8 1518.0,875.0 1519.9,875.3 1521.8,875.4 1523.7,875.4 1525.6,875.5 1527.5,876.2 1529.4,875.5 1531.3,875.8 1533.2,875.4 1535.1,875.6 1537.0,875.6 1538.9,875.2 1540.8,875.3 1542.7,876.4 1544.6,875.6 1546.5,876.3 1548.4,876.6 1550.3,877.4 1552.2,877.5 1554.1,877.8 1555.9,877.5 1557.8,877.2 1559.7,877.0 1561.6,877.3 1563.5,877.6 1565.4,877.8 1567.3,877.1 1569.2,877.7 1571.1,877.4 1573.0,877.0 1574.9,876.4 1576.8,877.2 1578.7,877.5 1580.6,877.4 1582.5,877.1 1584.4,877.0 1586.3,878.4 1588.2,877.9 1590.1,878.9 1592.0,878.8 1593.9,878.9 1595.8,879.4 1597.7,879.0 1599.6,879.1 1601.5,878.4 1603.4,878.8 1605.3,879.0 1607.2,879.6 1609.1,878.9 1611.0,879.5 1612.9,878.7 1614.8,878.8 1616.7,878.4 1618.6,878.2 1620.5,877.7 1622.4,878.1 1624.3,877.9 1626.2,877.5 1628.1,876.9 1630.0,878.2 1631.9,878.1 1633.8,878.2 1635.7,878.2 1637.6,879.2 1639.5,878.9 1641.4,879.9 1643.3,880.4 1645.2,880.7 1647.1,880.8 1649.0,880.1 1650.9,880.9 1652.8,880.4 1654.7,880.4 1656.6,879.7 1658.5,879.6 1660.4,879.2 1662.3,879.4 1664.2,879.2 1666.1,878.5 1668.0,878.3 1669.9,878.4 1671.8,878.1 1673.7,878.6 1675.6,878.9 1677.5,878.9 1679.4,878.6 1681.3,879.7 1683.2,879.1 1685.1,879.4 1687.0,879.2 1688.9,879.0 1690.8,880.1 1692.7,879.7 1694.5,879.9 1696.4,879.8 1698.3,880.1 1700.2,880.5 1702.1,880.8 1704.0,881.3 1705.9,880.9 1707.8,881.1 1709.7,880.8 1711.6,880.1 1713.5,879.8 1715.4,879.8 1717.3,879.4 1719.2,879.2 1721.1,878.5 1723.0,878.2 1724.9,878.7 1726.8,878.3 1728.7,878.5 1730.6,878.6 1732.5,878.0 1734.4,877.7 1736.3,878.5 1738.2,878.5 1740.1,878.0 1742.0,878.6 1743.9,877.8 1745.8,878.1 1747.7,878.7 1749.6,879.0 1751.5,879.3 1753.4,878.8 1755.3,879.0 1757.2,878.6 1759.1,877.7 1761.0,877.4 1762.9,877.4 1764.8,878.0 1766.7,877.8 1768.6,877.7 1770.5,877.6 1772.4,876.9"/>
<polyline fill="none" stroke="#00437f" stroke-width="8.6" stroke-linejoin="round" stroke-linecap="butt" points="240.2,598.9 242.1,603.5 244.0,606.8 245.9,610.3 247.8,610.9 249.7,618.4 251.6,623.8 253.5,627.6 255.4,630.5 257.3,633.7 259.2,638.5 261.1,642.4 263.0,644.5 264.9,645.4 266.8,647.5 268.7,651.0 270.6,648.1 272.5,650.6 274.4,648.6 276.3,649.1 278.2,654.3 280.1,651.1 282.0,651.1 283.9,649.7 285.8,652.5 287.7,650.9 289.6,651.6 291.5,653.3 293.4,653.2 295.3,656.6 297.2,653.9 299.1,652.4 301.0,653.5 302.9,652.0 304.8,651.5 306.7,649.9 308.6,650.3 310.5,651.1 312.4,648.6 314.2,648.7 316.1,649.8 318.0,651.4 319.9,656.0 321.8,655.0 323.7,654.7 325.6,654.6 327.5,654.4 329.4,657.6 331.3,659.7 333.2,657.0 335.1,659.2 337.0,659.0 338.9,656.2 340.8,655.2 342.7,653.0 344.6,654.1 346.5,652.7 348.4,651.5 350.3,649.1 352.2,648.3 354.1,650.9 356.0,647.9 357.9,647.9 359.8,644.1 361.7,645.5 363.6,647.6 365.5,646.3 367.4,645.4 369.3,643.6 371.2,644.4 373.1,645.2 375.0,643.3 376.9,642.3 378.8,640.6 380.7,639.8 382.6,642.0 384.5,637.0 386.4,636.2 388.3,633.2 390.2,635.3 392.1,632.5 394.0,632.7 395.9,630.2 397.8,632.4 399.7,632.0 401.6,629.8 403.5,627.8 405.4,626.3 407.3,624.4 409.2,624.8 411.1,621.6 413.0,619.4 414.9,617.9 416.8,618.4 418.7,615.5 420.6,619.0 422.5,619.0 424.4,618.8 426.3,618.4 428.2,618.3 430.1,618.6 432.0,618.6 433.9,617.0 435.8,612.7 437.7,616.6 439.6,614.0 441.5,611.7 443.4,612.5 445.3,610.4 447.2,606.5 449.1,606.1 451.0,603.4 452.8,599.3 454.7,599.2 456.6,597.1 458.5,595.5 460.4,591.2 462.3,589.4 464.2,588.7 466.1,589.8 468.0,592.7 469.9,593.5 471.8,590.9 473.7,585.9 475.6,584.7 477.5,582.8 479.4,581.5 481.3,576.2 483.2,575.1 485.1,575.4 487.0,573.8 488.9,571.7 490.8,569.3 492.7,566.0 494.6,561.7 496.5,561.4 498.4,559.4 500.3,560.7 502.2,558.2 504.1,559.3 506.0,557.2 507.9,553.7 509.8,555.4 511.7,554.1 513.6,553.9 515.5,552.8 517.4,551.0 519.3,550.5 521.2,551.2 523.1,550.7 525.0,549.9 526.9,550.1 528.8,549.7 530.7,552.4 532.6,547.9 534.5,541.4 536.4,541.5 538.3,538.0 540.2,535.9 542.1,530.3 544.0,528.8 545.9,528.6 547.8,529.5 549.7,526.8 551.6,519.2 553.5,515.2 555.4,512.5 557.3,512.9 559.2,508.4 561.1,508.8 563.0,503.1 564.9,500.0 566.8,502.4 568.7,496.9 570.6,497.9 572.5,498.1 574.4,499.0 576.3,498.5 578.2,498.6 580.1,497.2 582.0,495.1 583.9,492.7 585.8,494.6 587.7,497.6 589.5,497.6 591.4,499.5 593.3,499.1 595.2,500.5 597.1,503.8 599.0,500.8 600.9,500.0 602.8,502.5 604.7,502.8 606.6,501.3 608.5,500.2 610.4,502.0 612.3,503.7 614.2,502.3 616.1,499.4 618.0,499.3 619.9,495.4 621.8,492.8 623.7,495.1 625.6,491.4 627.5,494.9 629.4,495.3 631.3,491.0 633.2,489.5 635.1,488.3 637.0,491.4 638.9,491.7 640.8,495.2 642.7,493.2 644.6,495.1 646.5,492.6 648.4,491.9 650.3,492.2 652.2,492.1 654.1,492.4 656.0,493.2 657.9,490.7 659.8,491.3 661.7,489.3 663.6,490.1 665.5,487.8 667.4,487.8 669.3,489.7 671.2,489.4 673.1,485.4 675.0,485.5 676.9,487.9 678.8,494.5 680.7,493.6 682.6,496.8 684.5,499.4 686.4,500.2 688.3,499.1 690.2,499.5 692.1,502.1 694.0,507.5 695.9,507.8 697.8,508.9 699.7,510.4 701.6,516.2 703.5,514.2 705.4,514.5 707.3,514.9 709.2,515.3 711.1,519.5 713.0,520.4 714.9,517.6 716.8,520.0 718.7,518.5 720.6,522.5 722.5,519.8 724.4,519.1 726.3,518.8 728.1,522.2 730.0,518.1 731.9,516.5 733.8,519.7 735.7,521.5 737.6,518.4 739.5,514.2 741.4,515.5 743.3,513.3 745.2,515.6 747.1,512.9 749.0,512.4 750.9,513.7 752.8,506.7 754.7,503.3 756.6,501.3 758.5,498.7 760.4,498.4 762.3,497.3 764.2,494.9 766.1,494.7 768.0,494.9 769.9,494.0 771.8,499.9 773.7,501.9 775.6,502.0 777.5,503.5 779.4,503.2 781.3,504.8 783.2,506.6 785.1,509.5 787.0,503.7 788.9,499.2 790.8,495.3 792.7,492.2 794.6,487.3 796.5,485.0 798.4,481.2 800.3,478.7 802.2,473.3 804.1,475.8 806.0,473.3 807.9,475.7 809.8,475.0 811.7,474.2 813.6,474.4 815.5,476.2 817.4,476.8 819.3,476.3 821.2,473.3 823.1,470.8 825.0,474.0 826.9,473.6 828.8,477.0 830.7,477.0 832.6,475.6 834.5,477.7 836.4,477.5 838.3,479.3 840.2,483.0 842.1,482.6 844.0,485.0 845.9,484.5 847.8,487.9 849.7,490.4 851.6,488.8 853.5,486.9 855.4,486.3 857.3,485.4 859.2,487.6 861.1,486.2 863.0,485.5 864.9,487.7 866.7,487.5 868.6,485.3 870.5,485.7 872.4,489.0 874.3,491.3 876.2,490.3 878.1,491.2 880.0,491.5 881.9,491.8 883.8,495.1 885.7,496.9 887.6,500.6 889.5,502.1 891.4,504.2 893.3,504.6 895.2,509.5 897.1,511.8 899.0,513.7 900.9,519.4 902.8,519.8 904.7,522.8 906.6,527.2 908.5,529.8 910.4,533.2 912.3,535.8 914.2,536.0 916.1,538.5 918.0,540.5 919.9,540.1 921.8,539.9 923.7,541.1 925.6,541.3 927.5,543.6 929.4,547.4 931.3,550.0 933.2,555.0 935.1,557.7 937.0,559.2 938.9,563.2 940.8,567.7 942.7,573.2 944.6,575.0 946.5,578.4 948.4,584.2 950.3,586.1 952.2,590.3 954.1,594.3 956.0,597.2 957.9,599.9 959.8,605.2 961.7,607.2 963.6,609.4 965.5,612.5 967.4,616.3 969.3,619.2 971.2,621.0 973.1,623.1 975.0,626.0 976.9,628.3 978.8,631.1 980.7,633.9 982.6,638.0 984.5,640.5 986.4,643.8 988.3,644.7 990.2,649.5 992.1,652.6 994.0,654.6 995.9,658.6 997.8,661.7 999.7,664.8 1001.6,668.5 1003.5,671.7 1005.3,674.9 1007.2,677.4 1009.1,680.7 1011.0,683.8 1012.9,688.2 1014.8,691.4 1016.7,694.6 1018.6,697.4 1020.5,698.0 1022.4,701.1 1024.3,702.5 1026.2,704.3 1028.1,706.9 1030.0,708.4 1031.9,710.9 1033.8,712.4 1035.7,714.5 1037.6,716.8 1039.5,718.5 1041.4,720.1 1043.3,721.5 1045.2,722.8 1047.1,724.0 1049.0,725.2 1050.9,726.7 1052.8,728.4 1054.7,729.9 1056.6,730.2 1058.5,731.9 1060.4,732.4 1062.3,732.7 1064.2,734.3 1066.1,733.7 1068.0,735.3 1069.9,735.9 1071.8,735.2 1073.7,736.0 1075.6,735.7 1077.5,735.3 1079.4,736.0 1081.3,736.4 1083.2,737.8 1085.1,738.3 1087.0,738.8 1088.9,739.8 1090.8,738.8 1092.7,738.7 1094.6,737.8 1096.5,737.8 1098.4,738.6 1100.3,739.8 1102.2,740.5 1104.1,742.0 1106.0,738.8 1107.9,736.6 1109.8,733.5 1111.7,732.8 1113.6,731.2 1115.5,730.2 1117.4,729.2 1119.3,728.8 1121.2,728.1 1123.1,728.5 1125.0,727.8 1126.9,727.1 1128.8,727.1 1130.7,727.1 1132.6,727.1 1134.5,726.0 1136.4,726.4 1138.3,725.9 1140.2,724.1 1142.0,723.5 1143.9,723.1 1145.8,721.0 1147.7,719.4 1149.6,718.5 1151.5,716.9 1153.4,715.7 1155.3,716.3 1157.2,714.0 1159.1,713.4 1161.0,711.0 1162.9,710.7 1164.8,709.8 1166.7,708.7 1168.6,708.2 1170.5,708.5 1172.4,707.0 1174.3,705.9 1176.2,705.2 1178.1,705.4 1180.0,704.0 1181.9,704.2 1183.8,703.2 1185.7,702.7 1187.6,700.8 1189.5,700.0 1191.4,698.8 1193.3,696.8 1195.2,694.4 1197.1,693.3 1199.0,691.4 1200.9,690.4 1202.8,689.5 1204.7,687.5 1206.6,685.6 1208.5,684.1 1210.4,681.9 1212.3,680.9 1214.2,679.0 1216.1,676.4 1218.0,674.9 1219.9,672.0 1221.8,672.1 1223.7,670.8 1225.6,669.6 1227.5,667.4 1229.4,664.9 1231.3,663.7 1233.2,662.6 1235.1,661.6 1237.0,660.8 1238.9,659.0 1240.8,658.3 1242.7,657.3 1244.6,657.8 1246.5,656.8 1248.4,655.8 1250.3,655.4 1252.2,654.5 1254.1,653.8 1256.0,652.8 1257.9,653.2 1259.8,652.4 1261.7,652.5 1263.6,651.9 1265.5,651.5 1267.4,651.2 1269.3,652.0 1271.2,652.2 1273.1,652.6 1275.0,653.4 1276.9,656.1 1278.8,656.6 1280.6,656.9 1282.5,659.2 1284.4,661.8 1286.3,663.2 1288.2,663.8 1290.1,665.6 1292.0,667.3 1293.9,669.5 1295.8,670.8 1297.7,671.8 1299.6,674.2 1301.5,676.4 1303.4,678.3 1305.3,681.0 1307.2,685.3 1309.1,688.3 1311.0,691.7 1312.9,694.9 1314.8,699.1 1316.7,703.8 1318.6,707.9 1320.5,711.9 1322.4,716.4 1324.3,719.2 1326.2,724.0 1328.1,727.8 1330.0,732.4 1331.9,736.1 1333.8,739.9 1335.7,743.4 1337.6,746.8 1339.5,750.7 1341.4,754.7 1343.3,757.6 1345.2,760.2 1347.1,763.6 1349.0,766.4 1350.9,769.8 1352.8,773.2 1354.7,779.2 1356.6,785.6 1358.5,790.6 1360.4,795.0 1362.3,798.2 1364.2,801.5 1366.1,805.6 1368.0,808.9 1369.9,811.5 1371.8,814.5 1373.7,817.0 1375.6,819.5 1377.5,822.3 1379.4,825.0 1381.3,827.3 1383.2,829.5 1385.1,831.3 1387.0,834.2 1388.9,835.6 1390.8,836.5 1392.7,837.7 1394.6,838.6 1396.5,839.8 1398.4,841.6 1400.3,842.2 1402.2,843.5 1404.1,844.6 1406.0,844.7 1407.9,845.1 1409.8,846.0 1411.7,846.4 1413.6,847.3 1415.5,847.9 1417.4,848.6 1419.2,849.6 1421.1,850.1 1423.0,850.9 1424.9,852.9 1426.8,852.6 1428.7,853.0 1430.6,853.2 1432.5,854.1 1434.4,855.3 1436.3,855.9 1438.2,856.7 1440.1,857.2 1442.0,858.0 1443.9,857.9 1445.8,858.1 1447.7,858.2 1449.6,859.0 1451.5,859.0 1453.4,860.3 1455.3,860.0 1457.2,860.7 1459.1,859.5 1461.0,859.1 1462.9,858.7 1464.8,858.7 1466.7,857.7 1468.6,857.3 1470.5,857.1 1472.4,856.9 1474.3,856.8 1476.2,857.0 1478.1,856.3 1480.0,856.5 1481.9,856.8 1483.8,858.3 1485.7,858.2 1487.6,858.3 1489.5,860.2 1491.4,860.2 1493.3,860.1 1495.2,861.0 1497.1,861.4 1499.0,861.7 1500.9,862.4 1502.8,862.7 1504.7,863.1 1506.6,862.5 1508.5,862.9 1510.4,862.1 1512.3,862.7 1514.2,862.6 1516.1,862.7 1518.0,862.3 1519.9,862.9 1521.8,862.9 1523.7,863.0 1525.6,863.1 1527.5,863.0 1529.4,863.6 1531.3,863.6 1533.2,863.3 1535.1,863.6 1537.0,864.0 1538.9,864.2 1540.8,864.7 1542.7,864.3 1544.6,864.3 1546.5,864.7 1548.4,864.8 1550.3,864.9 1552.2,865.3 1554.1,866.1 1555.9,866.0 1557.8,866.5 1559.7,866.0 1561.6,864.8 1563.5,865.1 1565.4,864.7 1567.3,865.1 1569.2,865.0 1571.1,865.0 1573.0,865.1 1574.9,865.4 1576.8,865.6 1578.7,865.9 1580.6,865.7 1582.5,865.8 1584.4,866.4 1586.3,865.5 1588.2,866.2 1590.1,866.0 1592.0,866.3 1593.9,866.8 1595.8,866.7 1597.7,867.7 1599.6,867.2 1601.5,866.7 1603.4,867.2 1605.3,867.5 1607.2,867.0 1609.1,867.1 1611.0,867.3 1612.9,866.7 1614.8,866.6 1616.7,866.3 1618.6,866.1 1620.5,865.6 1622.4,865.2 1624.3,865.5 1626.2,866.0 1628.1,866.5 1630.0,866.3 1631.9,866.8 1633.8,866.4 1635.7,866.8 1637.6,866.6 1639.5,867.0 1641.4,867.5 1643.3,867.9 1645.2,868.0 1647.1,869.6 1649.0,868.9 1650.9,868.0 1652.8,868.0 1654.7,868.1 1656.6,867.7 1658.5,866.7 1660.4,867.2 1662.3,867.1 1664.2,867.4 1666.1,867.3 1668.0,867.0 1669.9,866.9 1671.8,867.2 1673.7,866.5 1675.6,867.0 1677.5,866.7 1679.4,867.0 1681.3,867.6 1683.2,867.0 1685.1,867.4 1687.0,868.0 1688.9,868.5 1690.8,867.6 1692.7,867.9 1694.5,868.8 1696.4,868.5 1698.3,868.3 1700.2,868.3 1702.1,868.8 1704.0,868.8 1705.9,868.4 1707.8,868.5 1709.7,868.6 1711.6,868.2 1713.5,867.8 1715.4,867.5 1717.3,868.0 1719.2,867.6 1721.1,866.7 1723.0,866.8 1724.9,866.5 1726.8,866.8 1728.7,866.1 1730.6,865.3 1732.5,866.0 1734.4,865.9 1736.3,865.8 1738.2,866.3 1740.1,866.6 1742.0,866.3 1743.9,866.9 1745.8,866.2 1747.7,865.7 1749.6,866.5 1751.5,866.7 1753.4,866.4 1755.3,865.7 1757.2,865.6 1759.1,865.7 1761.0,865.6 1762.9,864.7 1764.8,864.9 1766.7,864.9 1768.6,864.5 1770.5,865.1 1772.4,865.5"/>
<polyline fill="none" stroke="#236b23" stroke-width="8.6" stroke-linejoin="round" stroke-linecap="butt" points="240.2,587.3 242.1,593.7 244.0,599.8 245.9,604.9 247.8,608.0 249.7,612.9 251.6,615.6 253.5,615.1 255.4,618.0 257.3,621.3 259.2,621.8 261.1,625.1 263.0,628.2 264.9,632.0 266.8,631.0 268.7,633.6 270.6,637.3 272.5,640.5 274.4,642.0 276.3,645.3 278.2,646.5 280.1,648.1 282.0,652.7 283.9,652.3 285.8,653.7 287.7,654.6 289.6,653.3 291.5,658.3 293.4,658.2 295.3,660.0 297.2,660.0 299.1,661.4 301.0,662.6 302.9,660.3 304.8,662.3 306.7,666.1 308.6,662.9 310.5,663.8 312.4,665.1 314.2,665.0 316.1,666.1 318.0,668.6 319.9,669.5 321.8,668.5 323.7,667.6 325.6,666.8 327.5,666.1 329.4,666.4 331.3,664.9 333.2,662.4 335.1,664.4 337.0,664.1 338.9,664.0 340.8,665.0 342.7,664.9 344.6,663.7 346.5,666.8 348.4,664.4 350.3,664.8 352.2,662.4 354.1,664.0 356.0,660.7 357.9,662.0 359.8,661.9 361.7,661.1 363.6,660.1 365.5,655.3 367.4,654.4 369.3,651.6 371.2,650.2 373.1,648.9 375.0,645.6 376.9,648.6 378.8,647.7 380.7,644.0 382.6,643.8 384.5,640.9 386.4,641.1 388.3,642.9 390.2,640.4 392.1,639.4 394.0,640.2 395.9,635.8 397.8,635.8 399.7,634.0 401.6,636.7 403.5,636.0 405.4,638.7 407.3,635.0 409.2,636.5 411.1,633.8 413.0,633.2 414.9,629.9 416.8,627.2 418.7,626.1 420.6,625.8 422.5,624.1 424.4,622.0 426.3,623.0 428.2,623.7 430.1,623.3 432.0,623.9 433.9,624.0 435.8,625.3 437.7,624.8 439.6,624.0 441.5,625.1 443.4,620.9 445.3,618.4 447.2,614.2 449.1,613.0 451.0,611.6 452.8,610.5 454.7,607.1 456.6,605.6 458.5,600.9 460.4,598.0 462.3,593.4 464.2,595.2 466.1,595.4 468.0,590.5 469.9,585.2 471.8,585.7 473.7,581.5 475.6,577.7 477.5,573.2 479.4,569.8 481.3,567.8 483.2,566.7 485.1,564.4 487.0,563.1 488.9,560.0 490.8,557.4 492.7,560.2 494.6,555.2 496.5,547.6 498.4,547.0 500.3,546.0 502.2,544.1 504.1,540.6 506.0,539.7 507.9,537.9 509.8,535.2 511.7,531.6 513.6,531.2 515.5,526.9 517.4,528.0 519.3,524.7 521.2,524.7 523.1,525.4 525.0,526.0 526.9,524.2 528.8,521.9 530.7,520.4 532.6,520.5 534.5,518.5 536.4,514.7 538.3,515.2 540.2,514.0 542.1,512.6 544.0,508.0 545.9,508.7 547.8,504.7 549.7,501.0 551.6,496.6 553.5,493.9 555.4,494.8 557.3,492.0 559.2,489.0 561.1,488.2 563.0,482.8 564.9,483.2 566.8,477.0 568.7,474.1 570.6,470.2 572.5,471.4 574.4,475.0 576.3,478.8 578.2,482.4 580.1,482.0 582.0,484.4 583.9,481.4 585.8,479.4 587.7,480.5 589.5,482.0 591.4,485.1 593.3,485.4 595.2,484.8 597.1,485.1 599.0,484.6 600.9,485.3 602.8,482.2 604.7,483.2 606.6,484.9 608.5,486.6 610.4,487.6 612.3,486.8 614.2,486.9 616.1,486.0 618.0,489.0 619.9,487.1 621.8,484.5 623.7,481.0 625.6,478.5 627.5,481.5 629.4,479.9 631.3,477.2 633.2,476.5 635.1,476.1 637.0,477.2 638.9,473.4 640.8,475.5 642.7,473.3 644.6,475.4 646.5,474.3 648.4,476.0 650.3,476.6 652.2,475.2 654.1,479.0 656.0,483.0 657.9,480.0 659.8,482.5 661.7,483.2 663.6,484.5 665.5,490.3 667.4,491.3 669.3,495.1 671.2,499.8 673.1,500.9 675.0,505.0 676.9,508.2 678.8,511.2 680.7,515.2 682.6,517.3 684.5,520.5 686.4,521.0 688.3,523.2 690.2,528.9 692.1,529.9 694.0,531.3 695.9,530.8 697.8,535.7 699.7,541.2 701.6,540.6 703.5,541.6 705.4,543.4 707.3,548.0 709.2,552.2 711.1,551.4 713.0,559.0 714.9,561.0 716.8,561.4 718.7,566.7 720.6,571.1 722.5,568.6 724.4,567.2 726.3,568.4 728.1,569.7 730.0,570.7 731.9,574.5 733.8,575.4 735.7,577.4 737.6,577.5 739.5,576.8 741.4,571.6 743.3,572.6 745.2,574.4 747.1,572.7 749.0,571.2 750.9,567.7 752.8,567.3 754.7,567.5 756.6,566.3 758.5,563.8 760.4,563.7 762.3,560.8 764.2,558.7 766.1,557.8 768.0,557.5 769.9,559.3 771.8,560.4 773.7,561.2 775.6,562.3 777.5,562.3 779.4,559.0 781.3,561.6 783.2,560.8 785.1,560.2 787.0,560.0 788.9,558.4 790.8,556.7 792.7,552.9 794.6,550.5 796.5,549.0 798.4,543.5 800.3,541.6 802.2,536.9 804.1,534.7 806.0,534.1 807.9,536.8 809.8,534.1 811.7,533.1 813.6,528.8 815.5,527.5 817.4,529.1 819.3,530.3 821.2,531.0 823.1,533.0 825.0,534.8 826.9,534.3 828.8,532.7 830.7,533.9 832.6,533.0 834.5,533.2 836.4,536.4 838.3,538.9 840.2,541.3 842.1,539.9 844.0,538.8 845.9,540.8 847.8,539.2 849.7,540.1 851.6,542.6 853.5,541.4 855.4,539.2 857.3,540.6 859.2,541.5 861.1,540.0 863.0,539.2 864.9,539.6 866.7,538.0 868.6,540.2 870.5,541.7 872.4,542.7 874.3,544.3 876.2,544.0 878.1,546.6 880.0,548.0 881.9,549.5 883.8,550.4 885.7,553.0 887.6,554.0 889.5,552.3 891.4,555.6 893.3,558.6 895.2,560.0 897.1,566.6 899.0,570.6 900.9,572.4 902.8,575.4 904.7,578.6 906.6,581.4 908.5,581.7 910.4,585.6 912.3,589.9 914.2,596.2 916.1,597.9 918.0,600.5 919.9,603.0 921.8,603.4 923.7,605.4 925.6,606.8 927.5,610.5 929.4,612.8 931.3,614.8 933.2,615.7 935.1,618.1 937.0,620.0 938.9,621.0 940.8,623.5 942.7,625.9 944.6,627.7 946.5,630.4 948.4,631.4 950.3,633.4 952.2,637.7 954.1,639.1 956.0,642.2 957.9,645.1 959.8,646.5 961.7,648.1 963.6,651.6 965.5,655.3 967.4,660.0 969.3,663.0 971.2,666.2 973.1,667.4 975.0,668.9 976.9,670.3 978.8,673.9 980.7,674.4 982.6,677.1 984.5,678.2 986.4,681.3 988.3,683.5 990.2,685.8 992.1,689.5 994.0,692.4 995.9,694.7 997.8,696.3 999.7,698.5 1001.6,700.5 1003.5,702.5 1005.3,706.1 1007.2,708.7 1009.1,711.6 1011.0,712.8 1012.9,715.8 1014.8,717.3 1016.7,719.6 1018.6,722.3 1020.5,723.2 1022.4,724.7 1024.3,726.1 1026.2,726.6 1028.1,727.3 1030.0,730.2 1031.9,732.3 1033.8,733.5 1035.7,736.7 1037.6,739.0 1039.5,740.5 1041.4,742.0 1043.3,744.0 1045.2,745.7 1047.1,747.2 1049.0,749.7 1050.9,751.1 1052.8,751.8 1054.7,753.0 1056.6,754.4 1058.5,755.7 1060.4,755.8 1062.3,756.5 1064.2,757.6 1066.1,758.5 1068.0,758.7 1069.9,759.2 1071.8,760.0 1073.7,760.2 1075.6,761.2 1077.5,761.3 1079.4,762.0 1081.3,762.4 1083.2,762.9 1085.1,764.1 1087.0,763.9 1088.9,765.4 1090.8,763.8 1092.7,763.2 1094.6,763.9 1096.5,764.0 1098.4,762.9 1100.3,762.8 1102.2,761.9 1104.1,761.6 1106.0,761.1 1107.9,761.4 1109.8,760.7 1111.7,759.0 1113.6,758.7 1115.5,757.6 1117.4,757.9 1119.3,757.0 1121.2,756.3 1123.1,755.3 1125.0,755.8 1126.9,755.0 1128.8,754.8 1130.7,754.3 1132.6,753.6 1134.5,753.1 1136.4,753.8 1138.3,752.6 1140.2,752.2 1142.0,750.5 1143.9,749.7 1145.8,748.0 1147.7,746.8 1149.6,746.1 1151.5,744.5 1153.4,743.4 1155.3,742.1 1157.2,740.5 1159.1,739.5 1161.0,738.8 1162.9,737.5 1164.8,736.7 1166.7,736.2 1168.6,734.4 1170.5,734.2 1172.4,734.7 1174.3,733.8 1176.2,733.9 1178.1,732.9 1180.0,732.8 1181.9,731.0 1183.8,730.2 1185.7,730.3 1187.6,727.4 1189.5,726.3 1191.4,726.1 1193.3,724.7 1195.2,723.4 1197.1,722.2 1199.0,719.8 1200.9,717.5 1202.8,717.2 1204.7,715.1 1206.6,713.3 1208.5,712.0 1210.4,711.9 1212.3,711.2 1214.2,708.9 1216.1,707.9 1218.0,707.2 1219.9,705.6 1221.8,705.4 1223.7,704.3 1225.6,702.6 1227.5,701.1 1229.4,700.5 1231.3,699.0 1233.2,697.5 1235.1,695.7 1237.0,695.5 1238.9,693.6 1240.8,692.8 1242.7,692.5 1244.6,692.1 1246.5,691.4 1248.4,691.1 1250.3,689.7 1252.2,688.8 1254.1,687.5 1256.0,686.9 1257.9,686.9 1259.8,687.6 1261.7,689.1 1263.6,687.7 1265.5,688.4 1267.4,690.0 1269.3,690.0 1271.2,690.6 1273.1,691.5 1275.0,691.0 1276.9,692.9 1278.8,694.6 1280.6,695.3 1282.5,695.4 1284.4,696.0 1286.3,698.1 1288.2,699.6 1290.1,701.0 1292.0,702.9 1293.9,704.8 1295.8,706.3 1297.7,708.4 1299.6,709.4 1301.5,712.4 1303.4,714.1 1305.3,717.0 1307.2,719.7 1309.1,721.7 1311.0,725.5 1312.9,728.5 1314.8,733.2 1316.7,735.9 1318.6,739.0 1320.5,742.7 1322.4,746.4 1324.3,750.6 1326.2,752.8 1328.1,757.0 1330.0,760.6 1331.9,763.1 1333.8,766.2 1335.7,769.6 1337.6,772.1 1339.5,775.2 1341.4,778.2 1343.3,781.0 1345.2,782.8 1347.1,786.1 1349.0,788.2 1350.9,790.6 1352.8,793.7 1354.7,795.7 1356.6,798.8 1358.5,801.7 1360.4,803.9 1362.3,806.0 1364.2,808.5 1366.1,810.3 1368.0,812.5 1369.9,815.7 1371.8,818.6 1373.7,821.3 1375.6,824.0 1377.5,827.0 1379.4,828.1 1381.3,829.8 1383.2,833.1 1385.1,835.2 1387.0,837.8 1388.9,839.4 1390.8,840.6 1392.7,841.4 1394.6,842.8 1396.5,844.9 1398.4,844.3 1400.3,845.5 1402.2,846.7 1404.1,847.6 1406.0,848.1 1407.9,848.8 1409.8,849.7 1411.7,850.3 1413.6,850.8 1415.5,851.9 1417.4,852.0 1419.2,852.8 1421.1,854.2 1423.0,854.7 1424.9,855.3 1426.8,856.6 1428.7,857.5 1430.6,858.0 1432.5,857.8 1434.4,858.1 1436.3,859.0 1438.2,859.5 1440.1,859.7 1442.0,859.6 1443.9,860.9 1445.8,859.9 1447.7,860.2 1449.6,861.2 1451.5,861.3 1453.4,862.4 1455.3,862.4 1457.2,862.1 1459.1,861.7 1461.0,861.6 1462.9,861.4 1464.8,861.1 1466.7,859.6 1468.6,859.2 1470.5,859.0 1472.4,858.7 1474.3,858.6 1476.2,858.8 1478.1,859.1 1480.0,858.8 1481.9,859.2 1483.8,860.5 1485.7,860.9 1487.6,861.4 1489.5,861.3 1491.4,862.1 1493.3,862.6 1495.2,863.2 1497.1,863.6 1499.0,864.4 1500.9,865.1 1502.8,865.0 1504.7,864.9 1506.6,864.4 1508.5,864.8 1510.4,864.8 1512.3,865.6 1514.2,865.4 1516.1,865.3 1518.0,865.5 1519.9,865.1 1521.8,865.2 1523.7,865.8 1525.6,865.3 1527.5,865.4 1529.4,865.4 1531.3,865.9 1533.2,866.8 1535.1,866.6 1537.0,866.2 1538.9,866.9 1540.8,866.4 1542.7,867.1 1544.6,867.2 1546.5,867.0 1548.4,867.7 1550.3,866.8 1552.2,867.9 1554.1,867.6 1555.9,868.1 1557.8,868.3 1559.7,867.7 1561.6,867.7 1563.5,867.7 1565.4,868.5 1567.3,868.2 1569.2,867.6 1571.1,867.4 1573.0,867.9 1574.9,867.5 1576.8,867.3 1578.7,867.3 1580.6,868.6 1582.5,868.3 1584.4,868.2 1586.3,868.1 1588.2,868.4 1590.1,868.9 1592.0,868.3 1593.9,868.5 1595.8,869.2 1597.7,868.5 1599.6,868.9 1601.5,869.3 1603.4,868.7 1605.3,869.6 1607.2,869.7 1609.1,869.6 1611.0,869.5 1612.9,869.6 1614.8,869.1 1616.7,869.1 1618.6,868.7 1620.5,867.4 1622.4,868.3 1624.3,867.6 1626.2,868.1 1628.1,869.2 1630.0,868.8 1631.9,868.6 1633.8,868.1 1635.7,869.8 1637.6,869.7 1639.5,870.4 1641.4,870.1 1643.3,871.0 1645.2,871.5 1647.1,871.4 1649.0,870.8 1650.9,870.8 1652.8,871.0 1654.7,870.1 1656.6,870.5 1658.5,870.8 1660.4,869.7 1662.3,869.7 1664.2,869.4 1666.1,869.7 1668.0,870.0 1669.9,868.8 1671.8,869.6 1673.7,869.0 1675.6,869.3 1677.5,868.8 1679.4,869.3 1681.3,870.4 1683.2,869.7 1685.1,869.7 1687.0,870.7 1688.9,870.7 1690.8,870.7 1692.7,870.7 1694.5,870.6 1696.4,871.4 1698.3,871.4 1700.2,871.0 1702.1,871.1 1704.0,871.8 1705.9,872.1 1707.8,871.1 1709.7,871.0 1711.6,870.9 1713.5,870.1 1715.4,870.3 1717.3,870.4 1719.2,870.7 1721.1,869.6 1723.0,869.6 1724.9,869.6 1726.8,868.3 1728.7,868.0 1730.6,867.8 1732.5,868.0 1734.4,867.9 1736.3,868.0 1738.2,868.4 1740.1,868.9 1742.0,869.3 1743.9,868.7 1745.8,869.3 1747.7,869.3 1749.6,869.5 1751.5,869.5 1753.4,868.7 1755.3,869.2 1757.2,868.3 1759.1,868.9 1761.0,868.6 1762.9,867.5 1764.8,867.7 1766.7,867.7 1768.6,868.1 1770.5,868.3 1772.4,867.6"/>
<polyline fill="none" stroke="#5fb0e0" stroke-width="8.6" stroke-linejoin="round" stroke-linecap="butt" points="240.2,622.0 242.1,624.8 244.0,623.3 245.9,624.6 247.8,627.5 249.7,623.9 251.6,625.8 253.5,625.8 255.4,627.2 257.3,628.9 259.2,633.2 261.1,628.0 263.0,629.2 264.9,630.9 266.8,635.5 268.7,635.6 270.6,633.6 272.5,633.0 274.4,635.3 276.3,636.7 278.2,634.7 280.1,634.3 282.0,632.6 283.9,635.5 285.8,635.5 287.7,633.0 289.6,633.2 291.5,631.9 293.4,635.2 295.3,635.8 297.2,636.5 299.1,637.5 301.0,639.6 302.9,636.9 304.8,637.3 306.7,638.0 308.6,637.5 310.5,638.9 312.4,637.0 314.2,636.5 316.1,635.9 318.0,636.0 319.9,636.1 321.8,643.0 323.7,642.8 325.6,638.9 327.5,641.3 329.4,639.7 331.3,642.6 333.2,643.3 335.1,641.0 337.0,641.5 338.9,644.2 340.8,646.4 342.7,647.7 344.6,644.4 346.5,644.1 348.4,641.0 350.3,640.3 352.2,641.0 354.1,640.0 356.0,639.1 357.9,633.4 359.8,633.0 361.7,635.2 363.6,633.0 365.5,632.8 367.4,635.0 369.3,631.8 371.2,629.7 373.1,627.4 375.0,625.2 376.9,627.9 378.8,625.6 380.7,625.8 382.6,621.6 384.5,625.9 386.4,622.9 388.3,620.5 390.2,621.4 392.1,621.9 394.0,622.2 395.9,621.5 397.8,623.0 399.7,624.3 401.6,623.8 403.5,624.6 405.4,623.2 407.3,621.5 409.2,623.5 411.1,624.0 413.0,628.2 414.9,629.7 416.8,625.2 418.7,626.3 420.6,632.3 422.5,631.0 424.4,632.2 426.3,635.7 428.2,638.4 430.1,638.9 432.0,637.7 433.9,641.1 435.8,644.1 437.7,644.4 439.6,640.9 441.5,643.3 443.4,643.6 445.3,643.5 447.2,643.6 449.1,645.3 451.0,642.1 452.8,643.9 454.7,642.8 456.6,644.2 458.5,647.3 460.4,649.7 462.3,649.7 464.2,649.8 466.1,652.3 468.0,654.7 469.9,657.4 471.8,656.7 473.7,658.7 475.6,659.4 477.5,659.6 479.4,659.5 481.3,662.0 483.2,661.9 485.1,662.3 487.0,663.0 488.9,661.9 490.8,662.4 492.7,662.7 494.6,663.8 496.5,665.5 498.4,663.9 500.3,667.3 502.2,665.9 504.1,665.8 506.0,666.6 507.9,665.8 509.8,667.9 511.7,666.0 513.6,667.3 515.5,665.8 517.4,664.2 519.3,666.7 521.2,665.6 523.1,667.4 525.0,669.1 526.9,669.2 528.8,667.8 530.7,670.3 532.6,668.6 534.5,670.5 536.4,667.4 538.3,665.7 540.2,668.8 542.1,666.9 544.0,668.9 545.9,671.2 547.8,671.6 549.7,668.2 551.6,668.1 553.5,666.9 555.4,664.6 557.3,660.8 559.2,658.1 561.1,654.7 563.0,650.7 564.9,648.1 566.8,648.6 568.7,645.9 570.6,643.0 572.5,639.4 574.4,636.8 576.3,635.7 578.2,632.8 580.1,628.1 582.0,628.9 583.9,626.5 585.8,624.9 587.7,625.1 589.5,623.0 591.4,618.5 593.3,615.3 595.2,611.0 597.1,608.9 599.0,608.9 600.9,606.9 602.8,603.9 604.7,600.9 606.6,598.2 608.5,595.5 610.4,594.4 612.3,588.5 614.2,584.4 616.1,581.7 618.0,581.4 619.9,579.4 621.8,580.4 623.7,575.8 625.6,572.2 627.5,569.6 629.4,569.3 631.3,566.6 633.2,564.0 635.1,561.7 637.0,560.3 638.9,561.0 640.8,556.8 642.7,556.5 644.6,551.1 646.5,549.5 648.4,543.1 650.3,542.5 652.2,536.9 654.1,531.4 656.0,526.6 657.9,518.6 659.8,510.3 661.7,503.6 663.6,494.3 665.5,490.9 667.4,480.4 669.3,474.8 671.2,470.1 673.1,463.7 675.0,461.4 676.9,458.4 678.8,453.8 680.7,448.3 682.6,447.8 684.5,441.6 686.4,437.8 688.3,433.0 690.2,429.0 692.1,418.7 694.0,415.0 695.9,414.2 697.8,403.7 699.7,397.8 701.6,394.5 703.5,387.9 705.4,379.1 707.3,369.6 709.2,370.6 711.1,364.1 713.0,361.5 714.9,363.2 716.8,362.2 718.7,354.8 720.6,353.1 722.5,352.7 724.4,347.3 726.3,339.5 728.1,336.5 730.0,332.9 731.9,326.0 733.8,320.5 735.7,316.6 737.6,308.9 739.5,307.0 741.4,305.7 743.3,300.6 745.2,298.1 747.1,294.0 749.0,290.8 750.9,290.7 752.8,285.6 754.7,278.8 756.6,274.5 758.5,273.7 760.4,268.5 762.3,263.7 764.2,263.4 766.1,260.6 768.0,254.3 769.9,253.9 771.8,250.4 773.7,253.4 775.6,250.6 777.5,248.4 779.4,248.0 781.3,250.8 783.2,249.0 785.1,249.6 787.0,248.2 788.9,245.2 790.8,243.0 792.7,244.3 794.6,236.1 796.5,232.4 798.4,227.9 800.3,221.1 802.2,218.3 804.1,210.5 806.0,209.3 807.9,204.6 809.8,203.8 811.7,198.6 813.6,193.6 815.5,195.2 817.4,191.3 819.3,192.3 821.2,195.4 823.1,195.3 825.0,192.5 826.9,193.7 828.8,194.0 830.7,197.3 832.6,199.1 834.5,201.1 836.4,202.2 838.3,203.6 840.2,202.9 842.1,203.4 844.0,205.8 845.9,208.9 847.8,210.6 849.7,211.1 851.6,212.9 853.5,215.7 855.4,215.4 857.3,219.8 859.2,219.3 861.1,221.3 863.0,222.0 864.9,224.2 866.7,220.7 868.6,222.9 870.5,222.4 872.4,224.5 874.3,226.5 876.2,229.2 878.1,229.5 880.0,233.8 881.9,235.5 883.8,238.6 885.7,238.9 887.6,241.0 889.5,247.4 891.4,253.8 893.3,254.6 895.2,260.0 897.1,260.1 899.0,263.5 900.9,268.2 902.8,271.4 904.7,272.4 906.6,277.0 908.5,280.2 910.4,286.4 912.3,290.8 914.2,294.0 916.1,298.6 918.0,300.0 919.9,299.5 921.8,304.3 923.7,305.2 925.6,309.6 927.5,313.8 929.4,319.6 931.3,326.0 933.2,328.5 935.1,332.7 937.0,338.2 938.9,340.9 940.8,348.9 942.7,354.6 944.6,360.3 946.5,372.0 948.4,379.1 950.3,383.1 952.2,389.3 954.1,393.6 956.0,400.2 957.9,402.9 959.8,409.6 961.7,413.7 963.6,419.6 965.5,423.1 967.4,426.6 969.3,429.1 971.2,434.3 973.1,441.6 975.0,446.0 976.9,451.0 978.8,456.9 980.7,460.8 982.6,466.6 984.5,472.0 986.4,475.1 988.3,478.4 990.2,484.1 992.1,491.8 994.0,498.0 995.9,504.0 997.8,512.8 999.7,520.1 1001.6,526.7 1003.5,533.9 1005.3,541.0 1007.2,548.1 1009.1,548.0 1011.0,551.5 1012.9,556.4 1014.8,561.1 1016.7,565.1 1018.6,571.3 1020.5,576.1 1022.4,578.2 1024.3,581.2 1026.2,584.8 1028.1,587.8 1030.0,592.2 1031.9,596.4 1033.8,599.9 1035.7,602.1 1037.6,603.7 1039.5,607.3 1041.4,610.0 1043.3,612.7 1045.2,615.3 1047.1,618.5 1049.0,622.7 1050.9,626.1 1052.8,628.4 1054.7,630.2 1056.6,632.5 1058.5,635.5 1060.4,637.1 1062.3,640.1 1064.2,640.8 1066.1,642.5 1068.0,645.8 1069.9,645.8 1071.8,645.8 1073.7,646.4 1075.6,647.5 1077.5,647.1 1079.4,646.7 1081.3,647.5 1083.2,648.0 1085.1,649.6 1087.0,649.3 1088.9,648.3 1090.8,648.2 1092.7,648.0 1094.6,646.3 1096.5,644.5 1098.4,644.2 1100.3,642.6 1102.2,641.5 1104.1,640.9 1106.0,639.7 1107.9,640.4 1109.8,639.0 1111.7,637.2 1113.6,635.1 1115.5,636.2 1117.4,634.9 1119.3,633.5 1121.2,632.1 1123.1,629.5 1125.0,630.2 1126.9,629.5 1128.8,627.7 1130.7,625.8 1132.6,624.4 1134.5,622.4 1136.4,621.4 1138.3,619.3 1140.2,617.2 1142.0,614.1 1143.9,612.8 1145.8,612.1 1147.7,609.1 1149.6,605.8 1151.5,603.4 1153.4,600.6 1155.3,598.3 1157.2,595.6 1159.1,593.8 1161.0,593.2 1162.9,591.7 1164.8,589.2 1166.7,587.4 1168.6,586.8 1170.5,584.8 1172.4,583.7 1174.3,582.2 1176.2,581.7 1178.1,579.9 1180.0,578.1 1181.9,573.8 1183.8,572.3 1185.7,570.4 1187.6,566.7 1189.5,564.5 1191.4,562.6 1193.3,558.5 1195.2,556.2 1197.1,553.7 1199.0,550.5 1200.9,547.3 1202.8,544.2 1204.7,540.7 1206.6,538.5 1208.5,535.1 1210.4,532.8 1212.3,529.4 1214.2,527.8 1216.1,525.3 1218.0,522.0 1219.9,519.4 1221.8,515.7 1223.7,512.9 1225.6,510.8 1227.5,508.8 1229.4,505.0 1231.3,501.8 1233.2,498.5 1235.1,495.4 1237.0,493.3 1238.9,491.3 1240.8,488.4 1242.7,486.7 1244.6,484.3 1246.5,483.1 1248.4,480.8 1250.3,479.9 1252.2,478.9 1254.1,477.2 1256.0,477.8 1257.9,475.9 1259.8,474.4 1261.7,473.7 1263.6,473.5 1265.5,471.1 1267.4,471.9 1269.3,474.1 1271.2,474.8 1273.1,475.4 1275.0,477.3 1276.9,478.6 1278.8,481.5 1280.6,483.9 1282.5,486.6 1284.4,486.8 1286.3,490.6 1288.2,494.2 1290.1,498.4 1292.0,501.6 1293.9,504.2 1295.8,508.0 1297.7,512.7 1299.6,518.5 1301.5,523.5 1303.4,526.5 1305.3,532.2 1307.2,536.7 1309.1,545.3 1311.0,550.1 1312.9,556.7 1314.8,562.7 1316.7,568.4 1318.6,575.3 1320.5,583.1 1322.4,588.1 1324.3,596.5 1326.2,604.6 1328.1,612.8 1330.0,620.5 1331.9,628.8 1333.8,637.2 1335.7,644.6 1337.6,650.5 1339.5,658.4 1341.4,664.6 1343.3,671.3 1345.2,677.5 1347.1,683.3 1349.0,689.5 1350.9,698.0 1352.8,704.3 1354.7,711.0 1356.6,718.8 1358.5,725.1 1360.4,731.4 1362.3,737.7 1364.2,743.9 1366.1,749.9 1368.0,755.6 1369.9,761.2 1371.8,766.8 1373.7,772.1 1375.6,776.5 1377.5,781.6 1379.4,786.3 1381.3,789.6 1383.2,794.4 1385.1,798.6 1387.0,803.5 1388.9,807.9 1390.8,810.4 1392.7,813.4 1394.6,816.1 1396.5,819.7 1398.4,822.0 1400.3,824.1 1402.2,826.9 1404.1,829.0 1406.0,831.3 1407.9,833.4 1409.8,835.5 1411.7,836.9 1413.6,838.5 1415.5,840.8 1417.4,843.3 1419.2,844.0 1421.1,846.2 1423.0,847.6 1424.9,849.1 1426.8,850.5 1428.7,852.1 1430.6,853.9 1432.5,854.8 1434.4,856.3 1436.3,857.1 1438.2,858.0 1440.1,859.4 1442.0,860.6 1443.9,861.6 1445.8,862.3 1447.7,863.4 1449.6,864.3 1451.5,865.5 1453.4,865.6 1455.3,866.9 1457.2,867.8 1459.1,868.7 1461.0,869.2 1462.9,869.4 1464.8,869.0 1466.7,868.3 1468.6,867.5 1470.5,867.2 1472.4,867.4 1474.3,867.2 1476.2,867.1 1478.1,867.2 1480.0,866.9 1481.9,868.0 1483.8,868.7 1485.7,869.5 1487.6,870.0 1489.5,870.5 1491.4,870.6 1493.3,871.2 1495.2,871.7 1497.1,871.7 1499.0,873.2 1500.9,873.3 1502.8,873.7 1504.7,872.8 1506.6,873.6 1508.5,873.7 1510.4,873.5 1512.3,873.1 1514.2,873.9 1516.1,873.7 1518.0,873.7 1519.9,874.0 1521.8,873.5 1523.7,873.9 1525.6,874.2 1527.5,873.9 1529.4,874.5 1531.3,874.8 1533.2,874.2 1535.1,873.6 1537.0,874.4 1538.9,875.0 1540.8,875.1 1542.7,875.7 1544.6,875.3 1546.5,875.0 1548.4,875.7 1550.3,876.0 1552.2,876.6 1554.1,876.6 1555.9,876.1 1557.8,877.1 1559.7,877.1 1561.6,877.5 1563.5,877.0 1565.4,876.5 1567.3,876.7 1569.2,875.9 1571.1,876.0 1573.0,875.9 1574.9,876.1 1576.8,876.1 1578.7,876.3 1580.6,876.4 1582.5,876.5 1584.4,876.9 1586.3,877.7 1588.2,877.4 1590.1,877.6 1592.0,877.6 1593.9,878.1 1595.8,878.4 1597.7,878.0 1599.6,878.2 1601.5,878.2 1603.4,878.5 1605.3,879.0 1607.2,878.7 1609.1,878.6 1611.0,878.3 1612.9,878.4 1614.8,877.0 1616.7,877.0 1618.6,877.6 1620.5,876.9 1622.4,876.7 1624.3,876.7 1626.2,876.8 1628.1,876.9 1630.0,877.4 1631.9,878.0 1633.8,877.6 1635.7,877.5 1637.6,877.7 1639.5,877.7 1641.4,878.5 1643.3,878.9 1645.2,879.6 1647.1,879.9 1649.0,879.9 1650.9,879.3 1652.8,879.0 1654.7,878.2 1656.6,878.2 1658.5,878.8 1660.4,878.7 1662.3,879.4 1664.2,878.7 1666.1,877.6 1668.0,877.5 1669.9,878.1 1671.8,877.9 1673.7,877.9 1675.6,877.6 1677.5,877.4 1679.4,878.3 1681.3,878.3 1683.2,878.3 1685.1,878.6 1687.0,878.6 1688.9,878.9 1690.8,878.7 1692.7,879.2 1694.5,879.0 1696.4,879.3 1698.3,879.2 1700.2,879.6 1702.1,879.7 1704.0,879.9 1705.9,880.1 1707.8,879.7 1709.7,879.7 1711.6,879.7 1713.5,878.6 1715.4,878.5 1717.3,878.1 1719.2,877.6 1721.1,877.7 1723.0,877.6 1724.9,876.8 1726.8,876.8 1728.7,876.7 1730.6,877.3 1732.5,876.7 1734.4,876.1 1736.3,876.6 1738.2,877.1 1740.1,877.2 1742.0,877.5 1743.9,877.6 1745.8,877.9 1747.7,877.9 1749.6,877.8 1751.5,877.7 1753.4,877.4 1755.3,877.6 1757.2,877.7 1759.1,876.2 1761.0,876.4 1762.9,876.7 1764.8,876.2 1766.7,876.2 1768.6,875.9 1770.5,876.6 1772.4,876.0"/>
</g>
<g fill="none" stroke="#000" stroke-width="8">
<path d="M470.4 520.8 L467.2 382" stroke-linecap="butt"/>
<path d="M449.3 410.2 L467 379 L486.4 409.6" stroke-linecap="round" stroke-linejoin="miter" stroke-miterlimit="10"/>
<path d="M1076.9 297.8 L1080.2 472" stroke-linecap="butt"/>
<path d="M1062 444 L1080.3 474 L1097.8 442.8" stroke-linecap="round" stroke-linejoin="miter" stroke-miterlimit="10"/>
</g>
<g font-family="'Liberation Sans', Arial, sans-serif" font-weight="bold" fill="#000">
<text x="177.8" y="923.6" font-size="68.0" text-anchor="end" textLength="38.4" lengthAdjust="spacingAndGlyphs">0</text>
<text x="177.8" y="802.8" font-size="68.0" text-anchor="end" textLength="92.3" lengthAdjust="spacingAndGlyphs">0.1</text>
<text x="177.8" y="682.1" font-size="68.0" text-anchor="end" textLength="92.3" lengthAdjust="spacingAndGlyphs">0.2</text>
<text x="177.8" y="561.3" font-size="68.0" text-anchor="end" textLength="92.3" lengthAdjust="spacingAndGlyphs">0.3</text>
<text x="177.8" y="440.6" font-size="68.0" text-anchor="end" textLength="92.3" lengthAdjust="spacingAndGlyphs">0.4</text>
<text x="177.8" y="319.8" font-size="68.0" text-anchor="end" textLength="92.3" lengthAdjust="spacingAndGlyphs">0.5</text>
<text x="177.8" y="199.1" font-size="68.0" text-anchor="end" textLength="92.3" lengthAdjust="spacingAndGlyphs">0.6</text>
<text x="177.8" y="78.3" font-size="68.0" text-anchor="end" textLength="92.3" lengthAdjust="spacingAndGlyphs">0.7</text>
<text x="244.8" y="1016.6" font-size="68.0" text-anchor="middle" textLength="112.4" lengthAdjust="spacingAndGlyphs">300</text>
<text x="434.7" y="1016.6" font-size="68.0" text-anchor="middle" textLength="112.4" lengthAdjust="spacingAndGlyphs">350</text>
<text x="624.5" y="1016.6" font-size="68.0" text-anchor="middle" textLength="112.4" lengthAdjust="spacingAndGlyphs">400</text>
<text x="814.4" y="1016.6" font-size="68.0" text-anchor="middle" textLength="112.4" lengthAdjust="spacingAndGlyphs">450</text>
<text x="1004.2" y="1016.6" font-size="68.0" text-anchor="middle" textLength="112.4" lengthAdjust="spacingAndGlyphs">500</text>
<text x="1194.1" y="1016.6" font-size="68.0" text-anchor="middle" textLength="112.4" lengthAdjust="spacingAndGlyphs">550</text>
<text x="1384.0" y="1016.6" font-size="68.0" text-anchor="middle" textLength="112.4" lengthAdjust="spacingAndGlyphs">600</text>
<text x="1573.8" y="1016.6" font-size="68.0" text-anchor="middle" textLength="112.4" lengthAdjust="spacingAndGlyphs">650</text>
<text x="1763.7" y="1016.6" font-size="68.0" text-anchor="middle" textLength="112.4" lengthAdjust="spacingAndGlyphs">700</text>
<text x="1003.6" y="1067" font-size="64" text-anchor="middle" textLength="514" lengthAdjust="spacingAndGlyphs">Wavelength (nm)</text>
<text transform="translate(72.6 478.8) rotate(-90)" font-size="64" text-anchor="middle" textLength="354.5" lengthAdjust="spacingAndGlyphs">Absorbance</text>
<text y="508.5" font-size="64"><tspan x="273" textLength="102" lengthAdjust="spacingAndGlyphs">[Hg</tspan><tspan x="375" y="488" font-size="43" textLength="48" lengthAdjust="spacingAndGlyphs">2+</tspan><tspan x="423.5" y="508.5">]</tspan></text>
</g>
</svg>
</body></html>
